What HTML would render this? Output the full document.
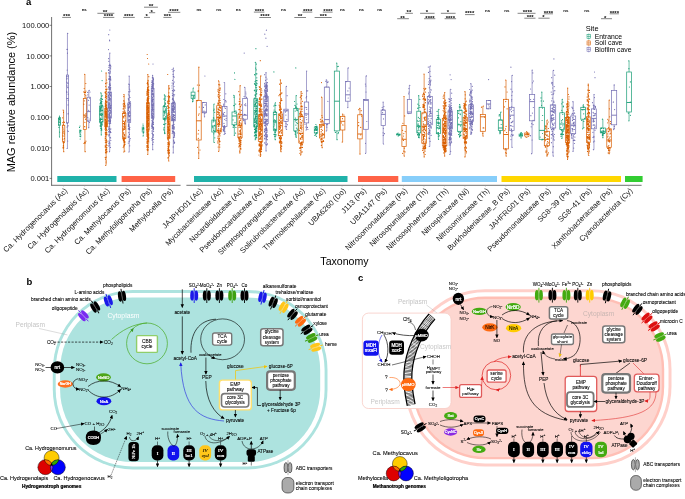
<!DOCTYPE html>
<html><head><meta charset="utf-8"><style>
html,body{margin:0;padding:0;background:#fff;}
body{width:685px;height:499px;overflow:hidden;}
svg{display:block;font-family:"Liberation Sans",sans-serif;will-change:transform;}
</style></head><body>
<svg width="685" height="499" viewBox="0 0 685 499">
<rect width="685" height="499" fill="#fff"/>
<text x="26" y="5" font-size="9.5" font-weight="bold" font-family="Liberation Sans, sans-serif">a</text>
<text transform="translate(15.3,102.1) rotate(-90)" text-anchor="middle" font-size="10.95" font-family="Liberation Sans, sans-serif">MAG relative abundance (%)</text>
<line x1="51.6" y1="17" x2="51.6" y2="185.6" stroke="#333" stroke-width="0.7"/>
<line x1="49.6" x2="51.6" y1="25.3" y2="25.3" stroke="#333" stroke-width="0.6"/>
<text x="49.3" y="28" text-anchor="end" font-size="7.55" fill="#111" font-family="Liberation Sans, sans-serif">100.000</text>
<line x1="49.6" x2="51.6" y1="55.9" y2="55.9" stroke="#333" stroke-width="0.6"/>
<text x="49.3" y="58.6" text-anchor="end" font-size="7.55" fill="#111" font-family="Liberation Sans, sans-serif">10.000</text>
<line x1="49.6" x2="51.6" y1="86.5" y2="86.5" stroke="#333" stroke-width="0.6"/>
<text x="49.3" y="89.2" text-anchor="end" font-size="7.55" fill="#111" font-family="Liberation Sans, sans-serif">1.000</text>
<line x1="49.6" x2="51.6" y1="117.1" y2="117.1" stroke="#333" stroke-width="0.6"/>
<text x="49.3" y="119.8" text-anchor="end" font-size="7.55" fill="#111" font-family="Liberation Sans, sans-serif">0.100</text>
<line x1="49.6" x2="51.6" y1="147.8" y2="147.8" stroke="#333" stroke-width="0.6"/>
<text x="49.3" y="150.5" text-anchor="end" font-size="7.55" fill="#111" font-family="Liberation Sans, sans-serif">0.010</text>
<line x1="49.6" x2="51.6" y1="178.4" y2="178.4" stroke="#333" stroke-width="0.6"/>
<text x="49.3" y="181.1" text-anchor="end" font-size="7.55" fill="#111" font-family="Liberation Sans, sans-serif">0.001</text>
<line x1="51.3" y1="185.3" x2="180.6" y2="185.3" stroke="#333" stroke-width="0.7"/>
<line x1="186.4" y1="185.3" x2="641.6" y2="185.3" stroke="#333" stroke-width="0.7"/>
<line x1="63.6" x2="63.6" y1="185.3" y2="186.6" stroke="#999" stroke-width="0.5"/>
<line x1="84.7" x2="84.7" y1="185.3" y2="186.6" stroke="#999" stroke-width="0.5"/>
<line x1="105.8" x2="105.8" y1="185.3" y2="186.6" stroke="#999" stroke-width="0.5"/>
<line x1="126.9" x2="126.9" y1="185.3" y2="186.6" stroke="#999" stroke-width="0.5"/>
<line x1="148" x2="148" y1="185.3" y2="186.6" stroke="#999" stroke-width="0.5"/>
<line x1="169.1" x2="169.1" y1="185.3" y2="186.6" stroke="#999" stroke-width="0.5"/>
<line x1="198.7" x2="198.7" y1="185.3" y2="186.6" stroke="#999" stroke-width="0.5"/>
<line x1="219.18" x2="219.18" y1="185.3" y2="186.6" stroke="#999" stroke-width="0.5"/>
<line x1="239.66" x2="239.66" y1="185.3" y2="186.6" stroke="#999" stroke-width="0.5"/>
<line x1="260.14" x2="260.14" y1="185.3" y2="186.6" stroke="#999" stroke-width="0.5"/>
<line x1="280.62" x2="280.62" y1="185.3" y2="186.6" stroke="#999" stroke-width="0.5"/>
<line x1="301.1" x2="301.1" y1="185.3" y2="186.6" stroke="#999" stroke-width="0.5"/>
<line x1="321.58" x2="321.58" y1="185.3" y2="186.6" stroke="#999" stroke-width="0.5"/>
<line x1="342.06" x2="342.06" y1="185.3" y2="186.6" stroke="#999" stroke-width="0.5"/>
<line x1="362.54" x2="362.54" y1="185.3" y2="186.6" stroke="#999" stroke-width="0.5"/>
<line x1="383.02" x2="383.02" y1="185.3" y2="186.6" stroke="#999" stroke-width="0.5"/>
<line x1="403.5" x2="403.5" y1="185.3" y2="186.6" stroke="#999" stroke-width="0.5"/>
<line x1="423.98" x2="423.98" y1="185.3" y2="186.6" stroke="#999" stroke-width="0.5"/>
<line x1="444.46" x2="444.46" y1="185.3" y2="186.6" stroke="#999" stroke-width="0.5"/>
<line x1="464.94" x2="464.94" y1="185.3" y2="186.6" stroke="#999" stroke-width="0.5"/>
<line x1="485.42" x2="485.42" y1="185.3" y2="186.6" stroke="#999" stroke-width="0.5"/>
<line x1="505.9" x2="505.9" y1="185.3" y2="186.6" stroke="#999" stroke-width="0.5"/>
<line x1="526.38" x2="526.38" y1="185.3" y2="186.6" stroke="#999" stroke-width="0.5"/>
<line x1="546.86" x2="546.86" y1="185.3" y2="186.6" stroke="#999" stroke-width="0.5"/>
<line x1="567.34" x2="567.34" y1="185.3" y2="186.6" stroke="#999" stroke-width="0.5"/>
<line x1="587.82" x2="587.82" y1="185.3" y2="186.6" stroke="#999" stroke-width="0.5"/>
<line x1="608.3" x2="608.3" y1="185.3" y2="186.6" stroke="#999" stroke-width="0.5"/>
<line x1="628.78" x2="628.78" y1="185.3" y2="186.6" stroke="#999" stroke-width="0.5"/>
<rect x="57.3" y="176" width="59.2" height="6" fill="#20B2AA"/>
<rect x="121.6" y="176" width="53.6" height="6" fill="#FF6347"/>
<rect x="194" y="176" width="153.5" height="6" fill="#20B2AA"/>
<rect x="358" y="176" width="40.3" height="6" fill="#FF6347"/>
<rect x="401.8" y="176" width="95.2" height="6" fill="#87CEFA"/>
<rect x="501.5" y="176" width="119.5" height="6" fill="#FFD700"/>
<rect x="625" y="176" width="17.6" height="6" fill="#32CD32"/>
<path d="M59.7 119.6h0M59.2 122.3h0M58.7 122.1h0M58.8 119.0h0M58.8 124.3h0M60.2 122.9h0M60.2 117.6h0M59.1 124.5h0M59.1 119.3h0M59.6 132.1h0M59.5 117.5h0M59.0 118.9h0M59.1 117.6h0M59.1 117.7h0M59.0 127.4h0M59.5 116.0h0M59.5 137.0h0M80.9 130.5h0M80.7 136.7h0M80.0 134.1h0M79.5 127.4h0M80.3 134.2h0M80.8 135.0h0M79.9 136.2h0M80.4 130.7h0M80.0 126.0h0M80.2 139.0h0M102.3 114.8h0M101.3 108.1h0M100.4 107.8h0M100.8 109.2h0M100.7 118.2h0M100.9 98.4h0M100.1 110.0h0M100.5 102.6h0M100.3 121.0h0M101.2 126.4h0M101.3 126.8h0M100.9 105.9h0M101.6 124.1h0M100.2 111.6h0M101.8 107.1h0M100.2 108.6h0M101.7 122.9h0M100.7 109.9h0M101.1 108.5h0M102.4 121.4h0M102.4 99.4h0M100.0 111.7h0M101.3 113.6h0M100.0 114.1h0M101.0 107.4h0M100.8 106.4h0M101.3 115.4h0M101.8 124.4h0M100.8 126.8h0M101.8 129.9h0M102.1 95.6h0M101.8 124.7h0M101.3 130.1h0M102.0 104.9h0M102.2 125.0h0M100.6 103.8h0M100.9 108.1h0M101.4 119.4h0M101.7 103.3h0M102.0 106.1h0M101.3 102.2h0M101.8 96.3h0M100.7 107.2h0M101.8 98.8h0M101.0 125.8h0M101.9 116.9h0M100.2 103.4h0M101.8 110.1h0M100.1 115.1h0M101.7 110.3h0M100.7 103.7h0M101.2 101.8h0M100.5 120.3h0M100.1 122.4h0M102.4 119.1h0M100.5 110.3h0M101.5 129.0h0M102.4 114.4h0M101.3 119.1h0M100.6 124.1h0M100.1 125.9h0M101.1 113.9h0M100.9 108.3h0M100.0 119.4h0M100.3 123.1h0M102.2 124.0h0M101.0 112.0h0M100.9 125.0h0M100.1 110.4h0M100.7 119.4h0M100.7 128.5h0M100.9 98.6h0M102.0 122.8h0M102.3 105.4h0M100.1 104.0h0M101.9 101.7h0M100.1 99.9h0M101.2 130.3h0M101.8 110.8h0M101.6 128.3h0M101.0 114.9h0M100.5 108.6h0M100.6 125.8h0M101.1 122.0h0M100.2 109.1h0M100.6 107.5h0M102.2 115.1h0M101.0 101.3h0M100.9 100.9h0M102.4 110.4h0M100.8 92.9h0M101.3 134.9h0M101.6 71.0h0M102.1 80.6h0M142.9 128.6h0M143.7 132.2h0M143.2 132.1h0M143.3 135.0h0M143.1 125.6h0M143.3 133.2h0M143.7 128.7h0M143.3 127.9h0M143.3 127.4h0M142.8 129.9h0M143.0 124.0h0M143.1 136.0h0M165.7 116.7h0M164.4 105.5h0M164.1 127.5h0M163.7 105.8h0M164.6 106.9h0M165.3 108.9h0M164.5 106.0h0M165.7 96.2h0M164.7 112.5h0M165.8 123.5h0M165.5 100.2h0M164.6 119.2h0M164.3 118.7h0M165.1 110.8h0M163.9 111.2h0M164.9 133.4h0M164.8 112.2h0M164.1 99.2h0M163.9 118.7h0M164.9 113.1h0M164.1 130.2h0M164.6 113.9h0M165.1 117.8h0M164.2 119.5h0M163.7 124.4h0M163.6 129.0h0M165.8 110.1h0M164.8 124.3h0M165.0 120.7h0M164.1 98.8h0M165.4 103.7h0M164.0 119.5h0M164.9 117.9h0M164.1 115.3h0M164.8 111.1h0M165.3 98.0h0M165.1 102.8h0M164.6 132.2h0M165.0 104.6h0M165.4 118.7h0M164.4 94.9h0M164.6 133.6h0M193.9 97.2h0M193.0 97.1h0M192.7 101.0h0M193.8 96.1h0M192.7 99.3h0M193.4 88.0h0M192.6 101.7h0M212.8 127.7h0M213.8 110.6h0M212.8 126.6h0M212.8 127.4h0M213.9 128.1h0M213.9 118.1h0M214.6 125.3h0M213.4 117.9h0M214.6 131.6h0M214.1 109.2h0M215.0 131.2h0M214.7 112.3h0M213.8 129.9h0M213.6 130.7h0M213.8 133.8h0M214.8 137.8h0M213.3 120.3h0M214.1 120.9h0M213.2 121.9h0M214.8 131.0h0M214.2 104.0h0M214.3 142.5h0M235.0 122.7h0M234.6 125.7h0M234.0 97.2h0M233.0 119.9h0M234.3 105.5h0M235.1 113.3h0M233.1 127.2h0M235.9 110.9h0M235.6 133.1h0M235.7 104.1h0M233.5 125.4h0M233.7 105.6h0M233.8 127.1h0M234.6 111.4h0M235.9 127.4h0M233.8 95.3h0M234.3 135.3h0M234.5 72.9h0M234.9 79.3h0M255.8 105.9h0M256.9 123.6h0M256.3 119.9h0M257.0 80.7h0M255.3 138.2h0M255.6 104.4h0M256.7 137.7h0M256.8 99.2h0M254.7 104.8h0M254.9 102.2h0M255.6 115.1h0M256.5 113.6h0M256.9 83.7h0M255.7 130.1h0M256.8 102.6h0M256.9 73.8h0M256.3 137.4h0M256.7 113.9h0M256.2 112.8h0M255.5 116.4h0M256.3 134.2h0M254.7 106.5h0M254.9 113.6h0M256.1 135.7h0M255.0 135.1h0M256.9 130.9h0M257.0 110.0h0M256.8 126.0h0M256.9 114.1h0M256.5 122.7h0M254.7 90.6h0M256.5 135.6h0M256.2 82.9h0M254.5 119.9h0M256.6 131.8h0M255.2 121.6h0M255.7 68.1h0M256.2 122.9h0M257.0 126.2h0M256.3 136.0h0M254.4 90.7h0M256.0 131.2h0M254.5 133.0h0M254.5 133.0h0M256.4 126.8h0M256.8 102.9h0M254.8 90.2h0M254.4 125.4h0M257.1 100.4h0M256.7 125.6h0M256.3 69.8h0M254.8 112.6h0M254.8 95.0h0M255.1 131.4h0M256.1 111.7h0M255.8 96.7h0M255.0 98.6h0M255.2 108.0h0M254.5 110.6h0M256.8 130.8h0M256.4 93.5h0M255.0 119.3h0M256.5 90.5h0M256.6 108.5h0M254.7 127.0h0M256.4 101.8h0M256.5 91.7h0M256.9 89.7h0M256.0 91.9h0M255.9 120.1h0M255.5 110.8h0M255.4 114.6h0M255.4 110.8h0M254.4 135.9h0M255.6 85.2h0M255.0 84.4h0M256.9 123.4h0M255.3 111.9h0M256.7 123.9h0M256.3 106.0h0M255.4 130.9h0M256.7 121.2h0M256.0 135.4h0M255.6 128.9h0M256.4 100.5h0M256.2 121.5h0M256.9 123.9h0M256.0 73.8h0M256.9 105.8h0M255.0 75.0h0M255.3 114.9h0M254.9 121.7h0M257.0 83.3h0M256.0 132.4h0M256.1 110.3h0M254.5 83.7h0M254.9 114.5h0M256.8 116.2h0M256.0 80.7h0M254.8 120.8h0M256.9 111.1h0M254.8 104.2h0M255.5 108.1h0M255.7 131.6h0M256.8 120.6h0M255.1 124.7h0M256.2 130.4h0M254.8 106.4h0M256.3 132.0h0M255.0 113.6h0M256.2 108.2h0M256.3 64.1h0M255.1 100.7h0M255.9 121.9h0M255.2 105.8h0M256.5 108.5h0M256.8 129.0h0M254.5 74.6h0M255.8 106.1h0M255.6 129.9h0M256.4 126.4h0M257.1 100.1h0M254.7 122.6h0M256.8 84.1h0M254.9 101.6h0M256.1 127.0h0M255.1 81.7h0M254.5 126.5h0M254.9 83.9h0M255.1 125.0h0M256.2 116.5h0M256.8 77.8h0M255.1 103.7h0M255.9 87.5h0M255.7 96.8h0M254.4 122.1h0M256.0 102.8h0M255.2 135.1h0M254.7 129.1h0M255.5 94.8h0M255.3 117.3h0M255.5 103.4h0M255.9 109.6h0M256.6 85.5h0M256.9 108.1h0M256.5 127.4h0M255.9 94.7h0M254.7 106.0h0M255.5 132.4h0M256.3 73.9h0M256.8 128.3h0M256.5 102.9h0M255.3 84.5h0M255.6 122.2h0M255.3 132.2h0M256.8 93.8h0M255.5 118.3h0M255.9 128.5h0M256.8 106.5h0M254.6 132.6h0M254.5 125.9h0M255.9 130.4h0M255.9 85.7h0M254.7 124.6h0M256.1 117.7h0M256.9 129.0h0M255.0 99.1h0M255.8 134.7h0M255.8 134.6h0M255.5 128.6h0M257.0 106.6h0M255.2 129.1h0M256.6 87.8h0M256.2 123.6h0M256.6 114.6h0M254.4 98.1h0M255.7 128.9h0M255.3 134.8h0M255.4 95.4h0M254.5 129.4h0M255.3 62.3h0M255.2 139.7h0M255.9 48.7h0M274.0 120.6h0M273.9 126.9h0M275.9 131.0h0M274.7 128.8h0M275.1 129.1h0M273.8 106.0h0M275.8 114.3h0M275.4 129.3h0M274.6 124.9h0M275.8 105.4h0M275.5 132.3h0M274.6 114.6h0M274.1 110.0h0M273.8 120.8h0M274.1 120.3h0M275.6 136.2h0M275.1 134.3h0M274.7 132.1h0M276.1 134.8h0M274.6 119.8h0M275.5 111.8h0M275.5 129.8h0M274.1 111.6h0M275.7 111.3h0M274.9 105.2h0M274.8 123.1h0M275.2 121.9h0M274.5 134.5h0M275.8 114.4h0M274.7 136.3h0M276.1 130.7h0M274.0 134.4h0M273.8 121.2h0M275.4 120.7h0M274.6 114.6h0M274.0 114.6h0M273.9 130.6h0M275.4 130.8h0M274.0 126.8h0M274.3 129.2h0M275.5 102.8h0M275.3 139.7h0M273.9 71.9h0M295.9 135.9h0M295.2 111.1h0M294.9 105.3h0M297.3 109.9h0M297.4 132.9h0M295.3 134.4h0M296.3 122.5h0M296.1 106.9h0M297.3 123.4h0M294.9 119.3h0M297.0 104.0h0M296.2 108.1h0M296.9 108.2h0M297.3 110.7h0M297.3 129.2h0M296.3 108.1h0M295.2 105.5h0M295.9 125.1h0M295.3 121.0h0M296.4 128.1h0M295.8 107.2h0M295.6 118.1h0M295.4 131.3h0M294.5 101.5h0M295.5 106.9h0M295.5 131.9h0M294.9 131.4h0M295.3 133.1h0M296.1 120.3h0M296.4 109.8h0M296.3 95.6h0M296.2 137.3h0M295.8 67.9h0M316.6 130.5h0M316.5 127.3h0M316.5 132.6h0M314.7 129.5h0M317.1 129.1h0M316.4 133.5h0M316.4 126.3h0M317.0 129.4h0M316.5 129.4h0M315.8 134.4h0M315.6 128.3h0M315.9 135.0h0M316.8 130.5h0M315.1 129.9h0M315.2 126.6h0M315.5 128.8h0M316.8 133.2h0M315.1 129.7h0M314.8 132.7h0M317.0 128.2h0M314.7 129.9h0M316.9 126.3h0M315.3 126.7h0M314.7 130.6h0M316.0 133.5h0M316.2 127.5h0M314.8 135.3h0M316.8 126.2h0M317.1 132.9h0M316.3 130.2h0M315.9 124.5h0M316.4 136.5h0M337.7 66.6h0M338.2 66.4h0M338.5 132.6h0M338.0 133.6h0M335.4 132.4h0M336.7 63.1h0M337.1 139.7h0M397.2 133.8h0M397.4 134.0h0M398.7 135.6h0M399.5 134.7h0M399.7 135.0h0M399.2 135.0h0M398.1 133.0h0M398.2 136.0h0M418.9 136.2h0M419.1 105.6h0M417.6 135.0h0M419.0 130.3h0M418.3 134.7h0M419.9 107.4h0M419.3 118.6h0M419.5 134.4h0M418.3 125.1h0M417.9 104.2h0M419.3 126.9h0M417.6 134.6h0M419.3 135.3h0M417.5 120.8h0M418.6 127.4h0M418.8 133.4h0M418.5 137.5h0M419.8 99.3h0M418.1 123.8h0M418.2 121.3h0M419.1 125.7h0M417.7 132.3h0M418.4 117.3h0M417.7 130.8h0M418.1 107.9h0M419.8 120.9h0M417.6 134.4h0M418.6 128.9h0M417.5 125.1h0M417.7 108.5h0M418.7 95.7h0M419.2 137.7h0M437.1 132.7h0M438.9 125.5h0M437.9 133.8h0M437.0 122.3h0M439.5 128.2h0M439.5 123.1h0M437.2 115.6h0M438.7 122.4h0M439.3 126.5h0M438.2 123.4h0M438.9 117.8h0M438.8 124.1h0M438.5 132.7h0M438.3 117.4h0M438.7 128.8h0M438.4 136.2h0M438.6 134.2h0M438.2 121.8h0M437.7 125.5h0M437.3 127.5h0M437.5 117.6h0M438.3 119.8h0M438.7 115.7h0M437.1 111.4h0M439.0 118.8h0M437.3 123.0h0M438.1 118.0h0M439.0 123.2h0M439.5 135.8h0M437.5 119.5h0M438.9 109.3h0M438.6 139.3h0M458.9 111.8h0M460.5 125.9h0M460.5 135.6h0M458.6 134.5h0M458.5 131.9h0M458.8 124.2h0M458.6 113.5h0M460.9 121.7h0M458.5 117.8h0M459.3 106.9h0M460.4 132.4h0M460.4 107.1h0M460.9 135.2h0M460.3 114.6h0M458.9 134.6h0M459.9 107.2h0M459.6 136.0h0M460.1 113.9h0M460.0 133.1h0M461.3 110.0h0M459.6 104.5h0M459.5 136.9h0M501.2 124.5h0M499.9 132.4h0M499.6 131.1h0M499.2 116.0h0M499.4 114.7h0M499.2 119.9h0M499.2 115.1h0M501.2 120.2h0M501.0 112.1h0M499.9 133.7h0M520.8 133.9h0M519.9 135.6h0M522.3 135.7h0M520.9 135.7h0M520.3 134.4h0M520.5 133.0h0M522.3 133.8h0M521.0 137.3h0M521.1 133.6h0M521.3 134.6h0M521.3 132.5h0M521.1 138.0h0M542.6 115.5h0M542.8 139.4h0M541.0 97.9h0M541.6 105.3h0M541.2 100.9h0M542.1 120.5h0M540.1 137.1h0M543.5 101.1h0M542.5 108.1h0M542.5 133.5h0M541.8 92.1h0M542.0 140.0h0M563.5 128.1h0M561.1 134.7h0M562.8 114.3h0M561.7 120.6h0M562.9 102.2h0M561.8 133.7h0M563.3 106.8h0M562.1 134.3h0M561.8 122.2h0M563.7 130.9h0M561.8 130.4h0M561.7 103.8h0M561.1 129.7h0M562.5 119.6h0M563.4 106.2h0M562.9 125.8h0M562.4 132.1h0M560.7 134.2h0M562.9 131.1h0M563.4 134.5h0M562.3 112.4h0M561.1 136.4h0M561.8 110.3h0M560.8 127.7h0M562.8 134.2h0M562.3 99.3h0M561.8 138.5h0M583.8 106.7h0M583.3 107.6h0M582.8 109.8h0M583.8 121.4h0M583.7 113.8h0M581.7 120.4h0M583.9 127.6h0M584.5 118.3h0M583.4 104.9h0M582.6 128.8h0M603.1 130.3h0M601.9 132.5h0M603.7 131.4h0M603.5 128.6h0M601.2 132.0h0M602.9 133.4h0M603.4 133.5h0M601.5 128.4h0M603.5 131.3h0M602.4 134.7h0M604.5 133.4h0M602.6 132.7h0M603.0 135.5h0M603.5 133.6h0M601.3 132.5h0M603.3 134.1h0M603.7 131.9h0M602.6 132.6h0M602.4 135.4h0M601.6 128.2h0M602.4 119.2h0M602.9 137.7h0M630.4 115.3h0M630.3 102.0h0M629.4 87.0h0M630.4 81.9h0M628.9 68.7h0M628.4 113.2h0M628.8 60.8h0M628.9 120.8h0" stroke="#1B9E77" stroke-width="1.2" stroke-linecap="round" fill="none"/><path d="M63.2 142.8h0M63.5 148.1h0M63.6 147.6h0M64.1 136.0h0M63.3 124.3h0M63.7 121.8h0M64.4 138.7h0M62.8 135.9h0M64.5 122.3h0M63.4 146.2h0M63.5 112.3h0M62.8 127.2h0M63.1 148.0h0M62.8 139.2h0M64.3 134.1h0M63.2 142.0h0M64.3 131.0h0M63.0 147.7h0M63.6 129.0h0M62.7 117.8h0M63.7 131.2h0M63.6 143.1h0M62.8 122.6h0M64.3 142.5h0M63.4 145.2h0M63.1 110.0h0M63.8 151.7h0M84.6 126.5h0M85.8 116.5h0M84.9 126.8h0M83.8 91.9h0M83.8 104.2h0M84.8 142.4h0M84.5 92.4h0M85.5 92.4h0M84.3 115.8h0M84.9 122.3h0M85.8 95.5h0M84.9 117.4h0M84.8 94.5h0M85.9 91.1h0M85.9 97.1h0M85.9 115.8h0M84.0 143.4h0M84.3 100.8h0M85.5 119.2h0M85.4 142.9h0M85.8 83.5h0M85.9 141.2h0M86.0 113.6h0M84.7 142.7h0M84.2 88.5h0M84.7 74.3h0M85.2 151.7h0M105.6 113.4h0M107.0 116.6h0M105.2 129.4h0M106.9 121.5h0M105.1 119.3h0M106.7 125.5h0M105.6 127.4h0M106.1 111.3h0M106.5 107.3h0M106.0 103.9h0M106.6 80.0h0M106.4 125.4h0M105.6 110.8h0M105.4 102.6h0M106.3 118.1h0M106.3 112.5h0M106.0 114.0h0M106.8 134.5h0M105.6 112.7h0M105.7 133.1h0M106.4 117.6h0M106.4 113.2h0M105.2 147.0h0M106.5 116.2h0M106.6 123.1h0M107.0 89.0h0M105.6 123.6h0M105.7 122.5h0M105.5 138.3h0M106.4 116.1h0M105.9 150.6h0M105.4 126.4h0M105.9 109.5h0M106.5 129.2h0M105.8 128.2h0M106.6 125.7h0M105.9 120.7h0M105.5 114.5h0M105.8 113.6h0M107.0 151.8h0M106.7 115.0h0M105.2 140.0h0M106.9 115.3h0M106.9 115.1h0M106.7 116.0h0M105.2 157.6h0M105.6 125.4h0M105.8 106.6h0M106.3 126.1h0M105.7 121.7h0M106.6 108.5h0M107.0 134.7h0M106.1 112.7h0M105.9 127.8h0M106.1 116.4h0M106.7 148.9h0M106.6 105.1h0M105.8 93.2h0M105.3 122.9h0M105.6 122.3h0M106.2 109.0h0M106.8 126.5h0M105.3 145.5h0M106.5 117.6h0M105.9 112.7h0M106.6 102.0h0M105.4 134.0h0M106.2 144.5h0M105.5 122.1h0M105.4 112.9h0M105.8 136.1h0M106.1 126.8h0M106.4 123.4h0M106.1 153.0h0M106.9 130.1h0M105.4 113.8h0M106.3 126.4h0M106.8 141.9h0M106.6 113.2h0M106.3 152.8h0M105.8 89.5h0M105.6 112.2h0M105.5 101.6h0M106.4 114.5h0M105.5 114.2h0M105.3 136.9h0M106.2 115.7h0M105.5 83.6h0M105.7 95.6h0M105.7 126.0h0M105.9 94.1h0M105.8 127.0h0M105.5 121.9h0M106.0 125.1h0M106.8 140.8h0M105.2 111.4h0M106.9 101.3h0M105.9 119.9h0M105.7 86.5h0M105.3 107.1h0M107.0 123.3h0M107.0 110.7h0M105.2 138.6h0M106.9 141.4h0M105.4 105.1h0M105.9 147.2h0M105.5 130.3h0M106.1 115.8h0M105.6 110.7h0M105.2 106.5h0M105.2 103.8h0M106.3 152.1h0M105.7 101.0h0M106.0 119.2h0M106.0 96.6h0M106.1 119.8h0M106.6 122.5h0M106.0 111.7h0M106.0 110.8h0M106.1 116.6h0M105.3 120.2h0M106.1 104.2h0M105.9 117.7h0M106.8 151.1h0M106.7 132.4h0M106.1 126.6h0M105.5 128.5h0M105.3 128.3h0M105.4 122.4h0M106.7 145.2h0M106.9 117.7h0M106.1 113.3h0M105.5 109.1h0M106.4 125.7h0M106.6 149.5h0M106.4 118.2h0M106.2 124.5h0M105.3 106.2h0M105.9 134.8h0M107.0 145.5h0M106.6 94.2h0M106.6 111.7h0M105.6 123.6h0M106.3 108.1h0M105.1 92.7h0M106.3 111.2h0M106.9 117.9h0M106.4 112.6h0M105.8 108.4h0M105.6 115.0h0M105.5 100.1h0M105.4 97.4h0M105.4 146.3h0M106.8 120.2h0M105.6 141.0h0M106.2 120.3h0M106.0 120.3h0M105.6 132.4h0M106.2 157.2h0M105.3 112.8h0M106.2 161.0h0M105.5 150.8h0M106.4 98.2h0M105.7 149.3h0M106.8 109.3h0M105.2 132.8h0M106.0 132.2h0M105.6 96.8h0M105.2 112.7h0M106.5 122.3h0M105.7 132.9h0M106.7 96.3h0M106.4 91.2h0M106.8 147.4h0M105.6 113.2h0M106.6 107.4h0M105.8 124.7h0M106.4 125.2h0M107.0 101.9h0M106.5 123.9h0M106.5 139.9h0M105.5 92.6h0M106.9 82.8h0M105.3 108.9h0M105.4 142.7h0M106.5 109.2h0M106.6 102.5h0M105.8 119.3h0M106.9 130.5h0M106.9 124.5h0M105.5 152.7h0M106.8 109.0h0M106.7 134.7h0M105.3 91.9h0M105.5 122.4h0M105.2 116.2h0M106.5 113.6h0M107.0 114.3h0M106.3 105.7h0M106.0 116.0h0M106.5 142.7h0M106.8 89.4h0M105.5 123.6h0M106.6 112.1h0M106.1 162.8h0M105.5 123.1h0M106.7 114.8h0M105.7 125.9h0M106.1 121.3h0M105.3 120.2h0M106.7 133.2h0M105.9 94.1h0M105.3 124.9h0M105.5 159.2h0M106.1 125.1h0M105.6 124.8h0M106.6 118.2h0M105.8 134.4h0M106.8 111.3h0M105.5 103.5h0M106.3 122.7h0M106.8 116.9h0M105.7 111.9h0M105.4 105.5h0M105.8 113.0h0M106.1 72.9h0M105.7 165.3h0M105.7 83.3h0M124.9 137.7h0M124.9 141.3h0M123.1 139.3h0M124.6 104.3h0M125.2 127.1h0M124.2 104.1h0M123.7 137.3h0M123.3 129.7h0M124.2 113.2h0M124.3 125.2h0M123.3 116.7h0M123.7 123.7h0M124.3 115.8h0M124.4 141.5h0M124.7 103.1h0M124.5 127.2h0M123.6 121.3h0M123.9 126.4h0M123.8 96.6h0M124.3 145.4h0M125.4 120.7h0M123.4 132.8h0M124.1 135.3h0M124.1 123.3h0M123.5 100.8h0M123.4 140.4h0M124.6 122.4h0M125.0 112.1h0M124.8 110.9h0M124.9 142.7h0M123.3 112.8h0M124.8 151.1h0M125.3 108.0h0M124.9 106.8h0M123.9 141.5h0M124.7 125.0h0M124.3 123.3h0M124.9 121.6h0M124.1 142.5h0M123.3 121.2h0M123.2 109.1h0M125.0 144.3h0M123.5 138.8h0M123.0 136.3h0M124.2 127.7h0M124.3 140.1h0M124.2 142.3h0M123.9 106.4h0M125.3 105.8h0M123.2 108.3h0M124.3 123.6h0M125.3 112.4h0M124.5 124.6h0M124.3 144.1h0M123.8 146.4h0M124.2 139.7h0M124.7 135.9h0M125.1 138.6h0M123.7 117.5h0M123.5 108.1h0M124.4 129.3h0M124.5 138.3h0M124.9 123.8h0M123.0 130.8h0M124.4 134.6h0M124.2 103.0h0M124.6 104.4h0M124.4 113.6h0M123.4 116.6h0M123.2 147.6h0M125.0 126.6h0M123.1 111.7h0M123.8 132.8h0M123.4 105.9h0M125.2 116.1h0M124.1 105.8h0M125.1 115.0h0M124.1 113.2h0M123.1 104.0h0M123.8 139.5h0M123.7 139.8h0M124.2 113.2h0M123.9 145.3h0M123.7 103.5h0M124.9 142.6h0M123.9 117.9h0M123.7 137.8h0M124.3 101.0h0M123.2 123.6h0M123.8 134.2h0M123.9 94.5h0M123.8 152.0h0M147.2 106.1h0M147.1 136.4h0M147.0 142.2h0M147.8 88.8h0M148.0 88.1h0M148.0 116.9h0M147.0 114.0h0M148.0 126.3h0M147.1 99.3h0M147.1 133.7h0M147.2 139.2h0M148.4 136.1h0M147.0 124.0h0M146.9 113.1h0M147.5 87.7h0M148.6 93.1h0M148.0 101.1h0M147.2 131.6h0M148.4 91.2h0M147.1 100.4h0M148.7 122.9h0M148.1 80.4h0M148.4 117.8h0M148.2 128.0h0M147.7 108.2h0M147.1 135.8h0M148.4 106.0h0M147.4 118.0h0M147.1 92.1h0M148.2 136.5h0M146.9 130.6h0M147.9 107.1h0M146.9 132.6h0M148.2 125.1h0M147.2 115.8h0M148.6 139.1h0M147.5 82.4h0M148.0 127.1h0M147.6 107.6h0M147.6 118.6h0M148.0 103.2h0M147.8 103.6h0M147.1 149.3h0M147.4 89.4h0M148.0 89.1h0M148.8 102.4h0M148.4 118.1h0M148.1 132.9h0M147.4 91.7h0M148.7 131.6h0M148.4 90.2h0M148.1 94.8h0M147.7 117.9h0M147.5 112.1h0M147.6 137.5h0M147.6 109.3h0M148.6 103.2h0M148.0 115.0h0M147.0 107.6h0M148.3 111.3h0M147.5 102.1h0M147.0 135.8h0M148.8 118.7h0M147.7 123.9h0M147.8 148.1h0M147.4 141.6h0M147.4 107.4h0M147.7 87.8h0M148.6 119.3h0M148.3 87.1h0M147.0 135.5h0M147.5 131.6h0M147.9 108.1h0M148.7 134.9h0M148.3 111.8h0M148.2 92.6h0M147.7 104.6h0M147.5 119.9h0M147.4 119.1h0M148.7 103.4h0M147.0 102.8h0M147.5 98.8h0M147.1 107.2h0M148.5 147.2h0M148.0 117.5h0M148.1 97.6h0M147.4 123.0h0M148.4 99.4h0M148.8 123.9h0M147.9 110.5h0M146.9 145.6h0M148.4 120.7h0M147.3 129.7h0M146.9 147.2h0M147.9 104.6h0M148.7 86.7h0M147.2 107.0h0M147.2 101.9h0M147.3 124.0h0M148.1 137.2h0M147.8 124.6h0M147.1 127.4h0M148.1 81.8h0M147.0 126.3h0M148.7 92.7h0M147.3 135.1h0M147.7 110.1h0M148.4 108.5h0M148.8 90.1h0M147.2 118.4h0M147.4 131.7h0M147.4 132.3h0M148.6 116.1h0M148.0 121.4h0M148.6 118.6h0M147.6 126.9h0M147.2 131.7h0M147.4 130.1h0M148.8 106.0h0M147.2 127.6h0M147.2 83.4h0M147.5 83.1h0M148.6 133.8h0M147.3 150.1h0M146.9 134.2h0M147.7 88.2h0M148.8 103.5h0M147.1 126.7h0M147.7 106.7h0M147.2 121.5h0M147.1 94.7h0M148.7 116.4h0M148.8 108.8h0M147.4 133.5h0M147.0 110.1h0M147.7 116.7h0M146.9 91.7h0M147.9 97.5h0M148.8 98.2h0M147.7 133.7h0M148.8 114.3h0M147.7 113.4h0M146.9 130.0h0M147.4 101.9h0M147.3 92.0h0M148.5 106.1h0M147.0 131.1h0M148.1 90.7h0M148.8 90.5h0M148.5 123.1h0M148.8 96.4h0M148.3 120.0h0M147.6 122.2h0M148.2 96.8h0M147.9 120.0h0M147.4 119.5h0M148.3 137.6h0M147.3 94.2h0M147.9 128.0h0M148.5 95.2h0M148.5 107.7h0M148.5 120.3h0M146.9 131.7h0M148.5 125.5h0M147.4 107.2h0M148.5 112.6h0M147.0 93.7h0M148.2 129.9h0M148.4 115.9h0M148.2 145.0h0M147.3 117.1h0M147.6 112.2h0M148.0 108.4h0M148.3 107.8h0M147.3 111.7h0M148.1 147.1h0M147.7 143.5h0M147.6 135.2h0M147.6 114.9h0M147.7 90.0h0M147.6 100.2h0M148.7 118.6h0M148.3 129.2h0M147.5 121.0h0M147.6 123.4h0M148.6 94.6h0M148.0 150.6h0M148.5 115.5h0M148.6 115.8h0M147.9 116.3h0M148.3 134.4h0M148.2 104.1h0M148.4 99.5h0M147.0 109.0h0M147.0 146.7h0M147.0 136.1h0M147.8 98.5h0M147.7 121.7h0M148.5 103.0h0M147.5 145.2h0M148.8 76.7h0M147.5 110.1h0M148.0 126.2h0M147.0 93.0h0M148.4 126.4h0M147.3 142.1h0M147.6 117.5h0M148.0 116.2h0M147.3 124.6h0M147.0 136.2h0M147.7 117.4h0M147.4 90.7h0M148.3 141.3h0M147.8 135.6h0M148.6 138.2h0M148.1 114.7h0M147.0 126.3h0M148.7 86.6h0M147.8 100.0h0M147.4 97.9h0M147.1 125.6h0M147.1 143.4h0M148.7 124.2h0M147.4 120.8h0M147.2 134.2h0M146.9 121.8h0M147.3 141.2h0M148.0 90.6h0M147.5 127.6h0M148.4 145.0h0M146.9 139.2h0M147.3 120.3h0M147.8 83.2h0M148.2 93.2h0M147.1 125.4h0M148.7 130.0h0M147.5 89.9h0M148.7 137.2h0M148.6 116.1h0M147.0 95.5h0M148.6 110.3h0M148.7 142.8h0M148.8 119.2h0M148.2 128.5h0M147.8 112.0h0M147.2 123.0h0M147.0 141.1h0M148.0 83.3h0M147.8 135.6h0M147.1 116.9h0M148.0 84.9h0M148.2 113.1h0M148.7 107.6h0M148.6 125.7h0M147.0 107.0h0M147.8 146.1h0M147.8 84.3h0M147.9 117.5h0M147.7 108.3h0M147.3 106.4h0M148.6 137.1h0M147.8 128.5h0M148.2 136.0h0M147.2 123.3h0M147.6 103.8h0M148.6 89.9h0M147.3 118.6h0M148.3 99.7h0M148.0 109.6h0M148.1 149.5h0M147.5 100.2h0M148.7 137.9h0M147.7 128.4h0M147.3 105.4h0M147.2 98.0h0M147.3 106.8h0M148.8 111.9h0M147.8 132.7h0M148.7 124.0h0M147.3 135.0h0M148.4 100.7h0M147.6 122.4h0M148.2 129.1h0M148.5 85.0h0M148.3 131.2h0M148.0 132.6h0M148.4 125.3h0M148.8 141.1h0M147.1 102.2h0M147.4 132.8h0M147.3 142.7h0M147.8 109.4h0M148.3 134.2h0M148.4 124.2h0M148.5 102.2h0M148.2 105.4h0M148.0 140.2h0M146.9 132.7h0M147.1 103.4h0M148.1 138.6h0M147.8 74.5h0M147.7 154.5h0M147.2 54.5h0M147.5 58.5h0M148.7 64.0h0M168.5 150.8h0M168.1 139.7h0M169.0 103.9h0M168.1 153.0h0M167.7 122.0h0M168.5 125.1h0M169.5 129.1h0M169.1 103.8h0M168.6 119.9h0M168.0 131.2h0M169.2 137.7h0M168.9 143.0h0M168.0 115.5h0M168.2 148.7h0M169.3 143.6h0M168.1 143.7h0M169.1 128.0h0M167.7 117.6h0M167.7 131.7h0M169.1 122.0h0M167.9 157.9h0M168.0 138.8h0M168.3 127.8h0M168.2 126.8h0M168.0 117.9h0M169.0 130.0h0M169.1 133.8h0M168.0 127.1h0M167.8 144.2h0M168.4 131.6h0M169.2 100.2h0M168.8 154.1h0M169.3 131.9h0M167.8 150.2h0M167.9 108.5h0M167.9 129.1h0M168.2 100.6h0M169.1 128.0h0M168.1 132.3h0M169.0 130.4h0M168.1 114.5h0M168.2 130.9h0M169.2 121.1h0M169.6 142.0h0M168.3 148.5h0M168.9 92.8h0M168.7 117.1h0M169.4 137.0h0M167.9 120.4h0M168.4 107.6h0M169.2 107.7h0M168.4 117.6h0M169.0 121.7h0M168.6 123.2h0M168.4 112.3h0M169.5 136.9h0M168.6 95.5h0M167.7 101.7h0M167.9 139.5h0M168.3 129.9h0M169.2 132.9h0M168.4 117.9h0M167.8 137.7h0M167.9 133.3h0M168.0 117.6h0M168.0 113.4h0M168.5 133.2h0M168.1 118.8h0M168.2 153.3h0M169.5 114.3h0M168.9 137.5h0M169.1 126.5h0M168.0 96.6h0M169.3 153.6h0M168.2 121.6h0M168.0 138.3h0M168.0 148.2h0M168.0 103.4h0M169.4 134.5h0M169.2 88.8h0M169.5 114.4h0M169.3 135.1h0M168.4 124.2h0M167.9 124.5h0M168.5 136.5h0M169.2 114.2h0M169.3 136.7h0M169.2 141.8h0M169.0 149.7h0M167.9 134.9h0M169.3 103.3h0M169.3 135.0h0M169.5 152.6h0M169.0 110.6h0M168.7 135.6h0M169.2 123.6h0M168.1 140.0h0M167.9 121.6h0M169.2 116.6h0M167.8 117.6h0M168.6 99.2h0M169.5 134.1h0M169.4 130.2h0M169.1 136.2h0M168.8 135.7h0M169.3 129.2h0M168.5 106.8h0M168.1 142.6h0M169.6 124.2h0M169.5 96.4h0M168.5 129.3h0M167.8 105.6h0M169.2 113.1h0M169.1 121.0h0M169.4 150.5h0M168.4 146.2h0M168.1 114.9h0M169.1 123.4h0M168.7 128.3h0M169.6 97.2h0M169.2 144.1h0M168.8 136.5h0M168.4 140.0h0M167.7 150.8h0M169.4 114.4h0M169.5 144.9h0M168.9 97.2h0M168.9 146.4h0M168.5 122.2h0M167.8 106.4h0M169.1 123.7h0M168.2 100.5h0M168.9 98.4h0M168.8 150.9h0M169.1 111.9h0M169.3 101.5h0M169.5 155.8h0M167.8 117.9h0M167.9 142.5h0M169.6 130.4h0M168.1 133.2h0M168.5 119.6h0M168.0 102.4h0M168.0 117.9h0M168.0 127.4h0M169.6 125.9h0M168.6 137.3h0M167.9 129.3h0M169.0 117.6h0M168.4 146.7h0M169.0 123.9h0M169.4 119.4h0M169.3 88.1h0M168.9 103.7h0M168.5 146.7h0M169.0 128.5h0M167.9 115.2h0M169.2 135.2h0M168.3 110.6h0M168.5 144.3h0M169.4 118.6h0M168.3 157.3h0M168.4 127.2h0M168.7 147.7h0M168.6 143.0h0M168.9 124.7h0M168.4 149.5h0M169.5 124.2h0M168.3 101.6h0M169.0 152.0h0M167.8 120.3h0M168.1 152.4h0M169.1 121.9h0M169.5 114.6h0M167.8 114.8h0M168.0 146.2h0M168.4 113.8h0M169.2 135.6h0M167.7 115.6h0M167.7 118.8h0M168.9 85.7h0M168.8 161.0h0M167.7 74.5h0M198.6 130.3h0M198.6 152.9h0M197.4 100.7h0M198.5 115.1h0M199.4 85.2h0M197.7 100.3h0M198.3 90.7h0M200.0 150.0h0M199.1 113.8h0M197.4 85.0h0M197.5 147.3h0M198.2 91.6h0M198.2 133.9h0M198.3 138.3h0M199.3 107.0h0M198.9 67.2h0M198.7 158.5h0M218.3 126.6h0M219.7 133.9h0M220.3 108.1h0M220.1 100.3h0M218.9 124.1h0M218.1 138.3h0M219.8 141.1h0M219.6 141.7h0M218.1 111.6h0M219.0 139.6h0M219.8 84.9h0M218.6 104.1h0M219.7 114.8h0M219.1 96.7h0M218.9 129.9h0M218.1 102.9h0M220.0 95.6h0M219.4 113.0h0M219.2 115.6h0M217.4 117.2h0M220.0 141.6h0M219.4 100.1h0M218.4 126.1h0M219.6 134.2h0M219.5 138.5h0M217.8 142.9h0M217.9 119.1h0M218.7 128.5h0M219.2 110.5h0M219.1 118.2h0M220.1 118.9h0M218.1 130.2h0M219.2 125.9h0M219.9 92.5h0M218.2 124.8h0M218.6 100.9h0M219.4 107.4h0M219.2 90.6h0M220.1 88.8h0M218.2 147.0h0M217.7 112.3h0M218.4 112.3h0M219.9 115.5h0M218.1 89.3h0M217.8 114.4h0M220.5 102.8h0M219.8 106.7h0M218.7 130.2h0M220.4 107.6h0M218.8 97.4h0M218.9 133.7h0M220.2 116.4h0M219.2 123.1h0M218.2 120.8h0M217.7 104.0h0M220.5 128.9h0M219.4 122.2h0M217.8 138.1h0M219.7 124.4h0M219.5 122.6h0M218.8 84.6h0M218.5 121.4h0M218.3 123.3h0M219.1 140.6h0M219.7 144.7h0M217.5 130.3h0M218.0 96.0h0M218.7 118.9h0M218.4 119.4h0M218.8 139.4h0M218.4 131.2h0M218.7 103.5h0M217.8 141.1h0M220.2 117.5h0M219.8 117.3h0M219.1 109.7h0M220.2 130.4h0M218.7 120.5h0M220.3 117.4h0M219.7 121.1h0M217.8 130.0h0M217.5 124.5h0M218.9 109.0h0M218.1 109.7h0M218.0 108.1h0M220.0 90.1h0M218.2 112.3h0M219.8 147.1h0M218.7 130.5h0M217.8 103.9h0M219.3 123.9h0M219.0 94.0h0M218.3 117.2h0M218.3 94.5h0M219.9 88.2h0M217.8 111.7h0M219.7 98.5h0M220.2 116.5h0M220.2 131.5h0M218.2 132.6h0M218.1 136.2h0M220.0 135.8h0M220.1 87.9h0M219.4 112.5h0M219.7 117.9h0M217.8 123.1h0M219.6 122.8h0M220.4 110.7h0M218.6 116.9h0M219.5 102.2h0M219.0 120.7h0M220.5 130.7h0M218.9 132.1h0M219.8 141.8h0M220.0 104.9h0M219.9 141.3h0M218.6 113.9h0M220.1 133.6h0M217.9 91.1h0M218.5 92.3h0M218.5 80.9h0M218.6 151.3h0M239.9 140.9h0M240.6 106.7h0M239.5 151.1h0M240.8 149.2h0M240.9 129.5h0M239.2 123.3h0M240.3 106.6h0M241.3 128.1h0M239.3 138.1h0M239.6 103.5h0M240.2 146.5h0M238.6 138.2h0M241.3 125.9h0M239.7 134.0h0M238.7 113.3h0M238.9 118.0h0M240.2 130.7h0M240.0 133.1h0M240.9 133.5h0M240.9 136.3h0M241.1 114.4h0M240.8 148.2h0M241.0 140.8h0M241.0 144.2h0M240.5 144.4h0M240.2 112.1h0M240.1 120.3h0M241.1 134.4h0M240.5 130.6h0M240.8 132.5h0M239.4 116.7h0M240.9 142.5h0M239.6 116.9h0M238.8 146.8h0M240.5 148.3h0M240.5 120.2h0M239.9 143.2h0M239.3 122.3h0M240.8 140.1h0M238.9 109.7h0M239.4 121.2h0M239.5 99.0h0M240.4 134.5h0M241.2 123.3h0M240.2 142.7h0M239.3 145.2h0M240.8 126.1h0M241.4 124.5h0M241.0 123.3h0M238.9 143.6h0M241.2 110.4h0M240.0 101.6h0M239.9 124.8h0M241.2 138.4h0M239.0 136.9h0M241.1 140.7h0M238.6 137.5h0M239.6 139.1h0M240.7 145.9h0M239.1 124.0h0M238.8 139.9h0M239.6 145.7h0M241.1 127.8h0M239.6 140.8h0M240.1 116.0h0M241.4 104.9h0M239.8 122.6h0M240.3 136.3h0M239.3 104.4h0M239.8 125.9h0M239.2 141.5h0M239.6 118.1h0M239.2 138.6h0M240.1 142.8h0M238.8 91.6h0M239.7 109.5h0M239.4 139.1h0M240.4 127.3h0M240.0 115.4h0M240.4 131.6h0M239.2 124.8h0M240.9 118.6h0M239.6 131.1h0M240.4 141.2h0M239.1 127.5h0M240.1 140.4h0M239.5 94.8h0M238.6 134.0h0M240.8 134.6h0M239.2 101.5h0M240.2 85.7h0M239.8 152.9h0M260.3 121.7h0M261.5 138.9h0M259.9 101.8h0M261.9 98.8h0M261.5 143.5h0M260.0 118.1h0M262.0 126.0h0M259.7 141.6h0M259.8 115.4h0M259.9 128.8h0M260.8 105.0h0M261.1 134.3h0M260.4 102.6h0M260.4 115.9h0M261.6 92.7h0M261.4 142.5h0M259.8 119.5h0M259.3 114.5h0M260.0 124.2h0M261.5 88.9h0M260.0 138.9h0M261.9 119.5h0M259.2 111.2h0M262.0 109.2h0M260.1 151.6h0M261.9 145.4h0M261.8 115.5h0M260.1 129.7h0M261.8 113.5h0M261.5 148.8h0M261.8 125.8h0M260.7 124.5h0M261.0 133.6h0M259.2 139.2h0M259.4 98.9h0M261.4 141.2h0M261.9 135.9h0M259.8 145.4h0M261.2 114.4h0M260.2 111.6h0M259.6 111.7h0M260.6 154.1h0M261.8 90.8h0M260.2 119.7h0M259.0 101.4h0M259.4 133.7h0M261.6 136.2h0M259.0 150.2h0M260.1 144.7h0M259.7 126.2h0M259.6 114.4h0M259.3 133.2h0M262.0 126.4h0M260.4 123.2h0M261.1 125.5h0M259.6 135.9h0M260.4 131.4h0M261.2 151.6h0M259.4 99.6h0M260.4 109.8h0M260.8 133.0h0M260.4 119.7h0M262.0 112.7h0M259.7 98.2h0M259.7 109.3h0M260.2 114.8h0M261.0 146.5h0M260.0 149.6h0M259.9 152.6h0M260.9 134.5h0M259.0 144.1h0M260.3 115.8h0M260.9 128.7h0M260.2 137.5h0M260.9 147.4h0M261.3 95.8h0M260.0 121.4h0M259.1 145.7h0M261.4 131.0h0M260.2 135.5h0M260.3 101.1h0M261.8 141.9h0M259.4 108.4h0M261.0 136.8h0M259.8 97.7h0M259.1 145.4h0M259.2 124.0h0M261.4 142.1h0M259.3 125.9h0M261.4 110.9h0M259.0 151.2h0M261.5 137.1h0M261.6 94.7h0M259.0 123.4h0M261.3 146.7h0M262.0 144.9h0M261.9 141.9h0M259.7 134.7h0M262.0 123.9h0M259.4 126.3h0M261.1 145.8h0M260.0 110.0h0M261.1 134.5h0M261.5 148.0h0M260.2 105.4h0M259.3 86.7h0M259.1 118.1h0M260.8 109.2h0M261.5 133.9h0M260.7 94.5h0M259.4 121.9h0M261.8 144.4h0M260.5 121.8h0M260.6 122.8h0M260.7 138.9h0M261.4 105.7h0M261.9 114.8h0M259.3 151.1h0M259.4 132.2h0M259.0 127.9h0M259.6 124.9h0M259.7 121.7h0M260.1 125.8h0M261.5 115.3h0M259.0 103.2h0M260.4 138.7h0M261.7 136.5h0M260.7 128.1h0M260.9 123.3h0M260.9 106.7h0M259.0 116.6h0M261.7 142.4h0M259.5 135.2h0M261.6 120.1h0M260.1 142.6h0M260.7 148.7h0M260.1 94.7h0M259.6 135.9h0M260.9 122.2h0M261.6 104.1h0M260.6 149.5h0M259.4 121.2h0M261.7 124.1h0M259.7 87.4h0M259.1 104.2h0M260.8 129.8h0M259.7 135.3h0M260.0 104.2h0M260.3 146.9h0M262.0 111.5h0M261.2 145.3h0M261.9 114.0h0M260.7 149.4h0M261.3 120.9h0M260.5 133.6h0M261.2 133.5h0M261.4 141.3h0M260.5 132.5h0M260.1 146.3h0M260.6 127.3h0M260.5 117.6h0M260.3 119.3h0M260.6 128.1h0M259.1 118.3h0M259.8 114.2h0M261.2 123.3h0M259.0 135.9h0M260.1 120.3h0M261.9 125.0h0M261.9 130.1h0M261.5 105.9h0M261.9 115.8h0M259.2 105.6h0M260.9 99.7h0M260.1 139.1h0M259.7 138.5h0M261.9 127.7h0M261.4 120.4h0M261.3 125.8h0M259.4 110.5h0M261.4 147.4h0M260.4 138.4h0M260.5 118.8h0M261.6 119.1h0M259.5 112.0h0M259.3 127.2h0M261.2 139.2h0M261.6 106.3h0M259.2 144.8h0M259.7 150.3h0M260.7 128.4h0M259.4 127.3h0M259.9 104.4h0M261.8 141.8h0M260.2 152.5h0M261.2 121.6h0M260.5 150.8h0M260.4 142.2h0M260.6 126.9h0M259.8 149.9h0M260.8 154.9h0M260.3 134.7h0M261.6 149.3h0M259.3 116.1h0M261.9 125.1h0M259.1 133.8h0M259.3 104.5h0M260.0 101.9h0M259.4 143.9h0M259.8 116.2h0M261.9 114.2h0M261.4 151.1h0M262.0 146.0h0M259.6 89.3h0M260.9 131.0h0M259.0 155.0h0M259.8 148.7h0M261.4 151.4h0M260.8 145.1h0M260.8 130.9h0M259.3 145.6h0M259.2 132.1h0M261.4 121.4h0M261.9 99.1h0M260.7 94.9h0M260.9 75.9h0M260.3 156.5h0M260.3 60.7h0M279.4 128.0h0M279.7 107.9h0M281.6 118.6h0M280.9 108.2h0M281.3 133.2h0M280.5 106.1h0M279.8 140.0h0M279.0 95.7h0M281.2 111.7h0M280.8 125.0h0M280.5 103.0h0M280.5 111.9h0M279.4 138.5h0M280.1 120.8h0M282.0 120.4h0M281.1 100.7h0M280.9 145.3h0M281.6 141.9h0M279.4 142.6h0M280.1 141.4h0M281.7 129.8h0M279.5 137.7h0M279.6 114.1h0M280.4 117.8h0M280.2 128.2h0M280.0 128.9h0M281.3 132.2h0M279.8 143.0h0M281.9 92.9h0M279.2 105.2h0M281.9 123.2h0M279.2 126.8h0M281.4 137.9h0M279.7 94.4h0M279.2 126.0h0M281.8 117.8h0M281.9 143.1h0M280.1 117.0h0M281.4 146.7h0M280.0 110.4h0M281.2 116.1h0M279.6 109.7h0M281.6 118.6h0M281.2 93.3h0M279.8 124.1h0M281.1 138.1h0M280.9 114.9h0M281.5 83.2h0M280.6 142.1h0M280.9 112.7h0M280.5 109.8h0M280.2 125.9h0M279.7 122.6h0M281.7 130.2h0M279.4 132.3h0M281.3 109.3h0M281.9 117.6h0M280.0 107.5h0M280.2 126.4h0M281.3 138.7h0M279.4 109.5h0M280.8 139.5h0M281.1 116.0h0M279.8 107.7h0M280.9 130.7h0M281.3 146.9h0M280.6 127.6h0M281.0 123.1h0M280.5 147.3h0M281.7 146.2h0M279.6 142.3h0M280.3 118.8h0M280.7 112.9h0M281.0 141.2h0M279.1 123.1h0M279.3 131.5h0M280.6 125.4h0M281.0 116.4h0M280.4 116.0h0M279.1 135.7h0M280.7 115.6h0M279.3 137.6h0M281.9 100.3h0M279.8 106.4h0M280.1 125.4h0M280.3 90.1h0M280.5 141.6h0M281.2 137.3h0M279.6 129.4h0M279.6 84.2h0M281.2 121.6h0M279.3 133.0h0M280.8 136.1h0M280.3 136.2h0M281.3 148.7h0M279.4 109.9h0M280.8 125.4h0M280.7 94.3h0M281.5 143.7h0M280.3 138.6h0M279.4 124.1h0M279.5 120.1h0M281.6 142.1h0M281.7 112.2h0M279.7 102.7h0M281.5 98.9h0M280.0 127.8h0M281.9 125.8h0M281.9 142.1h0M280.7 140.1h0M280.5 131.1h0M280.9 136.3h0M279.4 105.2h0M279.5 115.4h0M279.4 141.8h0M280.8 115.3h0M280.9 118.7h0M281.1 149.8h0M280.3 103.7h0M280.6 121.6h0M280.3 79.9h0M281.1 151.7h0M299.9 153.3h0M301.1 131.1h0M299.5 130.3h0M302.2 141.9h0M301.0 133.8h0M301.4 114.3h0M302.2 145.0h0M300.5 138.2h0M302.4 144.2h0M301.1 147.4h0M301.1 152.0h0M300.5 112.6h0M300.6 112.9h0M300.6 115.2h0M302.0 108.9h0M300.7 124.0h0M302.4 101.3h0M300.7 112.8h0M301.2 126.6h0M301.3 142.4h0M300.2 117.2h0M300.0 133.6h0M301.2 123.6h0M301.8 109.4h0M301.5 98.8h0M302.3 136.5h0M300.2 138.9h0M302.0 93.4h0M301.0 128.4h0M301.6 122.5h0M300.3 97.4h0M300.4 148.5h0M302.3 106.7h0M300.2 150.6h0M300.4 128.2h0M299.7 114.9h0M300.4 119.4h0M300.6 127.8h0M302.4 116.0h0M299.9 133.4h0M302.2 114.9h0M302.2 120.8h0M299.7 113.3h0M301.7 95.4h0M299.5 148.1h0M301.4 116.4h0M301.9 125.1h0M300.2 147.6h0M300.8 147.1h0M302.4 135.6h0M300.7 139.1h0M302.4 137.7h0M302.0 144.8h0M301.1 143.2h0M301.1 116.6h0M302.5 116.4h0M299.5 141.1h0M301.5 137.2h0M299.8 108.9h0M300.9 144.4h0M301.0 113.8h0M301.7 129.2h0M301.8 105.9h0M300.6 134.3h0M301.8 143.3h0M300.8 125.7h0M301.1 96.2h0M302.2 151.9h0M301.7 116.4h0M300.8 113.1h0M302.1 139.1h0M301.0 103.2h0M301.0 106.6h0M301.4 142.4h0M300.0 143.5h0M301.3 147.5h0M300.4 112.9h0M301.8 106.7h0M302.5 133.4h0M302.2 116.5h0M302.0 111.5h0M302.5 147.4h0M302.0 135.7h0M300.6 127.5h0M302.0 127.3h0M301.9 142.6h0M300.4 111.5h0M300.6 143.7h0M300.3 122.2h0M300.8 145.3h0M301.2 91.6h0M300.6 154.9h0M321.2 121.9h0M322.3 117.3h0M321.8 135.5h0M322.2 136.0h0M322.4 120.7h0M321.4 145.4h0M321.1 133.1h0M320.9 126.3h0M321.9 115.6h0M321.2 131.6h0M320.8 125.3h0M321.9 126.8h0M323.3 134.4h0M323.6 125.5h0M322.9 133.3h0M320.8 136.5h0M323.3 123.2h0M322.0 141.3h0M321.2 141.7h0M320.8 127.3h0M321.5 142.3h0M321.8 139.6h0M321.3 129.4h0M323.6 141.4h0M323.3 125.1h0M322.3 135.1h0M321.8 135.8h0M323.5 140.5h0M322.6 141.8h0M320.4 119.3h0M321.0 121.0h0M322.1 125.4h0M321.7 135.9h0M321.8 139.4h0M322.4 130.3h0M321.4 138.5h0M322.6 133.5h0M323.0 121.7h0M320.7 121.9h0M320.6 139.8h0M321.6 97.2h0M322.2 147.7h0M321.5 82.6h0M342.5 118.7h0M341.3 122.9h0M344.0 115.1h0M343.0 125.0h0M342.8 124.9h0M342.7 114.0h0M342.2 142.1h0M358.6 125.7h0M360.7 134.8h0M358.7 122.5h0M360.7 127.4h0M361.5 114.3h0M358.8 109.7h0M361.2 110.7h0M361.5 116.1h0M359.8 108.4h0M360.0 154.1h0M402.9 123.3h0M404.3 148.2h0M403.8 133.6h0M404.7 115.9h0M402.6 153.3h0M405.0 151.9h0M402.6 130.3h0M402.7 138.1h0M405.2 131.6h0M403.8 151.2h0M403.4 140.4h0M403.3 136.1h0M404.0 96.5h0M404.3 156.1h0M423.7 129.0h0M423.7 98.3h0M425.7 145.6h0M423.7 127.0h0M424.7 148.7h0M423.4 129.3h0M425.6 148.7h0M424.3 96.7h0M425.2 145.6h0M423.0 104.5h0M424.6 146.0h0M424.2 136.1h0M425.0 143.1h0M424.8 109.6h0M425.4 141.9h0M424.2 99.6h0M425.2 139.9h0M425.1 100.5h0M423.4 125.0h0M424.5 97.1h0M422.9 148.2h0M424.0 138.3h0M422.9 113.7h0M422.7 140.1h0M424.4 127.2h0M424.6 132.5h0M423.5 152.7h0M423.2 121.6h0M423.4 137.4h0M425.1 109.0h0M425.3 130.7h0M423.9 104.2h0M423.7 147.0h0M423.2 127.2h0M424.6 109.4h0M425.0 125.2h0M424.7 128.2h0M422.6 96.3h0M424.5 89.8h0M422.9 107.0h0M425.3 145.1h0M423.8 134.8h0M423.9 106.4h0M424.0 147.9h0M425.4 89.1h0M423.0 139.9h0M423.3 130.8h0M424.9 118.9h0M423.0 106.1h0M422.8 130.6h0M425.5 102.7h0M425.2 145.9h0M422.8 94.9h0M424.6 105.7h0M425.5 100.2h0M425.6 117.1h0M425.7 144.0h0M424.1 117.5h0M425.1 124.6h0M423.2 142.4h0M423.3 138.1h0M423.9 94.3h0M425.2 120.3h0M423.1 143.8h0M424.9 126.2h0M425.7 112.0h0M423.8 93.8h0M424.9 124.8h0M424.3 118.4h0M422.9 146.0h0M425.1 119.8h0M425.4 126.3h0M425.7 126.5h0M424.6 129.3h0M423.9 132.0h0M424.9 146.8h0M423.8 106.4h0M423.6 123.9h0M424.2 136.3h0M422.8 134.3h0M422.7 134.7h0M425.6 147.2h0M423.7 148.2h0M424.0 136.3h0M424.9 112.6h0M424.1 107.4h0M425.5 99.2h0M424.3 146.6h0M425.5 130.0h0M423.4 136.4h0M424.5 94.6h0M425.2 154.5h0M423.5 93.2h0M423.1 107.4h0M424.6 119.9h0M424.9 136.1h0M423.0 130.8h0M423.3 105.2h0M425.7 88.4h0M424.7 111.3h0M424.5 135.1h0M425.0 133.9h0M425.6 92.1h0M425.5 147.9h0M423.2 148.9h0M423.0 127.7h0M422.6 135.1h0M424.8 98.8h0M423.2 127.4h0M423.7 139.2h0M423.7 141.3h0M423.9 88.5h0M425.2 144.6h0M422.7 150.4h0M424.3 132.6h0M423.3 134.5h0M423.0 99.1h0M425.1 151.1h0M424.0 147.9h0M424.8 117.1h0M424.0 74.0h0M424.2 156.9h0M444.3 126.2h0M445.9 119.1h0M443.1 105.8h0M445.3 117.5h0M445.1 146.4h0M444.9 126.9h0M443.3 124.3h0M444.0 147.6h0M443.5 142.2h0M445.9 105.0h0M444.2 146.0h0M444.1 107.2h0M446.1 145.9h0M445.1 148.8h0M445.9 149.3h0M444.2 150.6h0M443.8 103.0h0M445.9 121.3h0M444.6 146.7h0M444.4 114.0h0M443.8 101.8h0M445.1 128.1h0M445.8 124.9h0M445.5 146.1h0M445.6 131.7h0M444.5 151.1h0M443.8 95.2h0M444.4 113.6h0M444.1 111.3h0M445.5 138.7h0M445.6 139.4h0M446.1 115.8h0M444.5 144.1h0M443.3 147.2h0M445.3 100.2h0M443.9 128.7h0M444.0 147.8h0M445.5 103.7h0M445.0 115.2h0M444.5 147.4h0M443.9 112.0h0M445.6 140.2h0M444.6 147.5h0M445.1 137.7h0M444.2 147.1h0M445.5 119.6h0M443.2 129.2h0M443.9 142.9h0M445.1 115.1h0M445.1 105.4h0M444.6 118.0h0M445.0 143.1h0M443.5 136.1h0M444.5 142.5h0M444.5 151.3h0M444.9 140.3h0M443.7 128.9h0M444.0 137.2h0M444.5 128.9h0M444.3 149.6h0M444.5 147.3h0M443.5 124.6h0M443.4 135.9h0M444.9 123.1h0M445.5 136.6h0M443.3 128.8h0M445.6 135.4h0M445.9 145.0h0M445.1 133.1h0M445.3 128.4h0M444.8 130.3h0M444.0 131.2h0M445.2 132.7h0M445.1 110.8h0M443.7 145.2h0M445.2 133.9h0M444.1 129.3h0M445.7 140.0h0M444.5 133.8h0M444.7 138.4h0M445.9 146.2h0M445.6 121.4h0M443.6 137.2h0M443.3 98.5h0M444.4 148.6h0M443.7 146.9h0M444.5 108.6h0M444.0 124.6h0M445.8 123.6h0M445.6 133.7h0M446.0 102.7h0M444.1 146.6h0M443.1 147.8h0M444.7 137.5h0M445.6 146.9h0M445.9 150.0h0M443.3 140.2h0M443.3 130.4h0M443.7 115.5h0M444.7 139.4h0M446.0 126.8h0M444.4 126.3h0M444.2 146.7h0M443.2 96.8h0M443.5 135.7h0M443.6 141.7h0M443.3 120.7h0M445.1 134.2h0M444.1 132.5h0M445.0 101.1h0M443.7 143.6h0M444.4 103.7h0M445.5 135.9h0M444.5 145.8h0M443.9 107.9h0M443.2 118.0h0M444.9 107.2h0M444.6 138.0h0M443.1 130.6h0M443.3 143.2h0M443.2 136.7h0M446.0 151.4h0M444.9 134.4h0M445.4 132.2h0M445.2 147.2h0M444.6 129.6h0M443.4 139.3h0M443.5 105.9h0M445.3 147.9h0M445.8 112.0h0M443.7 128.7h0M445.9 108.8h0M445.9 125.7h0M444.2 109.5h0M445.3 102.5h0M443.3 140.4h0M443.1 146.4h0M445.6 143.4h0M444.8 140.3h0M444.3 137.2h0M445.3 141.6h0M445.2 130.1h0M444.7 125.4h0M443.8 152.9h0M446.1 145.3h0M443.5 135.9h0M444.6 122.1h0M444.2 145.9h0M443.3 147.5h0M446.1 150.7h0M444.6 143.0h0M444.6 103.6h0M446.1 148.3h0M443.5 117.1h0M445.8 112.6h0M445.6 131.0h0M445.7 128.5h0M443.1 110.6h0M443.8 149.4h0M445.7 122.2h0M445.1 145.9h0M446.1 129.9h0M443.5 127.7h0M445.0 125.9h0M444.4 142.1h0M444.7 121.2h0M443.4 132.1h0M443.3 132.2h0M444.9 116.2h0M443.3 135.6h0M444.7 118.7h0M443.4 126.0h0M445.1 152.1h0M444.9 149.1h0M445.2 140.7h0M443.5 137.6h0M444.6 123.4h0M444.1 114.7h0M445.9 130.7h0M445.4 112.9h0M446.0 117.7h0M443.5 115.8h0M444.9 137.8h0M444.1 147.0h0M443.4 136.4h0M444.3 125.9h0M445.0 113.1h0M445.2 142.8h0M445.1 148.0h0M445.0 147.1h0M445.3 119.1h0M443.7 149.6h0M445.4 141.4h0M443.7 123.9h0M445.8 105.5h0M444.3 123.7h0M443.1 142.4h0M443.2 128.7h0M445.7 145.4h0M445.9 142.2h0M444.8 147.2h0M444.9 114.4h0M445.8 151.7h0M445.7 149.2h0M444.8 129.1h0M445.7 151.0h0M444.0 117.3h0M445.8 116.9h0M445.0 116.2h0M444.7 103.9h0M443.2 146.0h0M445.7 124.9h0M443.7 139.3h0M443.4 144.9h0M445.4 106.1h0M443.8 136.9h0M445.1 150.1h0M445.0 144.0h0M443.2 147.1h0M443.7 108.5h0M444.1 147.6h0M443.2 136.1h0M443.6 119.7h0M446.1 105.9h0M445.3 140.2h0M444.8 92.5h0M444.7 156.1h0M466.3 142.6h0M464.1 134.1h0M464.8 120.1h0M466.5 131.3h0M464.9 129.7h0M463.8 123.1h0M466.1 132.7h0M464.9 108.9h0M466.6 122.7h0M465.3 108.2h0M465.0 123.7h0M466.3 136.4h0M464.4 127.1h0M465.1 150.1h0M465.1 127.2h0M465.2 120.8h0M463.9 123.9h0M464.1 124.9h0M465.3 103.8h0M465.2 94.8h0M465.7 116.2h0M464.4 141.9h0M465.2 140.9h0M466.4 152.8h0M466.1 128.9h0M463.8 128.0h0M464.4 137.6h0M466.4 120.1h0M464.5 115.7h0M465.5 122.8h0M465.4 111.3h0M463.8 137.5h0M466.6 131.5h0M466.5 147.8h0M465.6 129.5h0M466.3 116.0h0M464.7 136.2h0M465.6 102.0h0M465.7 138.4h0M464.1 137.7h0M463.8 112.6h0M466.6 120.0h0M465.3 130.9h0M465.4 137.1h0M464.2 105.0h0M464.3 118.3h0M465.9 125.8h0M465.3 121.9h0M464.4 106.2h0M464.9 125.2h0M464.7 147.9h0M463.9 103.5h0M464.7 139.3h0M464.4 127.2h0M465.8 139.6h0M466.5 135.2h0M464.3 131.6h0M464.9 140.5h0M463.9 105.7h0M465.1 98.8h0M464.5 142.9h0M465.2 129.3h0M465.1 149.3h0M464.3 125.5h0M464.3 128.9h0M466.5 128.6h0M463.9 124.8h0M464.1 106.9h0M464.8 130.5h0M463.9 112.3h0M465.5 128.6h0M464.8 104.1h0M465.3 108.0h0M465.1 130.7h0M466.1 133.4h0M465.8 139.0h0M465.8 123.2h0M464.1 124.3h0M466.0 113.5h0M465.6 121.9h0M466.4 136.1h0M465.4 104.9h0M465.6 146.1h0M466.0 116.4h0M466.3 110.8h0M464.7 113.2h0M464.4 129.3h0M466.3 148.2h0M465.4 121.6h0M465.5 138.4h0M464.1 124.1h0M464.7 128.6h0M466.1 109.0h0M466.2 104.9h0M463.8 122.5h0M466.2 143.4h0M466.4 151.3h0M466.0 132.3h0M466.0 136.2h0M464.2 123.5h0M465.3 128.9h0M464.0 128.7h0M464.2 131.6h0M466.3 101.2h0M466.4 137.1h0M465.7 147.1h0M465.8 137.9h0M464.1 120.5h0M466.0 137.2h0M463.8 134.5h0M464.0 107.9h0M466.6 142.0h0M464.1 112.1h0M465.4 136.3h0M464.8 109.3h0M464.3 122.2h0M465.9 118.7h0M466.2 141.5h0M464.9 135.4h0M464.6 147.9h0M464.5 103.9h0M466.6 114.7h0M465.1 107.0h0M466.4 111.6h0M465.1 117.1h0M464.7 118.2h0M465.0 117.8h0M466.3 123.2h0M465.5 150.7h0M464.6 118.7h0M465.4 108.6h0M465.5 130.4h0M466.5 129.5h0M465.3 142.5h0M465.8 109.1h0M465.9 129.2h0M464.9 111.8h0M465.0 131.3h0M464.6 125.5h0M464.3 116.0h0M465.6 110.6h0M463.8 108.1h0M465.6 128.5h0M465.6 142.0h0M464.1 134.2h0M465.1 144.0h0M466.6 110.8h0M465.5 118.9h0M466.6 122.4h0M464.8 105.7h0M464.9 91.7h0M464.9 156.9h0M482.8 133.6h0M481.5 107.2h0M483.8 127.9h0M484.5 117.1h0M483.1 127.9h0M483.3 106.1h0M483.1 136.1h0M505.7 101.6h0M507.1 108.8h0M504.8 130.7h0M505.0 86.9h0M505.8 152.4h0M506.2 99.3h0M506.6 132.5h0M507.1 92.0h0M506.1 126.4h0M505.1 149.7h0M505.6 128.9h0M505.8 148.5h0M504.4 106.9h0M506.2 153.4h0M506.3 149.8h0M505.7 80.0h0M506.2 156.1h0M526.0 133.0h0M527.4 132.9h0M527.9 134.5h0M528.5 134.2h0M527.2 134.6h0M528.2 136.5h0M527.2 132.5h0M526.8 133.2h0M528.0 133.9h0M525.7 136.8h0M526.7 131.5h0M526.8 137.5h0M545.8 126.5h0M545.3 128.5h0M545.4 137.5h0M546.2 127.1h0M545.4 147.2h0M547.2 131.3h0M545.9 151.1h0M545.7 134.7h0M547.9 138.5h0M547.8 154.0h0M545.2 125.8h0M546.0 152.3h0M548.4 142.8h0M548.0 146.5h0M545.9 132.1h0M545.6 133.0h0M546.1 132.0h0M546.9 151.0h0M547.6 154.8h0M548.2 122.0h0M548.4 152.8h0M545.9 129.0h0M547.6 141.5h0M547.1 131.8h0M548.1 136.3h0M547.5 123.9h0M548.4 128.5h0M545.3 140.7h0M546.6 135.6h0M547.5 123.8h0M547.1 134.9h0M547.9 136.0h0M545.7 126.9h0M545.4 146.4h0M547.5 139.2h0M547.2 143.1h0M547.5 146.0h0M546.1 126.2h0M547.2 143.0h0M546.9 144.3h0M547.4 120.0h0M547.0 156.1h0M567.7 123.6h0M567.0 131.1h0M567.0 134.9h0M567.0 148.6h0M567.3 116.1h0M569.0 105.1h0M566.3 118.5h0M567.0 111.4h0M567.3 127.8h0M568.1 131.2h0M567.0 139.5h0M568.1 123.0h0M567.4 132.1h0M569.0 96.8h0M568.6 125.8h0M567.4 137.3h0M567.0 131.9h0M568.9 142.2h0M568.1 137.7h0M567.9 120.8h0M567.9 136.4h0M569.0 136.9h0M567.5 141.8h0M567.2 129.1h0M568.9 147.2h0M566.3 127.1h0M566.3 135.3h0M568.8 128.4h0M568.2 117.7h0M568.9 99.1h0M568.6 143.0h0M566.6 112.8h0M567.2 105.7h0M568.5 119.6h0M567.7 157.7h0M566.7 131.2h0M567.7 149.8h0M566.3 140.1h0M568.3 123.2h0M567.2 139.1h0M566.5 128.9h0M567.9 130.6h0M567.7 122.1h0M568.1 129.6h0M566.4 117.9h0M566.7 145.2h0M568.8 125.3h0M566.5 135.4h0M568.0 123.2h0M568.6 139.3h0M568.9 117.6h0M567.4 154.3h0M567.7 132.8h0M567.6 119.6h0M567.6 106.9h0M568.2 112.7h0M568.7 121.9h0M566.8 122.7h0M566.5 111.4h0M568.2 110.5h0M567.0 135.7h0M568.6 120.7h0M567.7 114.7h0M566.5 127.6h0M566.2 137.7h0M568.4 118.6h0M567.3 156.3h0M567.1 150.9h0M567.3 143.2h0M567.2 114.4h0M568.2 126.9h0M567.4 148.1h0M566.3 132.7h0M566.3 142.9h0M566.7 125.4h0M567.8 143.6h0M566.8 151.3h0M566.8 128.8h0M567.1 144.7h0M567.4 124.7h0M568.9 114.1h0M567.3 122.5h0M568.3 147.9h0M567.3 147.9h0M569.0 145.9h0M567.6 141.3h0M567.8 145.8h0M567.0 154.5h0M566.8 138.0h0M567.2 154.3h0M567.7 135.4h0M567.3 145.3h0M568.7 106.5h0M566.9 122.1h0M568.2 137.8h0M568.8 128.1h0M568.9 151.4h0M567.1 142.5h0M568.2 156.3h0M567.9 144.1h0M568.9 123.5h0M567.2 151.4h0M566.8 104.3h0M568.0 153.7h0M568.7 129.3h0M566.3 114.1h0M566.2 144.3h0M568.7 135.8h0M566.5 115.9h0M568.5 138.0h0M567.5 131.8h0M567.1 106.7h0M567.3 145.3h0M567.7 103.2h0M567.4 126.2h0M567.2 125.4h0M568.8 130.2h0M566.6 150.2h0M568.4 139.6h0M567.4 116.2h0M567.4 119.9h0M567.5 154.4h0M567.8 122.9h0M567.1 116.7h0M566.8 119.1h0M566.6 117.6h0M568.8 108.0h0M566.7 119.8h0M568.4 117.3h0M567.5 126.2h0M566.7 124.6h0M569.0 139.5h0M568.2 148.9h0M566.2 120.4h0M567.7 137.5h0M567.8 129.6h0M568.9 128.7h0M568.3 142.3h0M568.2 140.5h0M568.1 122.3h0M566.7 129.1h0M567.9 141.7h0M568.1 111.3h0M566.8 103.9h0M568.7 116.5h0M567.9 124.9h0M568.4 130.0h0M566.8 154.2h0M569.0 132.8h0M567.6 120.8h0M567.3 156.5h0M566.7 107.2h0M567.7 136.5h0M568.4 112.5h0M568.8 126.7h0M567.5 136.9h0M568.9 102.9h0M566.4 125.6h0M566.4 144.0h0M566.3 124.8h0M568.3 138.7h0M567.1 117.3h0M567.9 124.2h0M567.6 120.7h0M568.0 143.6h0M567.6 147.6h0M567.9 101.4h0M567.6 104.2h0M566.6 133.6h0M567.8 119.0h0M566.3 138.1h0M568.9 150.1h0M568.1 121.2h0M567.6 137.8h0M566.9 132.3h0M566.9 119.6h0M567.4 121.6h0M567.8 132.4h0M567.6 111.2h0M567.0 153.0h0M568.7 140.3h0M567.8 138.6h0M567.2 143.4h0M568.9 128.0h0M566.3 126.6h0M567.4 140.6h0M568.9 143.4h0M567.1 108.9h0M568.3 144.2h0M568.2 133.7h0M567.5 125.7h0M566.7 120.3h0M568.5 117.9h0M566.9 124.5h0M568.3 132.5h0M567.9 135.4h0M568.4 145.0h0M566.6 126.3h0M568.8 152.5h0M568.2 121.4h0M567.5 126.7h0M568.1 109.3h0M568.0 142.8h0M567.2 130.0h0M568.2 146.9h0M568.7 145.3h0M568.7 135.0h0M567.0 138.0h0M567.8 138.8h0M567.0 146.3h0M567.0 140.0h0M568.3 130.7h0M568.4 94.5h0M568.8 104.9h0M566.5 136.7h0M568.2 136.4h0M566.3 112.7h0M566.9 155.9h0M566.5 130.0h0M567.2 121.1h0M568.5 120.4h0M568.8 122.6h0M567.1 141.1h0M567.4 109.5h0M568.5 148.6h0M567.7 88.1h0M567.5 159.3h0M588.2 95.3h0M587.2 124.5h0M587.7 94.0h0M588.6 148.4h0M589.2 145.1h0M587.5 149.0h0M587.9 143.0h0M587.6 151.5h0M589.3 151.2h0M587.4 136.6h0M588.5 108.9h0M588.9 152.9h0M587.7 146.1h0M587.7 146.9h0M589.2 144.1h0M587.1 117.2h0M588.7 90.4h0M587.1 136.7h0M589.6 99.5h0M589.3 130.1h0M587.8 141.8h0M588.0 124.0h0M589.4 92.5h0M589.6 144.2h0M589.3 134.4h0M587.6 127.4h0M589.2 146.5h0M589.0 132.3h0M587.3 123.7h0M587.6 105.0h0M587.4 125.0h0M587.6 97.0h0M588.9 142.2h0M589.5 138.5h0M588.7 137.3h0M588.8 115.2h0M588.2 115.8h0M588.9 117.0h0M589.6 139.3h0M588.5 121.9h0M587.3 119.4h0M587.6 128.1h0M589.2 112.6h0M589.1 112.5h0M588.5 102.5h0M588.0 148.9h0M587.4 132.3h0M587.4 121.6h0M589.5 148.0h0M588.3 109.2h0M587.6 113.5h0M587.5 101.1h0M589.5 137.1h0M587.5 121.3h0M589.3 126.4h0M588.7 107.0h0M588.2 126.3h0M588.5 124.7h0M587.2 101.0h0M587.1 97.0h0M589.5 144.4h0M589.3 136.6h0M587.8 90.1h0M588.5 128.1h0M587.1 122.5h0M587.7 119.8h0M587.6 138.5h0M587.2 109.0h0M587.7 113.4h0M588.5 111.9h0M588.8 129.9h0M589.0 135.7h0M587.4 146.9h0M588.5 124.4h0M587.4 124.8h0M589.2 98.8h0M589.0 126.0h0M589.5 147.3h0M587.9 145.7h0M587.2 134.5h0M587.5 99.8h0M587.2 104.5h0M588.1 137.1h0M587.1 145.2h0M587.7 132.2h0M587.9 142.5h0M589.6 105.8h0M588.7 117.6h0M587.3 114.0h0M587.8 129.0h0M587.2 120.4h0M587.1 120.3h0M588.7 134.9h0M587.2 137.5h0M587.2 140.8h0M588.0 129.1h0M589.1 138.4h0M588.5 105.2h0M587.9 108.8h0M587.7 146.1h0M588.3 112.9h0M588.8 130.8h0M588.1 139.6h0M589.0 130.1h0M588.3 121.5h0M587.4 128.0h0M589.4 126.2h0M588.7 101.4h0M588.2 85.6h0M589.6 113.5h0M588.0 130.0h0M588.2 137.9h0M589.3 112.6h0M587.3 107.8h0M589.1 121.7h0M588.6 96.2h0M588.0 143.5h0M588.1 130.4h0M589.4 143.5h0M589.5 151.1h0M588.6 123.5h0M589.6 122.2h0M588.1 119.0h0M588.2 143.8h0M589.1 120.4h0M588.8 149.3h0M587.7 147.6h0M588.1 109.9h0M588.9 125.1h0M589.0 129.2h0M588.8 120.0h0M589.4 109.6h0M588.2 129.9h0M587.7 147.9h0M589.0 138.0h0M589.6 137.8h0M588.8 137.1h0M587.1 99.8h0M589.2 147.9h0M589.0 143.5h0M589.5 113.7h0M587.9 143.3h0M587.5 151.4h0M589.5 145.8h0M587.4 118.5h0M588.2 143.8h0M589.5 90.3h0M588.3 121.9h0M588.9 129.3h0M587.9 137.2h0M588.2 84.1h0M588.8 155.3h0M610.3 130.8h0M608.4 120.8h0M608.8 145.6h0M608.7 127.7h0M609.7 152.0h0M607.8 133.9h0M609.9 147.7h0M609.1 130.9h0M607.5 148.3h0M609.3 147.5h0M609.4 142.0h0M607.6 137.0h0M609.9 141.4h0M608.4 131.7h0M608.4 139.1h0M608.2 152.9h0M607.8 119.3h0M610.0 134.0h0M609.6 140.6h0M609.2 129.6h0M610.3 133.2h0M608.0 146.5h0M610.1 129.4h0M608.6 150.4h0M608.4 140.5h0M608.4 140.9h0M609.5 140.9h0M610.1 136.8h0M610.5 123.7h0M608.0 136.1h0M610.2 148.8h0M609.7 116.8h0M609.4 138.1h0M609.8 150.5h0M607.8 122.8h0M609.4 108.8h0M608.8 149.7h0M610.5 121.6h0M608.6 148.4h0M608.2 141.3h0M609.3 100.1h0M609.2 153.7h0" stroke="#D95F02" stroke-width="1.2" stroke-linecap="round" fill="none"/><path d="M67.0 78.2h0M66.7 91.3h0M66.8 82.2h0M68.1 76.2h0M67.0 49.4h0M66.8 92.4h0M67.4 123.0h0M66.8 79.1h0M68.0 87.7h0M68.2 76.1h0M67.5 49.3h0M68.2 100.3h0M67.1 127.1h0M67.9 83.0h0M67.2 70.1h0M68.2 113.9h0M68.0 125.5h0M67.5 53.2h0M66.7 76.4h0M67.8 87.4h0M68.2 131.4h0M67.2 123.5h0M67.0 85.9h0M68.1 104.9h0M67.7 130.8h0M67.7 141.0h0M67.9 125.9h0M67.9 83.6h0M68.2 113.4h0M68.2 94.2h0M67.7 33.4h0M67.1 148.5h0M88.7 110.3h0M89.1 105.1h0M90.0 92.0h0M87.9 121.0h0M89.5 98.1h0M88.6 100.3h0M88.2 121.5h0M89.0 119.0h0M87.7 92.4h0M87.8 94.8h0M89.5 122.3h0M87.8 117.5h0M89.2 90.3h0M88.7 127.7h0M110.2 117.4h0M108.7 117.0h0M110.4 117.6h0M109.0 78.7h0M109.0 65.7h0M109.5 92.9h0M109.7 123.6h0M108.8 79.5h0M110.3 77.8h0M109.9 129.6h0M109.0 78.3h0M110.4 89.6h0M110.1 89.0h0M109.3 79.3h0M109.5 65.2h0M110.0 123.2h0M109.6 103.0h0M110.1 78.0h0M110.1 137.3h0M109.7 130.7h0M109.8 145.1h0M110.8 112.3h0M109.9 65.4h0M109.7 86.0h0M109.8 88.5h0M109.0 116.6h0M110.3 77.4h0M109.4 117.6h0M109.5 99.1h0M109.5 102.9h0M109.1 76.1h0M110.8 111.3h0M110.4 71.2h0M108.8 97.5h0M110.0 121.4h0M109.0 106.6h0M110.0 131.7h0M109.6 121.3h0M108.8 106.3h0M110.5 131.6h0M109.1 101.8h0M108.5 96.8h0M109.1 73.7h0M109.5 104.5h0M109.4 84.7h0M108.6 120.5h0M110.4 119.6h0M110.0 113.6h0M110.8 92.3h0M108.7 72.5h0M110.4 98.1h0M110.7 96.0h0M110.6 137.9h0M110.1 87.5h0M110.5 121.8h0M109.8 110.0h0M110.6 78.8h0M109.1 73.1h0M108.6 104.8h0M109.7 95.8h0M110.6 106.0h0M109.6 113.9h0M110.5 84.8h0M110.8 102.9h0M110.0 108.6h0M110.1 107.9h0M110.9 132.3h0M110.7 80.2h0M110.0 110.7h0M109.4 114.4h0M110.3 105.7h0M109.5 103.3h0M109.2 88.5h0M109.7 130.3h0M110.8 105.2h0M109.3 87.7h0M109.9 99.8h0M108.6 87.5h0M109.8 89.7h0M108.5 99.8h0M110.0 116.0h0M110.7 87.6h0M110.0 83.6h0M110.1 83.1h0M109.6 109.3h0M108.9 141.0h0M110.7 112.1h0M110.5 76.7h0M109.1 126.4h0M109.3 103.0h0M110.7 108.7h0M108.6 106.8h0M109.9 113.1h0M108.5 129.2h0M110.8 107.4h0M109.5 128.5h0M109.0 108.8h0M108.5 92.4h0M110.8 66.6h0M108.8 114.6h0M109.1 110.7h0M108.6 69.9h0M110.6 123.2h0M110.0 64.3h0M110.7 79.5h0M110.2 117.1h0M110.1 92.4h0M109.2 142.2h0M110.6 68.9h0M109.4 93.6h0M110.1 78.8h0M109.4 112.7h0M109.5 83.9h0M110.8 112.4h0M109.2 126.3h0M110.2 117.3h0M110.0 132.3h0M109.9 121.0h0M110.6 103.1h0M109.9 109.8h0M109.2 121.4h0M109.5 98.8h0M110.6 88.2h0M110.4 113.7h0M109.2 126.2h0M110.1 121.4h0M108.7 131.9h0M109.0 87.8h0M109.1 119.2h0M109.6 85.1h0M110.3 98.6h0M108.7 128.9h0M109.1 122.1h0M110.6 89.9h0M109.9 79.9h0M108.9 97.0h0M109.9 76.5h0M108.9 105.4h0M109.4 117.9h0M110.4 108.5h0M109.3 107.5h0M108.6 58.6h0M109.7 120.3h0M110.4 72.9h0M110.3 116.6h0M109.1 118.6h0M108.9 97.2h0M109.8 93.3h0M110.8 128.9h0M109.9 143.2h0M110.8 95.1h0M110.0 106.7h0M109.4 124.1h0M110.8 96.2h0M108.6 135.8h0M110.7 101.2h0M108.6 120.9h0M110.1 123.3h0M108.8 143.7h0M110.1 119.0h0M110.3 107.4h0M109.1 100.4h0M108.9 104.5h0M110.1 95.7h0M109.0 110.6h0M109.0 116.1h0M110.6 120.3h0M108.7 103.6h0M110.0 120.8h0M110.5 100.8h0M108.8 108.3h0M110.2 93.5h0M110.6 67.8h0M108.9 102.7h0M109.3 113.8h0M109.3 104.8h0M110.8 140.3h0M110.1 115.3h0M109.2 104.4h0M109.4 97.2h0M110.7 118.0h0M110.7 99.5h0M109.2 110.9h0M110.4 147.4h0M108.5 95.6h0M108.9 127.2h0M109.0 115.7h0M108.9 67.5h0M109.0 123.3h0M110.0 94.3h0M109.0 99.1h0M110.4 85.8h0M108.7 70.5h0M110.2 77.9h0M109.3 113.1h0M109.7 120.4h0M109.6 115.7h0M108.9 134.3h0M108.9 131.3h0M108.5 107.5h0M109.7 79.0h0M110.5 110.6h0M110.2 132.6h0M108.6 111.5h0M109.7 118.8h0M109.8 81.4h0M109.0 117.2h0M109.1 94.7h0M108.7 145.9h0M108.5 70.2h0M109.8 82.6h0M110.6 65.5h0M108.8 61.3h0M109.2 105.0h0M108.8 102.5h0M108.9 89.2h0M108.9 86.7h0M109.4 119.1h0M109.8 113.8h0M110.4 116.5h0M109.3 98.2h0M110.4 117.5h0M110.5 121.3h0M110.8 105.5h0M109.5 134.9h0M109.9 53.0h0M109.5 151.7h0M109.8 30.0h0M108.7 34.7h0M109.5 40.0h0M109.7 40.8h0M108.5 49.6h0M128.3 107.6h0M128.5 91.8h0M128.8 84.2h0M129.1 141.4h0M128.5 125.4h0M129.0 117.0h0M130.2 138.5h0M129.2 88.9h0M128.7 116.7h0M129.0 129.3h0M128.6 114.8h0M129.3 141.6h0M129.8 90.0h0M129.4 115.8h0M128.4 110.6h0M128.9 119.5h0M129.4 84.9h0M128.8 112.7h0M128.7 109.0h0M128.8 116.9h0M129.8 120.6h0M128.5 124.5h0M129.6 103.6h0M129.1 92.0h0M128.7 98.6h0M129.5 134.4h0M130.1 105.2h0M128.3 98.8h0M128.6 106.1h0M128.3 110.4h0M128.6 115.4h0M129.7 129.6h0M129.6 111.4h0M130.0 103.0h0M128.3 136.2h0M128.3 128.9h0M129.9 105.2h0M129.8 120.7h0M129.0 116.5h0M128.8 100.6h0M129.1 121.4h0M129.8 127.4h0M129.2 128.5h0M129.1 116.5h0M128.5 102.0h0M129.7 145.8h0M129.3 136.9h0M129.3 128.4h0M129.0 104.2h0M128.9 106.9h0M129.6 116.7h0M129.3 107.7h0M128.9 121.2h0M128.5 120.2h0M129.9 91.6h0M128.6 99.5h0M129.2 96.9h0M128.4 125.0h0M128.6 110.0h0M128.6 108.4h0M128.4 94.1h0M129.0 112.1h0M128.2 104.4h0M128.4 126.4h0M129.4 102.7h0M129.1 112.5h0M128.2 113.5h0M129.5 128.2h0M128.7 128.1h0M128.3 105.7h0M128.8 124.9h0M130.0 115.4h0M129.8 139.9h0M128.9 126.5h0M128.9 119.0h0M129.0 113.7h0M128.3 137.5h0M129.9 97.4h0M130.2 101.7h0M128.5 112.7h0M128.4 114.3h0M129.1 86.9h0M128.3 143.1h0M129.7 106.7h0M130.0 119.3h0M128.8 132.7h0M129.1 95.4h0M129.6 111.5h0M128.5 123.9h0M129.4 111.6h0M129.1 76.0h0M128.9 152.0h0M151.8 82.4h0M152.5 109.2h0M151.9 87.2h0M153.3 78.0h0M153.6 96.5h0M153.4 95.1h0M152.4 87.8h0M152.7 116.7h0M153.3 135.9h0M151.7 104.1h0M152.6 116.4h0M152.4 133.8h0M153.4 104.8h0M153.5 83.4h0M151.8 123.8h0M153.6 84.1h0M152.9 108.0h0M153.0 103.9h0M152.4 127.3h0M153.3 142.1h0M152.5 85.2h0M153.1 119.8h0M152.3 77.8h0M153.4 116.6h0M152.8 105.8h0M153.1 100.1h0M153.2 82.3h0M152.5 104.6h0M153.3 124.2h0M153.6 83.4h0M152.2 86.3h0M153.3 105.5h0M151.9 131.0h0M152.0 87.7h0M152.3 80.8h0M152.4 97.3h0M152.0 118.6h0M152.1 116.3h0M151.9 101.4h0M152.4 100.1h0M152.1 133.3h0M153.3 128.4h0M152.3 86.9h0M152.6 110.8h0M153.2 86.1h0M153.5 99.2h0M152.9 82.4h0M151.7 111.3h0M152.4 125.8h0M152.1 133.4h0M153.2 104.7h0M153.3 83.8h0M152.9 97.6h0M153.0 124.5h0M153.5 129.8h0M152.4 83.0h0M152.0 131.0h0M152.7 126.6h0M151.9 87.8h0M152.5 90.4h0M153.0 87.5h0M152.8 83.7h0M153.2 113.4h0M153.0 137.4h0M153.4 127.3h0M153.3 122.4h0M151.9 87.7h0M152.9 86.4h0M152.9 90.5h0M152.1 133.1h0M153.0 91.3h0M152.4 121.3h0M153.3 78.8h0M152.9 88.6h0M151.8 96.6h0M153.3 104.9h0M151.9 112.9h0M152.3 107.1h0M152.1 105.3h0M153.3 135.2h0M151.7 126.5h0M152.7 144.4h0M152.9 90.4h0M152.5 85.4h0M152.1 85.4h0M153.3 118.1h0M153.6 131.5h0M151.9 102.6h0M153.1 108.6h0M152.0 98.6h0M152.0 96.8h0M152.5 84.8h0M152.0 109.3h0M153.0 105.0h0M153.5 122.3h0M153.1 122.8h0M151.7 94.6h0M152.9 122.8h0M152.0 99.0h0M152.3 88.4h0M152.4 93.7h0M152.6 121.3h0M152.0 91.6h0M153.6 127.9h0M152.6 121.4h0M151.9 138.3h0M152.1 84.7h0M153.5 89.1h0M153.6 88.1h0M152.4 110.1h0M151.9 120.6h0M152.8 94.8h0M153.3 88.8h0M151.7 128.1h0M151.8 126.5h0M153.4 106.9h0M152.1 107.4h0M152.4 115.2h0M151.9 105.9h0M152.8 102.0h0M152.5 86.4h0M151.8 109.9h0M153.0 100.3h0M152.9 81.8h0M151.9 84.4h0M151.8 125.2h0M152.1 117.6h0M153.3 111.7h0M151.7 86.7h0M153.2 117.3h0M152.1 89.9h0M153.0 134.8h0M153.5 124.4h0M151.7 93.0h0M153.6 139.5h0M153.3 81.0h0M151.9 103.6h0M153.5 119.8h0M152.8 113.6h0M152.9 127.2h0M151.8 87.1h0M152.2 104.6h0M153.1 88.7h0M153.3 113.0h0M152.9 92.1h0M151.9 101.2h0M152.4 126.3h0M153.3 110.0h0M152.4 139.6h0M152.0 111.0h0M153.2 88.4h0M151.9 90.7h0M152.7 85.5h0M152.9 100.5h0M153.1 87.9h0M153.3 119.4h0M153.0 77.6h0M153.4 128.9h0M152.5 116.3h0M152.3 81.9h0M151.8 98.1h0M153.0 117.4h0M153.3 122.0h0M152.2 122.2h0M151.7 100.7h0M153.5 114.6h0M153.2 111.2h0M152.7 121.4h0M152.3 112.9h0M152.7 83.3h0M152.7 137.0h0M153.5 85.0h0M153.0 115.5h0M152.1 140.2h0M151.7 115.2h0M153.6 109.6h0M153.0 101.4h0M153.2 86.7h0M151.7 96.1h0M152.2 81.3h0M152.8 124.3h0M153.0 85.5h0M151.8 90.4h0M151.9 99.2h0M153.6 103.1h0M153.2 82.2h0M152.3 91.5h0M152.5 108.8h0M153.5 79.4h0M151.7 113.1h0M153.4 134.6h0M152.2 123.7h0M153.5 94.1h0M152.8 107.9h0M151.9 80.9h0M152.4 117.5h0M152.1 85.3h0M153.3 88.9h0M152.4 116.9h0M153.2 80.2h0M152.7 99.3h0M153.2 95.8h0M153.2 99.7h0M152.1 94.2h0M152.9 99.3h0M151.8 114.2h0M152.1 87.4h0M151.9 101.4h0M151.8 109.5h0M152.0 102.6h0M151.9 101.5h0M152.6 99.2h0M151.8 126.1h0M152.8 110.5h0M153.4 118.6h0M152.7 116.3h0M153.4 93.5h0M152.2 91.0h0M153.1 128.2h0M152.3 101.9h0M152.4 108.1h0M152.6 117.5h0M153.0 88.8h0M152.6 77.4h0M152.1 85.0h0M152.6 75.3h0M152.8 149.7h0M153.0 64.0h0M173.6 106.4h0M172.9 102.7h0M173.0 131.7h0M174.6 107.3h0M172.4 125.9h0M172.9 105.9h0M173.4 76.5h0M173.1 74.4h0M173.2 128.5h0M172.9 128.0h0M174.3 119.8h0M172.3 128.9h0M173.8 109.9h0M174.1 117.3h0M174.1 70.6h0M173.5 115.0h0M174.6 90.5h0M173.6 122.0h0M172.7 109.8h0M174.1 124.3h0M173.8 120.9h0M172.6 116.5h0M174.3 82.0h0M174.5 108.0h0M174.0 119.6h0M173.5 116.6h0M173.1 128.3h0M174.1 143.4h0M172.2 108.1h0M173.9 131.6h0M173.7 116.1h0M173.9 111.9h0M172.7 114.7h0M174.5 119.4h0M173.5 131.9h0M173.2 124.9h0M174.5 132.6h0M174.0 105.3h0M172.1 115.2h0M174.0 129.3h0M173.0 114.4h0M172.0 117.5h0M174.3 104.7h0M173.2 146.9h0M173.9 115.8h0M172.4 119.6h0M172.3 117.5h0M172.8 112.0h0M173.2 119.6h0M174.4 136.8h0M173.6 119.2h0M173.7 124.7h0M173.1 100.5h0M174.1 119.3h0M172.6 98.4h0M174.6 117.7h0M173.8 140.0h0M172.4 90.4h0M173.3 111.5h0M173.4 109.7h0M172.4 128.3h0M174.6 133.4h0M173.5 140.9h0M173.4 133.0h0M172.5 103.7h0M173.7 108.2h0M173.8 102.3h0M173.7 119.9h0M173.8 100.7h0M172.7 113.8h0M174.6 137.0h0M173.4 103.4h0M172.2 112.1h0M173.8 126.6h0M173.8 120.9h0M172.1 69.5h0M172.8 120.3h0M173.1 71.3h0M174.2 128.3h0M172.4 106.8h0M174.5 142.7h0M173.3 118.7h0M173.0 120.2h0M174.2 77.1h0M174.0 142.2h0M172.9 105.8h0M174.7 102.4h0M173.7 127.6h0M173.4 116.0h0M172.6 119.0h0M172.3 106.0h0M172.4 99.5h0M173.5 94.7h0M172.0 112.8h0M172.6 110.6h0M174.2 137.1h0M173.2 104.8h0M174.0 109.1h0M174.2 115.0h0M174.5 112.1h0M172.1 83.0h0M172.2 109.0h0M172.8 90.9h0M172.6 102.1h0M172.8 108.6h0M173.1 125.9h0M172.3 104.0h0M172.4 127.1h0M173.3 76.5h0M174.0 105.0h0M172.4 93.2h0M173.7 91.2h0M171.9 119.1h0M172.5 110.2h0M174.7 115.3h0M173.8 107.9h0M173.8 110.3h0M172.1 105.9h0M174.5 103.0h0M173.3 112.0h0M173.3 115.0h0M174.5 135.6h0M172.3 130.8h0M173.8 105.4h0M174.6 94.8h0M174.1 115.8h0M172.1 108.9h0M172.9 97.9h0M173.9 89.3h0M173.1 120.4h0M173.9 104.8h0M172.3 127.3h0M172.2 125.7h0M171.9 115.0h0M174.3 109.4h0M174.4 134.8h0M173.5 123.0h0M174.5 127.1h0M173.4 83.6h0M173.0 109.1h0M172.5 95.0h0M173.3 112.1h0M172.4 114.9h0M174.0 86.5h0M173.3 99.1h0M173.3 119.5h0M173.0 108.3h0M173.3 99.8h0M173.2 84.2h0M172.9 108.6h0M172.5 125.4h0M173.7 117.0h0M173.8 96.1h0M172.9 104.3h0M173.4 120.1h0M174.1 102.6h0M172.2 109.1h0M173.3 125.3h0M173.3 107.9h0M174.3 101.3h0M173.1 131.6h0M172.4 120.3h0M174.5 108.1h0M174.3 134.4h0M172.5 131.9h0M172.2 133.3h0M173.0 131.6h0M172.0 85.8h0M172.0 109.9h0M172.8 116.6h0M172.4 95.8h0M173.6 115.1h0M174.3 106.7h0M173.5 137.4h0M172.0 88.0h0M173.6 114.5h0M172.5 80.3h0M172.9 110.5h0M174.6 142.0h0M172.6 118.3h0M173.4 68.0h0M173.2 152.9h0M205.2 104.9h0M204.0 111.1h0M203.6 102.5h0M204.9 113.5h0M203.5 107.4h0M204.0 102.5h0M204.6 116.8h0M204.9 76.0h0M225.8 93.8h0M224.0 123.4h0M223.1 114.3h0M223.1 114.0h0M223.1 129.5h0M223.9 130.6h0M225.3 108.4h0M223.8 99.5h0M224.2 125.8h0M223.5 126.9h0M225.3 133.3h0M224.8 127.7h0M224.8 131.3h0M223.7 114.4h0M225.5 100.6h0M226.0 101.0h0M224.1 128.4h0M223.4 129.6h0M226.0 120.5h0M226.0 102.0h0M224.5 129.1h0M223.4 129.9h0M223.8 104.0h0M223.5 105.1h0M224.1 116.3h0M224.5 126.4h0M223.6 128.1h0M223.3 131.1h0M224.6 106.8h0M224.4 125.5h0M224.9 127.3h0M224.6 112.5h0M224.7 119.3h0M226.2 118.5h0M223.1 113.1h0M224.2 82.5h0M224.1 134.5h0M245.9 93.9h0M246.6 97.4h0M243.5 118.9h0M245.2 123.2h0M244.5 114.4h0M245.2 114.7h0M243.6 120.6h0M245.0 121.8h0M245.6 103.9h0M244.9 120.2h0M244.1 96.5h0M245.8 96.0h0M244.6 104.9h0M245.8 105.7h0M245.8 92.0h0M244.6 87.3h0M245.4 124.0h0M244.2 53.1h0M266.4 96.2h0M265.5 112.3h0M264.6 115.9h0M266.3 86.0h0M266.4 132.3h0M266.0 103.4h0M266.8 83.9h0M265.3 106.1h0M267.3 125.1h0M266.4 98.3h0M266.5 119.8h0M266.5 108.5h0M266.9 106.4h0M264.8 90.8h0M264.6 103.4h0M267.3 90.6h0M265.9 95.4h0M265.9 85.3h0M264.5 131.9h0M266.4 101.8h0M267.3 89.0h0M264.6 142.9h0M266.5 91.0h0M265.9 77.2h0M264.6 129.8h0M266.1 121.1h0M267.3 115.7h0M266.9 129.0h0M266.9 109.1h0M267.1 100.3h0M264.7 74.7h0M266.4 95.8h0M266.2 142.1h0M264.9 105.5h0M266.5 97.7h0M266.8 95.2h0M266.1 120.1h0M264.7 131.8h0M267.5 82.6h0M266.0 95.2h0M266.6 114.5h0M265.8 103.9h0M265.0 84.0h0M264.7 114.4h0M265.3 122.9h0M264.8 135.9h0M266.8 120.1h0M266.4 115.6h0M266.1 114.5h0M264.9 115.4h0M266.2 119.6h0M266.0 92.7h0M264.6 111.5h0M267.5 97.5h0M265.0 128.9h0M266.9 136.4h0M266.7 91.1h0M266.1 119.2h0M265.3 126.0h0M264.7 106.3h0M266.0 128.4h0M264.7 94.9h0M266.1 115.1h0M265.2 103.5h0M267.3 86.5h0M265.3 124.1h0M265.6 80.4h0M267.4 110.1h0M265.3 134.5h0M267.0 144.7h0M267.4 143.8h0M265.8 87.5h0M267.1 89.9h0M264.5 135.4h0M266.5 129.0h0M267.2 98.5h0M267.4 109.3h0M264.7 113.7h0M265.0 93.1h0M267.0 124.1h0M266.7 124.4h0M266.9 94.2h0M265.0 92.1h0M267.1 105.3h0M267.5 136.2h0M265.5 98.1h0M265.6 122.3h0M266.1 119.7h0M265.9 88.4h0M266.1 136.6h0M264.9 100.3h0M265.8 93.9h0M264.9 121.9h0M266.4 145.1h0M265.8 103.5h0M265.8 133.0h0M265.3 110.6h0M264.9 139.0h0M266.7 86.7h0M265.6 114.9h0M265.8 136.0h0M265.3 111.0h0M266.6 87.9h0M266.2 108.9h0M265.8 91.8h0M264.9 99.5h0M266.5 101.4h0M265.2 121.2h0M264.9 101.4h0M265.3 90.7h0M265.8 128.5h0M265.8 91.9h0M267.3 106.4h0M264.8 113.8h0M265.6 125.6h0M265.3 110.4h0M266.6 99.9h0M267.4 95.9h0M267.0 124.5h0M267.4 99.9h0M266.4 129.6h0M264.9 108.0h0M264.9 85.1h0M267.1 130.3h0M265.3 112.1h0M266.4 138.5h0M264.7 86.2h0M267.0 110.7h0M265.4 101.5h0M266.4 137.8h0M266.6 98.6h0M265.9 99.5h0M266.2 133.9h0M264.6 110.2h0M265.5 130.2h0M267.3 101.5h0M266.3 134.2h0M264.6 83.3h0M266.2 82.3h0M265.0 97.0h0M267.5 91.3h0M264.5 89.8h0M267.1 131.9h0M265.9 119.2h0M264.7 107.5h0M266.6 83.8h0M266.4 115.2h0M265.4 95.8h0M267.2 87.6h0M266.3 127.1h0M267.4 121.2h0M267.0 135.1h0M266.9 94.4h0M266.9 107.2h0M267.1 90.1h0M265.9 96.8h0M264.8 119.4h0M264.9 138.0h0M265.7 128.5h0M267.3 90.3h0M265.9 90.1h0M264.8 115.2h0M266.8 95.5h0M264.8 86.8h0M267.1 111.1h0M266.7 139.3h0M267.1 132.1h0M266.0 105.6h0M265.4 88.6h0M265.8 133.9h0M266.6 109.6h0M266.0 114.5h0M265.4 122.7h0M265.1 95.9h0M265.0 102.0h0M264.6 131.3h0M265.0 110.4h0M265.8 121.1h0M264.8 112.7h0M264.8 91.8h0M266.7 85.9h0M266.3 95.3h0M266.6 101.5h0M265.8 144.1h0M267.1 109.2h0M266.8 93.1h0M265.6 113.3h0M266.5 110.9h0M265.0 119.3h0M267.5 119.6h0M264.6 122.4h0M264.6 138.7h0M266.8 140.0h0M265.6 99.8h0M265.5 109.3h0M267.4 89.3h0M267.3 139.6h0M266.1 130.5h0M265.2 105.2h0M265.5 113.2h0M267.0 130.3h0M266.0 119.5h0M266.6 84.3h0M266.3 116.1h0M266.8 104.6h0M266.1 113.6h0M265.9 86.3h0M264.7 116.9h0M266.3 84.8h0M265.2 102.0h0M267.1 134.5h0M266.2 85.0h0M266.4 121.9h0M266.0 110.6h0M267.2 85.4h0M267.0 79.1h0M266.6 135.9h0M264.7 125.4h0M266.9 137.3h0M267.2 88.9h0M267.4 123.8h0M266.5 93.0h0M266.0 110.0h0M267.0 103.5h0M266.6 128.2h0M266.0 72.7h0M266.1 150.9h0M266.4 30.2h0M264.8 34.2h0M265.9 38.2h0M267.1 46.3h0M286.9 119.4h0M286.0 123.7h0M285.2 126.6h0M285.9 115.1h0M285.7 121.6h0M286.8 110.5h0M287.1 95.7h0M285.9 111.5h0M285.3 126.3h0M287.3 124.7h0M285.4 112.1h0M286.5 126.7h0M286.5 86.3h0M286.6 129.3h0M306.7 109.5h0M306.0 113.3h0M306.1 117.5h0M306.1 97.8h0M306.7 119.6h0M306.6 96.7h0M307.9 129.3h0M307.7 90.8h0M305.0 124.5h0M306.7 90.9h0M307.5 127.4h0M305.1 107.3h0M306.6 107.6h0M305.9 127.1h0M306.1 115.4h0M306.7 71.0h0M306.1 130.0h0M326.8 127.1h0M326.1 86.9h0M327.0 124.8h0M327.6 124.1h0M325.9 81.4h0M327.3 82.4h0M327.9 101.3h0M326.6 124.7h0M328.2 87.0h0M328.1 81.9h0M326.3 79.9h0M326.3 130.9h0M348.2 98.0h0M349.1 88.1h0M347.9 90.9h0M346.6 81.6h0M348.3 67.9h0M347.8 107.6h0M365.4 84.1h0M366.8 121.5h0M365.8 86.0h0M365.5 143.3h0M364.4 99.5h0M366.0 92.0h0M366.4 75.9h0M365.5 153.3h0M383.9 106.6h0M382.2 107.3h0M383.4 128.6h0M382.5 109.9h0M382.5 109.3h0M384.5 133.7h0M384.3 110.0h0M383.1 132.8h0M383.0 109.3h0M383.3 135.4h0M382.6 112.7h0M383.5 118.9h0M383.1 102.1h0M383.6 144.0h0M408.9 88.6h0M409.0 92.1h0M408.5 93.8h0M409.8 85.3h0M408.8 113.6h0M428.7 104.0h0M428.6 132.2h0M428.9 138.0h0M430.7 112.3h0M430.5 122.7h0M429.6 132.4h0M431.0 103.9h0M430.9 122.0h0M429.5 138.4h0M428.9 134.4h0M430.0 111.6h0M430.2 103.8h0M431.1 118.7h0M430.0 100.2h0M430.5 99.5h0M429.0 81.9h0M429.3 95.2h0M429.7 80.3h0M430.2 82.8h0M428.5 72.4h0M430.0 100.7h0M431.1 90.1h0M428.5 92.8h0M430.1 125.6h0M429.6 130.4h0M430.5 110.1h0M429.9 126.0h0M428.2 133.3h0M430.7 111.8h0M430.5 97.2h0M430.0 120.6h0M430.7 111.2h0M428.3 123.5h0M430.4 113.3h0M428.8 95.3h0M429.3 111.7h0M431.1 107.7h0M430.0 116.1h0M429.0 122.3h0M430.5 102.0h0M428.5 84.4h0M430.0 83.7h0M428.3 67.1h0M428.4 126.3h0M430.9 108.6h0M428.4 123.6h0M430.1 141.3h0M431.2 128.1h0M431.2 123.5h0M431.2 118.3h0M430.7 107.6h0M429.6 95.2h0M429.0 101.2h0M431.1 135.4h0M429.1 130.1h0M430.9 99.8h0M429.1 125.2h0M429.4 132.1h0M430.4 126.9h0M428.7 99.5h0M430.0 101.9h0M431.1 102.6h0M428.2 96.6h0M430.0 71.3h0M430.2 109.8h0M430.9 80.2h0M431.3 126.9h0M429.9 133.3h0M428.7 118.8h0M429.9 109.3h0M428.1 133.9h0M428.4 121.3h0M430.9 89.6h0M431.3 113.7h0M429.3 130.2h0M430.4 92.1h0M430.5 84.9h0M428.5 103.1h0M429.1 78.6h0M429.5 107.0h0M430.0 130.8h0M430.9 112.0h0M429.3 87.8h0M428.4 102.5h0M429.5 97.6h0M430.7 76.3h0M429.6 114.2h0M428.5 128.6h0M430.6 81.7h0M428.2 102.8h0M430.4 66.0h0M429.3 146.5h0M451.5 125.7h0M449.0 98.6h0M449.7 128.3h0M448.8 120.3h0M449.7 131.8h0M451.2 127.0h0M451.6 142.7h0M451.7 93.2h0M451.4 98.6h0M448.8 106.5h0M448.8 125.1h0M450.5 112.1h0M450.1 124.9h0M451.7 129.9h0M451.1 117.4h0M449.7 127.7h0M450.9 100.2h0M450.9 118.5h0M449.2 144.9h0M450.8 124.6h0M449.4 108.7h0M449.8 111.0h0M451.2 100.3h0M450.8 118.8h0M449.9 122.8h0M450.7 112.8h0M451.4 133.3h0M451.3 108.4h0M449.2 105.0h0M449.1 112.4h0M450.4 116.1h0M451.5 141.2h0M450.5 143.2h0M449.4 112.1h0M448.8 111.0h0M451.4 130.6h0M451.3 111.3h0M450.9 117.1h0M449.2 101.7h0M451.5 123.6h0M450.3 114.9h0M450.3 119.7h0M450.0 113.0h0M450.4 144.9h0M449.8 135.1h0M451.8 131.8h0M450.1 119.6h0M450.4 134.3h0M449.8 109.7h0M449.5 114.1h0M450.4 128.4h0M450.3 137.2h0M450.0 126.8h0M451.4 124.2h0M450.0 136.7h0M449.3 137.7h0M449.5 116.4h0M450.6 139.3h0M451.1 112.9h0M450.6 132.9h0M451.3 119.9h0M450.7 134.7h0M451.3 111.9h0M449.9 115.4h0M451.4 107.3h0M449.5 141.1h0M449.0 116.8h0M450.2 135.0h0M449.5 127.2h0M449.5 142.9h0M449.6 120.5h0M449.4 107.6h0M449.9 120.1h0M449.2 117.5h0M450.7 123.9h0M450.3 106.6h0M450.4 127.3h0M449.9 115.6h0M451.2 138.1h0M449.6 121.6h0M449.9 116.3h0M451.4 103.1h0M450.1 126.2h0M449.5 138.4h0M450.9 134.0h0M451.6 107.5h0M449.8 110.6h0M451.3 126.7h0M450.0 137.5h0M449.2 142.9h0M450.0 116.3h0M448.8 119.1h0M448.9 120.0h0M450.7 127.1h0M450.2 130.7h0M450.5 112.0h0M449.1 139.7h0M450.2 135.6h0M450.5 120.8h0M449.0 109.8h0M450.0 139.9h0M450.1 125.4h0M449.2 119.4h0M449.9 111.8h0M449.1 110.9h0M451.7 135.5h0M450.8 110.4h0M449.2 111.8h0M449.6 133.6h0M451.6 122.4h0M450.4 128.7h0M450.9 114.2h0M449.4 142.9h0M449.4 114.6h0M450.7 115.2h0M450.0 115.7h0M449.0 111.8h0M448.9 123.0h0M450.6 126.8h0M450.0 118.1h0M449.2 111.9h0M449.7 114.6h0M449.3 121.9h0M450.2 107.3h0M450.1 108.4h0M450.8 111.7h0M449.0 116.1h0M450.2 126.9h0M449.5 130.9h0M449.4 126.8h0M450.1 110.2h0M451.4 128.0h0M449.4 132.9h0M451.5 111.3h0M451.7 109.6h0M449.6 128.3h0M451.8 115.8h0M450.2 139.2h0M451.5 131.5h0M450.3 115.1h0M451.4 134.4h0M451.5 120.0h0M451.2 108.5h0M450.8 123.2h0M451.2 120.2h0M449.8 129.0h0M451.3 105.3h0M449.5 119.3h0M448.7 132.8h0M450.5 113.4h0M449.0 139.4h0M450.0 106.2h0M449.4 117.1h0M450.9 138.6h0M449.6 99.6h0M451.5 109.4h0M449.0 115.5h0M450.9 117.8h0M449.2 134.7h0M449.6 113.5h0M449.2 104.6h0M450.6 126.9h0M449.6 101.6h0M450.7 151.3h0M448.9 134.0h0M449.3 125.0h0M450.8 122.6h0M451.5 123.1h0M450.8 118.0h0M451.6 133.2h0M449.5 129.4h0M449.1 99.2h0M449.6 127.8h0M451.7 127.5h0M451.2 139.2h0M448.9 111.1h0M451.3 115.2h0M450.2 126.1h0M448.9 117.0h0M451.7 127.9h0M450.8 89.3h0M449.8 154.5h0M450.1 74.8h0M451.1 79.6h0M471.8 121.2h0M472.6 106.6h0M472.3 130.5h0M470.9 104.6h0M471.3 104.9h0M470.2 119.6h0M472.1 127.0h0M471.3 104.1h0M470.3 109.2h0M470.5 109.8h0M471.1 133.4h0M471.7 92.1h0M470.1 117.3h0M469.8 127.3h0M470.0 108.2h0M470.7 121.1h0M469.8 117.4h0M470.6 119.4h0M471.9 107.9h0M471.8 126.4h0M470.5 108.2h0M472.0 109.0h0M471.8 111.3h0M471.5 121.0h0M470.2 93.0h0M469.6 121.8h0M469.8 128.7h0M472.2 90.2h0M470.0 127.6h0M469.7 102.0h0M470.7 91.1h0M471.2 106.2h0M472.4 120.1h0M471.6 98.8h0M471.2 112.7h0M472.2 112.3h0M472.2 123.4h0M470.2 106.0h0M471.8 117.6h0M470.5 123.1h0M470.6 112.9h0M471.2 122.2h0M471.2 123.5h0M472.0 120.8h0M470.0 104.7h0M470.5 124.9h0M472.3 114.6h0M472.6 119.9h0M471.1 114.1h0M470.4 106.8h0M472.5 122.7h0M469.7 113.2h0M472.6 114.6h0M469.7 115.8h0M471.7 128.7h0M471.0 93.3h0M470.8 107.8h0M472.6 116.7h0M471.1 97.0h0M471.7 117.2h0M469.9 111.1h0M472.3 86.3h0M470.1 118.8h0M472.5 101.5h0M471.8 129.5h0M471.0 107.6h0M471.7 132.7h0M471.0 103.5h0M469.9 119.1h0M469.7 95.1h0M470.0 119.1h0M472.4 129.5h0M471.2 115.9h0M470.2 104.0h0M472.1 124.8h0M471.8 121.6h0M472.3 108.5h0M472.3 104.7h0M470.1 101.6h0M469.8 123.6h0M470.2 106.5h0M471.7 123.2h0M470.0 120.6h0M470.4 112.2h0M471.9 103.0h0M470.5 114.5h0M470.0 99.1h0M472.0 122.9h0M471.9 108.7h0M472.5 124.4h0M471.0 108.6h0M472.0 111.2h0M471.4 116.8h0M472.2 113.4h0M471.5 103.2h0M470.9 132.0h0M470.5 117.5h0M469.6 100.8h0M470.3 95.8h0M470.2 100.5h0M469.7 89.5h0M472.5 122.1h0M471.3 123.4h0M472.5 99.1h0M470.2 126.0h0M472.1 97.4h0M469.8 124.3h0M471.2 91.3h0M471.0 123.9h0M472.3 120.4h0M471.7 105.7h0M470.7 111.5h0M471.6 107.2h0M471.9 97.6h0M470.4 92.2h0M471.5 100.9h0M471.9 96.3h0M469.9 94.3h0M472.5 103.1h0M471.4 122.8h0M470.8 83.7h0M470.9 134.5h0M489.2 106.9h0M488.0 108.3h0M488.8 104.9h0M489.6 100.5h0M488.6 100.5h0M488.1 108.8h0M488.6 79.6h0M511.0 139.6h0M513.0 121.1h0M512.5 91.8h0M510.3 109.8h0M511.7 99.6h0M511.0 89.2h0M511.8 95.6h0M512.6 135.7h0M510.5 118.6h0M511.5 111.7h0M511.2 128.9h0M511.4 108.9h0M513.1 134.8h0M511.6 101.0h0M510.7 136.0h0M510.5 125.7h0M512.4 121.8h0M511.6 122.4h0M511.6 81.6h0M511.4 134.5h0M511.7 106.9h0M512.9 126.3h0M511.2 122.7h0M511.4 125.8h0M513.0 135.5h0M510.4 116.6h0M511.8 131.4h0M511.5 129.7h0M513.1 110.5h0M512.6 135.0h0M512.3 75.3h0M512.1 147.3h0M510.9 67.2h0M530.9 115.7h0M532.6 82.8h0M533.3 107.5h0M530.6 99.6h0M531.2 126.8h0M532.1 140.0h0M530.6 89.0h0M533.7 99.3h0M530.5 135.7h0M533.5 81.0h0M533.1 124.6h0M531.7 123.7h0M532.8 72.9h0M533.1 120.4h0M532.4 113.1h0M532.2 70.1h0M531.5 153.7h0M554.8 90.7h0M552.7 120.5h0M552.5 84.9h0M551.8 122.1h0M552.9 119.8h0M552.8 152.2h0M552.5 131.7h0M551.2 92.1h0M554.3 110.2h0M553.2 111.5h0M552.3 98.2h0M554.1 105.2h0M551.9 111.6h0M552.4 108.4h0M553.1 109.3h0M554.3 107.4h0M552.3 114.4h0M552.8 111.7h0M552.6 88.0h0M552.8 133.7h0M554.6 123.0h0M552.5 124.6h0M552.1 105.5h0M554.2 109.6h0M554.1 140.2h0M551.9 118.3h0M553.3 135.9h0M553.0 135.8h0M553.3 94.2h0M552.0 108.4h0M551.3 134.5h0M553.0 118.4h0M551.5 129.4h0M553.9 128.2h0M553.5 138.8h0M553.8 101.2h0M554.1 139.8h0M552.4 104.2h0M553.9 102.4h0M551.8 83.6h0M551.3 120.0h0M551.9 82.4h0M553.8 117.6h0M551.5 142.7h0M554.5 134.5h0M552.5 82.8h0M552.2 115.3h0M551.9 129.5h0M552.6 128.5h0M553.8 128.8h0M554.0 119.4h0M551.5 115.9h0M552.3 123.3h0M553.8 93.0h0M553.6 106.9h0M552.9 109.6h0M553.7 125.5h0M553.4 115.1h0M553.4 111.8h0M552.0 134.3h0M552.0 131.0h0M553.9 105.7h0M553.8 124.0h0M552.1 135.0h0M551.2 118.6h0M551.7 100.8h0M551.7 117.4h0M551.8 119.0h0M554.6 110.0h0M553.3 146.7h0M552.1 105.6h0M554.7 75.2h0M554.6 112.9h0M552.9 107.9h0M553.3 112.3h0M551.4 138.0h0M552.8 124.6h0M552.0 110.7h0M553.6 112.3h0M551.7 77.7h0M554.0 129.8h0M551.5 120.9h0M554.2 86.6h0M553.8 136.9h0M553.5 129.5h0M553.7 91.0h0M551.5 115.5h0M552.7 120.3h0M552.2 126.8h0M551.9 94.6h0M553.6 70.4h0M553.3 156.1h0M553.9 58.9h0M571.6 134.4h0M573.2 114.1h0M572.0 128.7h0M574.4 119.5h0M574.2 140.2h0M572.3 113.3h0M574.9 137.1h0M574.1 123.1h0M574.4 129.5h0M572.5 128.9h0M574.1 122.2h0M573.8 110.6h0M574.4 143.5h0M574.4 113.1h0M573.9 124.3h0M573.3 122.9h0M574.3 124.9h0M572.5 128.7h0M572.0 124.2h0M573.0 119.0h0M572.2 133.6h0M573.8 126.7h0M572.8 131.0h0M573.6 123.6h0M572.6 128.9h0M574.3 134.3h0M573.3 123.4h0M573.5 119.3h0M572.9 119.0h0M574.8 140.4h0M574.6 113.2h0M573.1 114.0h0M571.5 134.8h0M573.7 148.1h0M573.0 129.4h0M572.4 130.9h0M573.4 140.4h0M572.7 129.5h0M572.7 108.6h0M572.5 120.6h0M572.0 107.2h0M571.8 137.2h0M573.6 136.0h0M572.0 138.4h0M573.1 117.6h0M571.8 114.8h0M572.7 117.7h0M571.7 135.7h0M572.3 107.8h0M572.5 120.4h0M572.9 101.7h0M573.0 151.3h0M594.9 106.8h0M594.0 115.8h0M594.6 141.0h0M594.6 127.7h0M593.8 136.3h0M593.4 113.0h0M594.2 121.4h0M595.4 107.0h0M594.0 105.8h0M593.3 115.7h0M593.8 119.0h0M595.5 106.3h0M593.4 108.8h0M593.8 105.5h0M595.5 113.6h0M593.9 124.9h0M595.4 115.0h0M593.7 120.4h0M594.1 105.3h0M594.4 109.4h0M593.2 119.2h0M592.5 102.7h0M594.4 115.5h0M595.4 107.6h0M594.5 97.6h0M592.9 121.0h0M594.5 113.8h0M594.0 137.0h0M593.5 107.1h0M593.3 121.9h0M594.1 121.4h0M593.0 137.4h0M595.1 126.8h0M593.1 112.3h0M592.9 132.3h0M595.0 130.3h0M593.2 125.2h0M593.6 141.9h0M594.8 125.2h0M593.3 105.1h0M594.1 94.5h0M593.4 149.7h0M594.5 72.0h0M595.0 77.7h0M614.1 128.4h0M613.3 102.2h0M614.3 126.4h0M614.6 109.6h0M613.4 102.1h0M614.2 84.9h0M613.6 129.6h0" stroke="#7570B3" stroke-width="1.2" stroke-linecap="round" fill="none"/>
<line x1="59.45" x2="59.45" y1="116" y2="118.5" stroke="#1B9E77" stroke-width="0.65"/><line x1="59.45" x2="59.45" y1="125.5" y2="137" stroke="#1B9E77" stroke-width="0.65"/><rect x="58.4" y="118.5" width="2.1" height="7" fill="none" stroke="#1B9E77" stroke-width="0.72"/><line x1="58.4" x2="60.5" y1="121" y2="121" stroke="#1B9E77" stroke-width="0.9"/><line x1="63.6" x2="63.6" y1="110" y2="125.3" stroke="#D95F02" stroke-width="0.65"/><line x1="63.6" x2="63.6" y1="141.3" y2="151.7" stroke="#D95F02" stroke-width="0.65"/><rect x="62.4" y="125.3" width="2.4" height="16" fill="none" stroke="#D95F02" stroke-width="0.72"/><line x1="62.4" x2="64.8" y1="133" y2="133" stroke="#D95F02" stroke-width="0.9"/><line x1="67.45" x2="67.45" y1="33.4" y2="75" stroke="#7570B3" stroke-width="0.65"/><line x1="67.45" x2="67.45" y1="122.9" y2="148.5" stroke="#7570B3" stroke-width="0.65"/><rect x="66.4" y="75" width="2.1" height="47.9" fill="none" stroke="#7570B3" stroke-width="0.72"/><line x1="66.4" x2="68.5" y1="98.6" y2="98.6" stroke="#7570B3" stroke-width="0.9"/><rect x="79.6" y="130" width="1.3" height="3" fill="none" stroke="#1B9E77" stroke-width="0.55"/><line x1="79.6" x2="80.9" y1="131.5" y2="131.5" stroke="#1B9E77" stroke-width="0.8"/><line x1="84.9" x2="84.9" y1="74.3" y2="98.6" stroke="#D95F02" stroke-width="0.65"/><line x1="84.9" x2="84.9" y1="129.3" y2="151.7" stroke="#D95F02" stroke-width="0.65"/><rect x="83.3" y="98.6" width="3.2" height="30.7" fill="none" stroke="#D95F02" stroke-width="0.72"/><line x1="83.3" x2="86.5" y1="115" y2="115" stroke="#D95F02" stroke-width="0.9"/><line x1="88.8" x2="88.8" y1="90.3" y2="97.2" stroke="#7570B3" stroke-width="0.65"/><line x1="88.8" x2="88.8" y1="120.9" y2="127.7" stroke="#7570B3" stroke-width="0.65"/><rect x="87.1" y="97.2" width="3.4" height="23.7" fill="none" stroke="#7570B3" stroke-width="0.72"/><line x1="87.1" x2="90.5" y1="111.6" y2="111.6" stroke="#7570B3" stroke-width="0.9"/><line x1="101.25" x2="101.25" y1="92.9" y2="106" stroke="#1B9E77" stroke-width="0.65"/><line x1="101.25" x2="101.25" y1="122" y2="134.9" stroke="#1B9E77" stroke-width="0.65"/><rect x="99.5" y="106" width="3.5" height="16" fill="none" stroke="#1B9E77" stroke-width="0.72"/><line x1="99.5" x2="103" y1="114" y2="114" stroke="#1B9E77" stroke-width="0.9"/><line x1="106.1" x2="106.1" y1="72.9" y2="108.4" stroke="#D95F02" stroke-width="0.65"/><line x1="106.1" x2="106.1" y1="126.9" y2="165.3" stroke="#D95F02" stroke-width="0.65"/><rect x="104.8" y="108.4" width="2.6" height="18.5" fill="none" stroke="#D95F02" stroke-width="0.72"/><line x1="104.8" x2="107.4" y1="117" y2="117" stroke="#D95F02" stroke-width="0.9"/><line x1="109.7" x2="109.7" y1="53" y2="92" stroke="#7570B3" stroke-width="0.65"/><line x1="109.7" x2="109.7" y1="118" y2="151.7" stroke="#7570B3" stroke-width="0.65"/><rect x="108" y="92" width="3.4" height="26" fill="none" stroke="#7570B3" stroke-width="0.72"/><line x1="108" x2="111.4" y1="105" y2="105" stroke="#7570B3" stroke-width="0.9"/><line x1="124.2" x2="124.2" y1="94.5" y2="113.6" stroke="#D95F02" stroke-width="0.65"/><line x1="124.2" x2="124.2" y1="138.5" y2="152" stroke="#D95F02" stroke-width="0.65"/><rect x="122.5" y="113.6" width="3.4" height="24.9" fill="none" stroke="#D95F02" stroke-width="0.72"/><line x1="122.5" x2="125.9" y1="128.8" y2="128.8" stroke="#D95F02" stroke-width="0.9"/><line x1="129.25" x2="129.25" y1="76" y2="103" stroke="#7570B3" stroke-width="0.65"/><line x1="129.25" x2="129.25" y1="122.4" y2="152" stroke="#7570B3" stroke-width="0.65"/><rect x="127.8" y="103" width="2.9" height="19.4" fill="none" stroke="#7570B3" stroke-width="0.72"/><line x1="127.8" x2="130.7" y1="113" y2="113" stroke="#7570B3" stroke-width="0.9"/><rect x="142.1" y="127" width="1.8" height="5" fill="none" stroke="#1B9E77" stroke-width="0.55"/><line x1="142.1" x2="143.9" y1="129" y2="129" stroke="#1B9E77" stroke-width="0.8"/><line x1="147.85" x2="147.85" y1="74.5" y2="103" stroke="#D95F02" stroke-width="0.65"/><line x1="147.85" x2="147.85" y1="130" y2="154.5" stroke="#D95F02" stroke-width="0.65"/><rect x="146.5" y="103" width="2.7" height="27" fill="none" stroke="#D95F02" stroke-width="0.72"/><line x1="146.5" x2="149.2" y1="117" y2="117" stroke="#D95F02" stroke-width="0.9"/><line x1="152.65" x2="152.65" y1="75.3" y2="88.5" stroke="#7570B3" stroke-width="0.65"/><line x1="152.65" x2="152.65" y1="118" y2="149.7" stroke="#7570B3" stroke-width="0.65"/><rect x="151.3" y="88.5" width="2.7" height="29.5" fill="none" stroke="#7570B3" stroke-width="0.72"/><line x1="151.3" x2="154" y1="105" y2="105" stroke="#7570B3" stroke-width="0.9"/><line x1="164.7" x2="164.7" y1="94.9" y2="106.4" stroke="#1B9E77" stroke-width="0.65"/><line x1="164.7" x2="164.7" y1="119.2" y2="133.6" stroke="#1B9E77" stroke-width="0.65"/><rect x="163.1" y="106.4" width="3.2" height="12.8" fill="none" stroke="#1B9E77" stroke-width="0.72"/><line x1="163.1" x2="166.3" y1="112" y2="112" stroke="#1B9E77" stroke-width="0.9"/><line x1="168.65" x2="168.65" y1="85.7" y2="116" stroke="#D95F02" stroke-width="0.65"/><line x1="168.65" x2="168.65" y1="138.5" y2="161" stroke="#D95F02" stroke-width="0.65"/><rect x="167.3" y="116" width="2.7" height="22.5" fill="none" stroke="#D95F02" stroke-width="0.72"/><line x1="167.3" x2="170" y1="127" y2="127" stroke="#D95F02" stroke-width="0.9"/><line x1="173.3" x2="173.3" y1="68" y2="103.2" stroke="#7570B3" stroke-width="0.65"/><line x1="173.3" x2="173.3" y1="120.8" y2="152.9" stroke="#7570B3" stroke-width="0.65"/><rect x="171.3" y="103.2" width="4" height="17.6" fill="none" stroke="#7570B3" stroke-width="0.72"/><line x1="171.3" x2="175.3" y1="112" y2="112" stroke="#7570B3" stroke-width="0.9"/><line x1="193.05" x2="193.05" y1="88" y2="92.1" stroke="#1B9E77" stroke-width="0.65"/><line x1="193.05" x2="193.05" y1="98.5" y2="101.7" stroke="#1B9E77" stroke-width="0.65"/><rect x="191.1" y="92.1" width="3.9" height="6.4" fill="none" stroke="#1B9E77" stroke-width="0.72"/><line x1="191.1" x2="195" y1="95.3" y2="95.3" stroke="#1B9E77" stroke-width="0.9"/><line x1="198.75" x2="198.75" y1="67.2" y2="100.6" stroke="#D95F02" stroke-width="0.65"/><line x1="198.75" x2="198.75" y1="140" y2="158.5" stroke="#D95F02" stroke-width="0.65"/><rect x="196.3" y="100.6" width="4.9" height="39.4" fill="none" stroke="#D95F02" stroke-width="0.72"/><line x1="196.3" x2="201.2" y1="120.8" y2="120.8" stroke="#D95F02" stroke-width="0.9"/><line x1="204.4" x2="204.4" y1="102.5" y2="102.5" stroke="#7570B3" stroke-width="0.65"/><line x1="204.4" x2="204.4" y1="112.8" y2="116.8" stroke="#7570B3" stroke-width="0.65"/><rect x="202.3" y="102.5" width="4.2" height="10.3" fill="none" stroke="#7570B3" stroke-width="0.72"/><line x1="202.3" x2="206.5" y1="112" y2="112" stroke="#7570B3" stroke-width="0.9"/><line x1="213.75" x2="213.75" y1="104" y2="120" stroke="#1B9E77" stroke-width="0.65"/><line x1="213.75" x2="213.75" y1="132" y2="142.5" stroke="#1B9E77" stroke-width="0.65"/><rect x="211.8" y="120" width="3.9" height="12" fill="none" stroke="#1B9E77" stroke-width="0.72"/><line x1="211.8" x2="215.7" y1="126" y2="126" stroke="#1B9E77" stroke-width="0.9"/><line x1="219" x2="219" y1="80.9" y2="105.7" stroke="#D95F02" stroke-width="0.65"/><line x1="219" x2="219" y1="132" y2="151.3" stroke="#D95F02" stroke-width="0.65"/><rect x="216.7" y="105.7" width="4.6" height="26.3" fill="none" stroke="#D95F02" stroke-width="0.72"/><line x1="216.7" x2="221.3" y1="117.6" y2="117.6" stroke="#D95F02" stroke-width="0.9"/><line x1="224.65" x2="224.65" y1="82.5" y2="106.4" stroke="#7570B3" stroke-width="0.65"/><line x1="224.65" x2="224.65" y1="126.4" y2="134.5" stroke="#7570B3" stroke-width="0.65"/><rect x="222.3" y="106.4" width="4.7" height="20" fill="none" stroke="#7570B3" stroke-width="0.72"/><line x1="222.3" x2="227" y1="116" y2="116" stroke="#7570B3" stroke-width="0.9"/><line x1="234.35" x2="234.35" y1="95.3" y2="112" stroke="#1B9E77" stroke-width="0.65"/><line x1="234.35" x2="234.35" y1="124.8" y2="135.3" stroke="#1B9E77" stroke-width="0.65"/><rect x="232" y="112" width="4.7" height="12.8" fill="none" stroke="#1B9E77" stroke-width="0.72"/><line x1="232" x2="236.7" y1="116" y2="116" stroke="#1B9E77" stroke-width="0.9"/><line x1="240" x2="240" y1="85.7" y2="114.4" stroke="#D95F02" stroke-width="0.65"/><line x1="240" x2="240" y1="137.7" y2="152.9" stroke="#D95F02" stroke-width="0.65"/><rect x="237.9" y="114.4" width="4.2" height="23.3" fill="none" stroke="#D95F02" stroke-width="0.72"/><line x1="237.9" x2="242.1" y1="125.6" y2="125.6" stroke="#D95F02" stroke-width="0.9"/><line x1="245.05" x2="245.05" y1="87.3" y2="98.5" stroke="#7570B3" stroke-width="0.65"/><line x1="245.05" x2="245.05" y1="119.2" y2="124" stroke="#7570B3" stroke-width="0.65"/><rect x="242.7" y="98.5" width="4.7" height="20.7" fill="none" stroke="#7570B3" stroke-width="0.72"/><line x1="242.7" x2="247.4" y1="115.2" y2="115.2" stroke="#7570B3" stroke-width="0.9"/><line x1="255.75" x2="255.75" y1="62.3" y2="98.8" stroke="#1B9E77" stroke-width="0.65"/><line x1="255.75" x2="255.75" y1="126.9" y2="139.7" stroke="#1B9E77" stroke-width="0.65"/><rect x="253.8" y="98.8" width="3.9" height="28.1" fill="none" stroke="#1B9E77" stroke-width="0.72"/><line x1="253.8" x2="257.7" y1="118.8" y2="118.8" stroke="#1B9E77" stroke-width="0.9"/><line x1="260.5" x2="260.5" y1="75.9" y2="114.8" stroke="#D95F02" stroke-width="0.65"/><line x1="260.5" x2="260.5" y1="141.3" y2="156.5" stroke="#D95F02" stroke-width="0.65"/><rect x="258.3" y="114.8" width="4.4" height="26.5" fill="none" stroke="#D95F02" stroke-width="0.72"/><line x1="258.3" x2="262.7" y1="129.3" y2="129.3" stroke="#D95F02" stroke-width="0.9"/><line x1="266" x2="266" y1="72.7" y2="96.4" stroke="#7570B3" stroke-width="0.65"/><line x1="266" x2="266" y1="123.7" y2="150.9" stroke="#7570B3" stroke-width="0.65"/><rect x="263.8" y="96.4" width="4.4" height="27.3" fill="none" stroke="#7570B3" stroke-width="0.72"/><line x1="263.8" x2="268.2" y1="114" y2="114" stroke="#7570B3" stroke-width="0.9"/><line x1="275" x2="275" y1="102.8" y2="112.4" stroke="#1B9E77" stroke-width="0.65"/><line x1="275" x2="275" y1="130" y2="139.7" stroke="#1B9E77" stroke-width="0.65"/><rect x="273.3" y="112.4" width="3.4" height="17.6" fill="none" stroke="#1B9E77" stroke-width="0.72"/><line x1="273.3" x2="276.7" y1="122" y2="122" stroke="#1B9E77" stroke-width="0.9"/><line x1="280.5" x2="280.5" y1="79.9" y2="114" stroke="#D95F02" stroke-width="0.65"/><line x1="280.5" x2="280.5" y1="135.7" y2="151.7" stroke="#D95F02" stroke-width="0.65"/><rect x="278.3" y="114" width="4.4" height="21.7" fill="none" stroke="#D95F02" stroke-width="0.72"/><line x1="278.3" x2="282.7" y1="122.9" y2="122.9" stroke="#D95F02" stroke-width="0.9"/><line x1="286" x2="286" y1="86.3" y2="109.2" stroke="#7570B3" stroke-width="0.65"/><line x1="286" x2="286" y1="121.3" y2="129.3" stroke="#7570B3" stroke-width="0.65"/><rect x="283.8" y="109.2" width="4.4" height="12.1" fill="none" stroke="#7570B3" stroke-width="0.72"/><line x1="283.8" x2="288.2" y1="110.8" y2="110.8" stroke="#7570B3" stroke-width="0.9"/><line x1="296" x2="296" y1="95.6" y2="108.4" stroke="#1B9E77" stroke-width="0.65"/><line x1="296" x2="296" y1="130.9" y2="137.3" stroke="#1B9E77" stroke-width="0.65"/><rect x="293.8" y="108.4" width="4.4" height="22.5" fill="none" stroke="#1B9E77" stroke-width="0.72"/><line x1="293.8" x2="298.2" y1="119.6" y2="119.6" stroke="#1B9E77" stroke-width="0.9"/><line x1="301" x2="301" y1="91.6" y2="116.4" stroke="#D95F02" stroke-width="0.65"/><line x1="301" x2="301" y1="142.9" y2="154.9" stroke="#D95F02" stroke-width="0.65"/><rect x="298.8" y="116.4" width="4.4" height="26.5" fill="none" stroke="#D95F02" stroke-width="0.72"/><line x1="298.8" x2="303.2" y1="133.3" y2="133.3" stroke="#D95F02" stroke-width="0.9"/><line x1="306.5" x2="306.5" y1="71" y2="102" stroke="#7570B3" stroke-width="0.65"/><line x1="306.5" x2="306.5" y1="122.9" y2="130" stroke="#7570B3" stroke-width="0.65"/><rect x="304.3" y="102" width="4.4" height="20.9" fill="none" stroke="#7570B3" stroke-width="0.72"/><line x1="304.3" x2="308.7" y1="114" y2="114" stroke="#7570B3" stroke-width="0.9"/><rect x="314.2" y="127" width="3.6" height="6" fill="none" stroke="#1B9E77" stroke-width="0.55"/><line x1="314.2" x2="317.8" y1="130" y2="130" stroke="#1B9E77" stroke-width="0.8"/><line x1="322" x2="322" y1="97.2" y2="124.5" stroke="#D95F02" stroke-width="0.65"/><line x1="322" x2="322" y1="138" y2="147.7" stroke="#D95F02" stroke-width="0.65"/><rect x="319.5" y="124.5" width="5" height="13.5" fill="none" stroke="#D95F02" stroke-width="0.72"/><line x1="319.5" x2="324.5" y1="134.9" y2="134.9" stroke="#D95F02" stroke-width="0.9"/><line x1="326.8" x2="326.8" y1="79.9" y2="87.1" stroke="#7570B3" stroke-width="0.65"/><line x1="326.8" x2="326.8" y1="123.7" y2="130.9" stroke="#7570B3" stroke-width="0.65"/><rect x="324.3" y="87.1" width="5" height="36.6" fill="none" stroke="#7570B3" stroke-width="0.72"/><line x1="324.3" x2="329.3" y1="119.6" y2="119.6" stroke="#7570B3" stroke-width="0.9"/><line x1="336.85" x2="336.85" y1="63.1" y2="71.1" stroke="#1B9E77" stroke-width="0.65"/><line x1="336.85" x2="336.85" y1="130.9" y2="139.7" stroke="#1B9E77" stroke-width="0.65"/><rect x="334.3" y="71.1" width="5.1" height="59.8" fill="none" stroke="#1B9E77" stroke-width="0.72"/><line x1="334.3" x2="339.4" y1="101.2" y2="101.2" stroke="#1B9E77" stroke-width="0.9"/><line x1="342.6" x2="342.6" y1="114" y2="116.4" stroke="#D95F02" stroke-width="0.65"/><line x1="342.6" x2="342.6" y1="130" y2="142.1" stroke="#D95F02" stroke-width="0.65"/><rect x="340.3" y="116.4" width="4.6" height="13.6" fill="none" stroke="#D95F02" stroke-width="0.72"/><line x1="340.3" x2="344.9" y1="121.3" y2="121.3" stroke="#D95F02" stroke-width="0.9"/><line x1="347.85" x2="347.85" y1="67.9" y2="81.5" stroke="#7570B3" stroke-width="0.65"/><line x1="347.85" x2="347.85" y1="101.2" y2="107.6" stroke="#7570B3" stroke-width="0.65"/><rect x="345.5" y="81.5" width="4.7" height="19.7" fill="none" stroke="#7570B3" stroke-width="0.72"/><line x1="345.5" x2="350.2" y1="94.8" y2="94.8" stroke="#7570B3" stroke-width="0.9"/><line x1="359.95" x2="359.95" y1="108.4" y2="114.8" stroke="#D95F02" stroke-width="0.65"/><line x1="359.95" x2="359.95" y1="138.9" y2="154.1" stroke="#D95F02" stroke-width="0.65"/><rect x="357.7" y="114.8" width="4.5" height="24.1" fill="none" stroke="#D95F02" stroke-width="0.72"/><line x1="357.7" x2="362.2" y1="134" y2="134" stroke="#D95F02" stroke-width="0.9"/><line x1="365.95" x2="365.95" y1="75.9" y2="99.6" stroke="#7570B3" stroke-width="0.65"/><line x1="365.95" x2="365.95" y1="129.3" y2="153.3" stroke="#7570B3" stroke-width="0.65"/><rect x="363.6" y="99.6" width="4.7" height="29.7" fill="none" stroke="#7570B3" stroke-width="0.72"/><line x1="363.6" x2="368.3" y1="100.4" y2="100.4" stroke="#7570B3" stroke-width="0.9"/><line x1="383.2" x2="383.2" y1="102.1" y2="110.1" stroke="#7570B3" stroke-width="0.65"/><line x1="383.2" x2="383.2" y1="125.6" y2="144" stroke="#7570B3" stroke-width="0.65"/><rect x="381.1" y="110.1" width="4.2" height="15.5" fill="none" stroke="#7570B3" stroke-width="0.72"/><line x1="381.1" x2="385.3" y1="114.4" y2="114.4" stroke="#7570B3" stroke-width="0.9"/><rect x="396.6" y="134" width="3.6" height="1" fill="none" stroke="#1B9E77" stroke-width="0.55"/><line x1="396.6" x2="400.2" y1="134.5" y2="134.5" stroke="#1B9E77" stroke-width="0.8"/><line x1="404.05" x2="404.05" y1="96.5" y2="125.6" stroke="#D95F02" stroke-width="0.65"/><line x1="404.05" x2="404.05" y1="146.5" y2="156.1" stroke="#D95F02" stroke-width="0.65"/><rect x="401.9" y="125.6" width="4.3" height="20.9" fill="none" stroke="#D95F02" stroke-width="0.72"/><line x1="401.9" x2="406.2" y1="139.3" y2="139.3" stroke="#D95F02" stroke-width="0.9"/><line x1="409.35" x2="409.35" y1="85.3" y2="99.4" stroke="#7570B3" stroke-width="0.65"/><line x1="409.35" x2="409.35" y1="113.6" y2="113.6" stroke="#7570B3" stroke-width="0.65"/><rect x="407.3" y="99.4" width="4.1" height="14.2" fill="none" stroke="#7570B3" stroke-width="0.72"/><line x1="407.3" x2="411.4" y1="112" y2="112" stroke="#7570B3" stroke-width="0.9"/><line x1="418.75" x2="418.75" y1="95.7" y2="111.2" stroke="#1B9E77" stroke-width="0.65"/><line x1="418.75" x2="418.75" y1="132.9" y2="137.7" stroke="#1B9E77" stroke-width="0.65"/><rect x="416.8" y="111.2" width="3.9" height="21.7" fill="none" stroke="#1B9E77" stroke-width="0.72"/><line x1="416.8" x2="420.7" y1="126.4" y2="126.4" stroke="#1B9E77" stroke-width="0.9"/><line x1="424.15" x2="424.15" y1="74" y2="112.8" stroke="#D95F02" stroke-width="0.65"/><line x1="424.15" x2="424.15" y1="143.3" y2="156.9" stroke="#D95F02" stroke-width="0.65"/><rect x="421.8" y="112.8" width="4.7" height="30.5" fill="none" stroke="#D95F02" stroke-width="0.72"/><line x1="421.8" x2="426.5" y1="126.4" y2="126.4" stroke="#D95F02" stroke-width="0.9"/><line x1="429.8" x2="429.8" y1="66" y2="96.5" stroke="#7570B3" stroke-width="0.65"/><line x1="429.8" x2="429.8" y1="124.8" y2="146.5" stroke="#7570B3" stroke-width="0.65"/><rect x="427.3" y="96.5" width="5" height="28.3" fill="none" stroke="#7570B3" stroke-width="0.72"/><line x1="427.3" x2="432.3" y1="116" y2="116" stroke="#7570B3" stroke-width="0.9"/><line x1="438.4" x2="438.4" y1="109.3" y2="119.2" stroke="#1B9E77" stroke-width="0.65"/><line x1="438.4" x2="438.4" y1="133.7" y2="139.3" stroke="#1B9E77" stroke-width="0.65"/><rect x="436.3" y="119.2" width="4.2" height="14.5" fill="none" stroke="#1B9E77" stroke-width="0.72"/><line x1="436.3" x2="440.5" y1="128" y2="128" stroke="#1B9E77" stroke-width="0.9"/><line x1="444.6" x2="444.6" y1="92.5" y2="118.4" stroke="#D95F02" stroke-width="0.65"/><line x1="444.6" x2="444.6" y1="145.7" y2="156.1" stroke="#D95F02" stroke-width="0.65"/><rect x="442.3" y="118.4" width="4.6" height="27.3" fill="none" stroke="#D95F02" stroke-width="0.72"/><line x1="442.3" x2="446.9" y1="132.9" y2="132.9" stroke="#D95F02" stroke-width="0.9"/><line x1="450.25" x2="450.25" y1="89.3" y2="110.9" stroke="#7570B3" stroke-width="0.65"/><line x1="450.25" x2="450.25" y1="128.8" y2="154.5" stroke="#7570B3" stroke-width="0.65"/><rect x="448" y="110.9" width="4.5" height="17.9" fill="none" stroke="#7570B3" stroke-width="0.72"/><line x1="448" x2="452.5" y1="119.2" y2="119.2" stroke="#7570B3" stroke-width="0.9"/><line x1="459.85" x2="459.85" y1="104.5" y2="110.4" stroke="#1B9E77" stroke-width="0.65"/><line x1="459.85" x2="459.85" y1="131.3" y2="136.9" stroke="#1B9E77" stroke-width="0.65"/><rect x="457.6" y="110.4" width="4.5" height="20.9" fill="none" stroke="#1B9E77" stroke-width="0.72"/><line x1="457.6" x2="462.1" y1="124.8" y2="124.8" stroke="#1B9E77" stroke-width="0.9"/><line x1="465.2" x2="465.2" y1="91.7" y2="117.6" stroke="#D95F02" stroke-width="0.65"/><line x1="465.2" x2="465.2" y1="138.5" y2="156.9" stroke="#D95F02" stroke-width="0.65"/><rect x="463.1" y="117.6" width="4.2" height="20.9" fill="none" stroke="#D95F02" stroke-width="0.72"/><line x1="463.1" x2="467.3" y1="129.6" y2="129.6" stroke="#D95F02" stroke-width="0.9"/><line x1="471.1" x2="471.1" y1="83.7" y2="104.8" stroke="#7570B3" stroke-width="0.65"/><line x1="471.1" x2="471.1" y1="121.6" y2="134.5" stroke="#7570B3" stroke-width="0.65"/><rect x="468.8" y="104.8" width="4.6" height="16.8" fill="none" stroke="#7570B3" stroke-width="0.72"/><line x1="468.8" x2="473.4" y1="113.6" y2="113.6" stroke="#7570B3" stroke-width="0.9"/><line x1="482.85" x2="482.85" y1="106.1" y2="114.4" stroke="#D95F02" stroke-width="0.65"/><line x1="482.85" x2="482.85" y1="131.3" y2="136.1" stroke="#D95F02" stroke-width="0.65"/><rect x="480.3" y="114.4" width="5.1" height="16.9" fill="none" stroke="#D95F02" stroke-width="0.72"/><line x1="480.3" x2="485.4" y1="116.8" y2="116.8" stroke="#D95F02" stroke-width="0.9"/><line x1="488.6" x2="488.6" y1="100.5" y2="100.5" stroke="#7570B3" stroke-width="0.65"/><line x1="488.6" x2="488.6" y1="108.8" y2="108.8" stroke="#7570B3" stroke-width="0.65"/><rect x="486.5" y="100.5" width="4.2" height="8.3" fill="none" stroke="#7570B3" stroke-width="0.72"/><line x1="486.5" x2="490.7" y1="104" y2="104" stroke="#7570B3" stroke-width="0.9"/><line x1="500.5" x2="500.5" y1="112.1" y2="120" stroke="#1B9E77" stroke-width="0.65"/><line x1="500.5" x2="500.5" y1="130.4" y2="133.7" stroke="#1B9E77" stroke-width="0.65"/><rect x="498.3" y="120" width="4.4" height="10.4" fill="none" stroke="#1B9E77" stroke-width="0.72"/><line x1="498.3" x2="502.7" y1="128" y2="128" stroke="#1B9E77" stroke-width="0.9"/><line x1="506" x2="506" y1="80" y2="99.3" stroke="#D95F02" stroke-width="0.65"/><line x1="506" x2="506" y1="148.9" y2="156.1" stroke="#D95F02" stroke-width="0.65"/><rect x="503.5" y="99.3" width="5" height="49.6" fill="none" stroke="#D95F02" stroke-width="0.72"/><line x1="503.5" x2="508.5" y1="134.5" y2="134.5" stroke="#D95F02" stroke-width="0.9"/><line x1="511.85" x2="511.85" y1="75.3" y2="107.3" stroke="#7570B3" stroke-width="0.65"/><line x1="511.85" x2="511.85" y1="130.4" y2="147.3" stroke="#7570B3" stroke-width="0.65"/><rect x="509.6" y="107.3" width="4.5" height="23.1" fill="none" stroke="#7570B3" stroke-width="0.72"/><line x1="509.6" x2="514.1" y1="115.2" y2="115.2" stroke="#7570B3" stroke-width="0.9"/><rect x="519" y="134" width="3.7" height="2.5" fill="none" stroke="#1B9E77" stroke-width="0.55"/><line x1="519" x2="522.7" y1="135.3" y2="135.3" stroke="#1B9E77" stroke-width="0.8"/><rect x="524.6" y="133" width="4.5" height="3" fill="none" stroke="#D95F02" stroke-width="0.55"/><line x1="524.6" x2="529.1" y1="134.5" y2="134.5" stroke="#D95F02" stroke-width="0.8"/><line x1="532.1" x2="532.1" y1="70.1" y2="94.5" stroke="#7570B3" stroke-width="0.65"/><line x1="532.1" x2="532.1" y1="120.8" y2="153.7" stroke="#7570B3" stroke-width="0.65"/><rect x="529.5" y="94.5" width="5.2" height="26.3" fill="none" stroke="#7570B3" stroke-width="0.72"/><line x1="529.5" x2="534.7" y1="101.6" y2="101.6" stroke="#7570B3" stroke-width="0.9"/><line x1="541.85" x2="541.85" y1="92.1" y2="107.3" stroke="#1B9E77" stroke-width="0.65"/><line x1="541.85" x2="541.85" y1="139.3" y2="140" stroke="#1B9E77" stroke-width="0.65"/><rect x="539.1" y="107.3" width="5.5" height="32" fill="none" stroke="#1B9E77" stroke-width="0.72"/><line x1="539.1" x2="544.6" y1="130.4" y2="130.4" stroke="#1B9E77" stroke-width="0.9"/><line x1="546.85" x2="546.85" y1="120" y2="131.3" stroke="#D95F02" stroke-width="0.65"/><line x1="546.85" x2="546.85" y1="145.7" y2="156.1" stroke="#D95F02" stroke-width="0.65"/><rect x="544.3" y="131.3" width="5.1" height="14.4" fill="none" stroke="#D95F02" stroke-width="0.72"/><line x1="544.3" x2="549.4" y1="139.3" y2="139.3" stroke="#D95F02" stroke-width="0.9"/><line x1="553" x2="553" y1="70.4" y2="104.9" stroke="#7570B3" stroke-width="0.65"/><line x1="553" x2="553" y1="128" y2="156.1" stroke="#7570B3" stroke-width="0.65"/><rect x="550.3" y="104.9" width="5.4" height="23.1" fill="none" stroke="#7570B3" stroke-width="0.72"/><line x1="550.3" x2="555.7" y1="111.2" y2="111.2" stroke="#7570B3" stroke-width="0.9"/><line x1="562.15" x2="562.15" y1="99.3" y2="112.8" stroke="#1B9E77" stroke-width="0.65"/><line x1="562.15" x2="562.15" y1="129.6" y2="138.5" stroke="#1B9E77" stroke-width="0.65"/><rect x="559.8" y="112.8" width="4.7" height="16.8" fill="none" stroke="#1B9E77" stroke-width="0.72"/><line x1="559.8" x2="564.5" y1="124" y2="124" stroke="#1B9E77" stroke-width="0.9"/><line x1="567.65" x2="567.65" y1="88.1" y2="117.6" stroke="#D95F02" stroke-width="0.65"/><line x1="567.65" x2="567.65" y1="142.5" y2="159.3" stroke="#D95F02" stroke-width="0.65"/><rect x="565.6" y="117.6" width="4.1" height="24.9" fill="none" stroke="#D95F02" stroke-width="0.72"/><line x1="565.6" x2="569.7" y1="132" y2="132" stroke="#D95F02" stroke-width="0.9"/><line x1="573.2" x2="573.2" y1="101.7" y2="116" stroke="#7570B3" stroke-width="0.65"/><line x1="573.2" x2="573.2" y1="133.7" y2="151.3" stroke="#7570B3" stroke-width="0.65"/><rect x="570.7" y="116" width="5" height="17.7" fill="none" stroke="#7570B3" stroke-width="0.72"/><line x1="570.7" x2="575.7" y1="125.6" y2="125.6" stroke="#7570B3" stroke-width="0.9"/><line x1="583.1" x2="583.1" y1="104.9" y2="107.3" stroke="#1B9E77" stroke-width="0.65"/><line x1="583.1" x2="583.1" y1="119.2" y2="128.8" stroke="#1B9E77" stroke-width="0.65"/><rect x="580.8" y="107.3" width="4.6" height="11.9" fill="none" stroke="#1B9E77" stroke-width="0.72"/><line x1="580.8" x2="585.4" y1="109.6" y2="109.6" stroke="#1B9E77" stroke-width="0.9"/><line x1="588.35" x2="588.35" y1="84.1" y2="116.8" stroke="#D95F02" stroke-width="0.65"/><line x1="588.35" x2="588.35" y1="142.5" y2="155.3" stroke="#D95F02" stroke-width="0.65"/><rect x="586.5" y="116.8" width="3.7" height="25.7" fill="none" stroke="#D95F02" stroke-width="0.72"/><line x1="586.5" x2="590.2" y1="128.8" y2="128.8" stroke="#D95F02" stroke-width="0.9"/><line x1="593.95" x2="593.95" y1="94.5" y2="108.9" stroke="#7570B3" stroke-width="0.65"/><line x1="593.95" x2="593.95" y1="128.8" y2="149.7" stroke="#7570B3" stroke-width="0.65"/><rect x="591.6" y="108.9" width="4.7" height="19.9" fill="none" stroke="#7570B3" stroke-width="0.72"/><line x1="591.6" x2="596.3" y1="118.4" y2="118.4" stroke="#7570B3" stroke-width="0.9"/><line x1="602.85" x2="602.85" y1="119.2" y2="128" stroke="#1B9E77" stroke-width="0.65"/><line x1="602.85" x2="602.85" y1="132.9" y2="137.7" stroke="#1B9E77" stroke-width="0.65"/><rect x="600.3" y="128" width="5.1" height="4.9" fill="none" stroke="#1B9E77" stroke-width="0.72"/><line x1="600.3" x2="605.4" y1="131.3" y2="131.3" stroke="#1B9E77" stroke-width="0.9"/><line x1="609.05" x2="609.05" y1="100.1" y2="128.8" stroke="#D95F02" stroke-width="0.65"/><line x1="609.05" x2="609.05" y1="147.3" y2="153.7" stroke="#D95F02" stroke-width="0.65"/><rect x="606.8" y="128.8" width="4.5" height="18.5" fill="none" stroke="#D95F02" stroke-width="0.72"/><line x1="606.8" x2="611.3" y1="140" y2="140" stroke="#D95F02" stroke-width="0.9"/><line x1="614.15" x2="614.15" y1="84.9" y2="90.5" stroke="#7570B3" stroke-width="0.65"/><line x1="614.15" x2="614.15" y1="124.8" y2="129.6" stroke="#7570B3" stroke-width="0.65"/><rect x="611.6" y="90.5" width="5.1" height="34.3" fill="none" stroke="#7570B3" stroke-width="0.72"/><line x1="611.6" x2="616.7" y1="115.2" y2="115.2" stroke="#7570B3" stroke-width="0.9"/><line x1="629.05" x2="629.05" y1="60.8" y2="72" stroke="#1B9E77" stroke-width="0.65"/><line x1="629.05" x2="629.05" y1="112" y2="120.8" stroke="#1B9E77" stroke-width="0.65"/><rect x="626.7" y="72" width="4.7" height="40" fill="none" stroke="#1B9E77" stroke-width="0.72"/><line x1="626.7" x2="631.4" y1="102.5" y2="102.5" stroke="#1B9E77" stroke-width="0.9"/>
<text x="66.6" y="18.2" text-anchor="middle" font-size="6.0" font-weight="bold" font-family="Liberation Sans, sans-serif">***</text>
<line x1="62.2" x2="71" y1="17.4" y2="17.4" stroke="#333" stroke-width="0.6"/>
<text x="84.2" y="10.9" text-anchor="middle" font-size="4.4" font-weight="bold" font-family="Liberation Sans, sans-serif">ns</text>
<text x="105" y="14.1" text-anchor="middle" font-size="6.0" font-weight="bold" font-family="Liberation Sans, sans-serif">**</text>
<line x1="97.4" x2="114.3" y1="13.3" y2="13.3" stroke="#333" stroke-width="0.6"/>
<text x="108.5" y="18.2" text-anchor="middle" font-size="6.0" font-weight="bold" font-family="Liberation Sans, sans-serif">****</text>
<line x1="103.1" x2="114.3" y1="17.4" y2="17.4" stroke="#333" stroke-width="0.6"/>
<text x="128.6" y="18.2" text-anchor="middle" font-size="6.0" font-weight="bold" font-family="Liberation Sans, sans-serif">****</text>
<line x1="123.1" x2="134.8" y1="17.4" y2="17.4" stroke="#333" stroke-width="0.6"/>
<text x="151" y="8" text-anchor="middle" font-size="6.0" font-weight="bold" font-family="Liberation Sans, sans-serif">**</text>
<line x1="144" x2="157.9" y1="7.2" y2="7.2" stroke="#333" stroke-width="0.6"/>
<text x="151.7" y="13.5" text-anchor="middle" font-size="6.0" font-weight="bold" font-family="Liberation Sans, sans-serif">*</text>
<line x1="149" x2="155.2" y1="12.7" y2="12.7" stroke="#333" stroke-width="0.6"/>
<text x="146.6" y="18.2" text-anchor="middle" font-size="6.0" font-weight="bold" font-family="Liberation Sans, sans-serif">*</text>
<line x1="144" x2="150" y1="17.4" y2="17.4" stroke="#333" stroke-width="0.6"/>
<text x="174" y="13.1" text-anchor="middle" font-size="6.0" font-weight="bold" font-family="Liberation Sans, sans-serif">****</text>
<line x1="168" x2="180.3" y1="12.3" y2="12.3" stroke="#333" stroke-width="0.6"/>
<text x="167.3" y="18.2" text-anchor="middle" font-size="6.0" font-weight="bold" font-family="Liberation Sans, sans-serif">***</text>
<line x1="163.4" x2="171.6" y1="17.4" y2="17.4" stroke="#333" stroke-width="0.6"/>
<text x="199" y="11.1" text-anchor="middle" font-size="4.4" font-weight="bold" font-family="Liberation Sans, sans-serif">ns</text>
<text x="218.9" y="11.1" text-anchor="middle" font-size="4.4" font-weight="bold" font-family="Liberation Sans, sans-serif">ns</text>
<text x="238.3" y="11.1" text-anchor="middle" font-size="4.4" font-weight="bold" font-family="Liberation Sans, sans-serif">ns</text>
<text x="259.3" y="12.9" text-anchor="middle" font-size="6.0" font-weight="bold" font-family="Liberation Sans, sans-serif">****</text>
<line x1="253.9" x2="264.4" y1="12.1" y2="12.1" stroke="#333" stroke-width="0.6"/>
<text x="264.9" y="18.3" text-anchor="middle" font-size="6.0" font-weight="bold" font-family="Liberation Sans, sans-serif">****</text>
<line x1="259.3" x2="271" y1="17.5" y2="17.5" stroke="#333" stroke-width="0.6"/>
<text x="283.6" y="11.1" text-anchor="middle" font-size="4.4" font-weight="bold" font-family="Liberation Sans, sans-serif">ns</text>
<text x="307.6" y="12.9" text-anchor="middle" font-size="6.0" font-weight="bold" font-family="Liberation Sans, sans-serif">****</text>
<line x1="302.5" x2="312.3" y1="12.1" y2="12.1" stroke="#333" stroke-width="0.6"/>
<text x="300" y="18.3" text-anchor="middle" font-size="6.0" font-weight="bold" font-family="Liberation Sans, sans-serif">**</text>
<line x1="294.3" x2="306" y1="17.5" y2="17.5" stroke="#333" stroke-width="0.6"/>
<text x="328" y="12.9" text-anchor="middle" font-size="6.0" font-weight="bold" font-family="Liberation Sans, sans-serif">****</text>
<line x1="322.8" x2="332.6" y1="12.1" y2="12.1" stroke="#333" stroke-width="0.6"/>
<text x="323.3" y="18.3" text-anchor="middle" font-size="6.0" font-weight="bold" font-family="Liberation Sans, sans-serif">***</text>
<line x1="314.6" x2="331.7" y1="17.5" y2="17.5" stroke="#333" stroke-width="0.6"/>
<text x="342.5" y="11.1" text-anchor="middle" font-size="4.4" font-weight="bold" font-family="Liberation Sans, sans-serif">ns</text>
<text x="361.5" y="11.1" text-anchor="middle" font-size="4.4" font-weight="bold" font-family="Liberation Sans, sans-serif">ns</text>
<text x="379.7" y="11.1" text-anchor="middle" font-size="4.4" font-weight="bold" font-family="Liberation Sans, sans-serif">ns</text>
<text x="408.9" y="14.1" text-anchor="middle" font-size="6.0" font-weight="bold" font-family="Liberation Sans, sans-serif">**</text>
<line x1="405.4" x2="412.9" y1="13.3" y2="13.3" stroke="#333" stroke-width="0.6"/>
<text x="402.6" y="19.5" text-anchor="middle" font-size="6.0" font-weight="bold" font-family="Liberation Sans, sans-serif">**</text>
<line x1="397.2" x2="408.9" y1="18.7" y2="18.7" stroke="#333" stroke-width="0.6"/>
<text x="426.9" y="14.1" text-anchor="middle" font-size="6.0" font-weight="bold" font-family="Liberation Sans, sans-serif">*</text>
<line x1="420.1" x2="434.6" y1="13.3" y2="13.3" stroke="#333" stroke-width="0.6"/>
<text x="430" y="19.5" text-anchor="middle" font-size="6.0" font-weight="bold" font-family="Liberation Sans, sans-serif">****</text>
<line x1="424.1" x2="435.3" y1="18.7" y2="18.7" stroke="#333" stroke-width="0.6"/>
<text x="447.9" y="14.1" text-anchor="middle" font-size="6.0" font-weight="bold" font-family="Liberation Sans, sans-serif">*</text>
<line x1="440.9" x2="455.6" y1="13.3" y2="13.3" stroke="#333" stroke-width="0.6"/>
<text x="450.3" y="19.5" text-anchor="middle" font-size="6.0" font-weight="bold" font-family="Liberation Sans, sans-serif">****</text>
<line x1="444.6" x2="456.1" y1="18.7" y2="18.7" stroke="#333" stroke-width="0.6"/>
<text x="469.6" y="15.4" text-anchor="middle" font-size="6.0" font-weight="bold" font-family="Liberation Sans, sans-serif">****</text>
<line x1="465" x2="474.6" y1="14.6" y2="14.6" stroke="#333" stroke-width="0.6"/>
<text x="487.6" y="11.6" text-anchor="middle" font-size="4.4" font-weight="bold" font-family="Liberation Sans, sans-serif">ns</text>
<text x="506.8" y="11.6" text-anchor="middle" font-size="4.4" font-weight="bold" font-family="Liberation Sans, sans-serif">ns</text>
<text x="527.4" y="14.1" text-anchor="middle" font-size="6.0" font-weight="bold" font-family="Liberation Sans, sans-serif">****</text>
<line x1="517.6" x2="535.5" y1="13.3" y2="13.3" stroke="#333" stroke-width="0.6"/>
<text x="530.2" y="19" text-anchor="middle" font-size="6.0" font-weight="bold" font-family="Liberation Sans, sans-serif">***</text>
<line x1="524.3" x2="535.5" y1="18.2" y2="18.2" stroke="#333" stroke-width="0.6"/>
<text x="548.4" y="14.6" text-anchor="middle" font-size="6.0" font-weight="bold" font-family="Liberation Sans, sans-serif">****</text>
<line x1="543.8" x2="553" y1="13.8" y2="13.8" stroke="#333" stroke-width="0.6"/>
<text x="543.3" y="19" text-anchor="middle" font-size="6.0" font-weight="bold" font-family="Liberation Sans, sans-serif">*</text>
<line x1="538.4" x2="549.6" y1="18.2" y2="18.2" stroke="#333" stroke-width="0.6"/>
<text x="565.9" y="12.3" text-anchor="middle" font-size="4.4" font-weight="bold" font-family="Liberation Sans, sans-serif">ns</text>
<text x="586.9" y="12.3" text-anchor="middle" font-size="4.4" font-weight="bold" font-family="Liberation Sans, sans-serif">ns</text>
<text x="614.3" y="14.6" text-anchor="middle" font-size="6.0" font-weight="bold" font-family="Liberation Sans, sans-serif">****</text>
<line x1="609.7" x2="618.9" y1="13.8" y2="13.8" stroke="#333" stroke-width="0.6"/>
<text x="605.2" y="19.5" text-anchor="middle" font-size="6.0" font-weight="bold" font-family="Liberation Sans, sans-serif">*</text>
<line x1="601" x2="612" y1="18.7" y2="18.7" stroke="#333" stroke-width="0.6"/>
<text transform="translate(64.6,188.05) rotate(-45)" text-anchor="end" dy="4.6" font-size="7.6" fill="#111" font-family="Liberation Sans, sans-serif">Ca. Hydrogenocavus (Ac)</text>
<text transform="translate(85.7,188.05) rotate(-45)" text-anchor="end" dy="4.6" font-size="7.6" fill="#111" font-family="Liberation Sans, sans-serif">Ca. Hydrogenolapis (Ac)</text>
<text transform="translate(106.8,188.05) rotate(-45)" text-anchor="end" dy="4.6" font-size="7.6" fill="#111" font-family="Liberation Sans, sans-serif">Ca. Hydrogenomurus (Ac)</text>
<text transform="translate(127.9,188.05) rotate(-45)" text-anchor="end" dy="4.6" font-size="7.6" fill="#111" font-family="Liberation Sans, sans-serif">Ca. Methylocavus (Ps)</text>
<text transform="translate(149,188.05) rotate(-45)" text-anchor="end" dy="4.6" font-size="7.6" fill="#111" font-family="Liberation Sans, sans-serif">Ca. Methyloligotropha (Ps)</text>
<text transform="translate(170.1,188.05) rotate(-45)" text-anchor="end" dy="4.6" font-size="7.6" fill="#111" font-family="Liberation Sans, sans-serif">Methylocella (Ps)</text>
<text transform="translate(199.7,188.05) rotate(-45)" text-anchor="end" dy="4.6" font-size="7.6" fill="#111" font-family="Liberation Sans, sans-serif">JAJPHD01 (Ac)</text>
<text transform="translate(220.18,188.05) rotate(-45)" text-anchor="end" dy="4.6" font-size="7.6" fill="#111" font-family="Liberation Sans, sans-serif">Mycobacteriaceae (Ac)</text>
<text transform="translate(240.66,188.05) rotate(-45)" text-anchor="end" dy="4.6" font-size="7.6" fill="#111" font-family="Liberation Sans, sans-serif">Nocardioidaceae (Ac)</text>
<text transform="translate(261.14,188.05) rotate(-45)" text-anchor="end" dy="4.6" font-size="7.6" fill="#111" font-family="Liberation Sans, sans-serif">Pseudonocardiaceae (Ac)</text>
<text transform="translate(281.62,188.05) rotate(-45)" text-anchor="end" dy="4.6" font-size="7.6" fill="#111" font-family="Liberation Sans, sans-serif">Streptosporangiaceae (Ac)</text>
<text transform="translate(302.1,188.05) rotate(-45)" text-anchor="end" dy="4.6" font-size="7.6" fill="#111" font-family="Liberation Sans, sans-serif">Solirubrobacteraceae (Ac)</text>
<text transform="translate(322.58,188.05) rotate(-45)" text-anchor="end" dy="4.6" font-size="7.6" fill="#111" font-family="Liberation Sans, sans-serif">Thermoleophilaceae (Ac)</text>
<text transform="translate(343.06,188.05) rotate(-45)" text-anchor="end" dy="4.6" font-size="7.6" fill="#111" font-family="Liberation Sans, sans-serif">UBA6260 (Do)</text>
<text transform="translate(363.54,188.05) rotate(-45)" text-anchor="end" dy="4.6" font-size="7.6" fill="#111" font-family="Liberation Sans, sans-serif">J113 (Ps)</text>
<text transform="translate(384.02,188.05) rotate(-45)" text-anchor="end" dy="4.6" font-size="7.6" fill="#111" font-family="Liberation Sans, sans-serif">UBA1147 (Ps)</text>
<text transform="translate(404.5,188.05) rotate(-45)" text-anchor="end" dy="4.6" font-size="7.6" fill="#111" font-family="Liberation Sans, sans-serif">Nitrosomonadaceae (Ps)</text>
<text transform="translate(424.98,188.05) rotate(-45)" text-anchor="end" dy="4.6" font-size="7.6" fill="#111" font-family="Liberation Sans, sans-serif">Nitrosopumilaceae (Th)</text>
<text transform="translate(445.46,188.05) rotate(-45)" text-anchor="end" dy="4.6" font-size="7.6" fill="#111" font-family="Liberation Sans, sans-serif">Nitrososphaeraceae (Th)</text>
<text transform="translate(465.94,188.05) rotate(-45)" text-anchor="end" dy="4.6" font-size="7.6" fill="#111" font-family="Liberation Sans, sans-serif">Nitrospiraceae (Ni)</text>
<text transform="translate(486.42,188.05) rotate(-45)" text-anchor="end" dy="4.6" font-size="7.6" fill="#111" font-family="Liberation Sans, sans-serif">Nitrosomiraceae (Th)</text>
<text transform="translate(506.9,188.05) rotate(-45)" text-anchor="end" dy="4.6" font-size="7.6" fill="#111" font-family="Liberation Sans, sans-serif">Burkholderiaceae_B (Ps)</text>
<text transform="translate(527.38,188.05) rotate(-45)" text-anchor="end" dy="4.6" font-size="7.6" fill="#111" font-family="Liberation Sans, sans-serif">JAHFRG01 (Ps)</text>
<text transform="translate(547.86,188.05) rotate(-45)" text-anchor="end" dy="4.6" font-size="7.6" fill="#111" font-family="Liberation Sans, sans-serif">Pseudomonadaceae (Ps)</text>
<text transform="translate(568.34,188.05) rotate(-45)" text-anchor="end" dy="4.6" font-size="7.6" fill="#111" font-family="Liberation Sans, sans-serif">SG8−39 (Ps)</text>
<text transform="translate(588.82,188.05) rotate(-45)" text-anchor="end" dy="4.6" font-size="7.6" fill="#111" font-family="Liberation Sans, sans-serif">SG8−41 (Ps)</text>
<text transform="translate(609.3,188.05) rotate(-45)" text-anchor="end" dy="4.6" font-size="7.6" fill="#111" font-family="Liberation Sans, sans-serif">Xanthobacteraceae (Ps)</text>
<text transform="translate(629.78,188.05) rotate(-45)" text-anchor="end" dy="4.6" font-size="7.6" fill="#111" font-family="Liberation Sans, sans-serif">Cyanobacteriota (Cy)</text>
<text x="344.5" y="265" text-anchor="middle" font-size="10.6" font-family="Liberation Sans, sans-serif">Taxonomy</text>
<text x="585.8" y="30.6" font-size="7.4" font-family="Liberation Sans, sans-serif">Site</text>
<rect x="587" y="34.5" width="3.6" height="4" fill="none" stroke="#1B9E77" stroke-width="0.55"/>
<line x1="587" x2="590.6" y1="36.5" y2="36.5" stroke="#1B9E77" stroke-width="0.55"/>
<line x1="588.8" x2="588.8" y1="33.5" y2="39.5" stroke="#1B9E77" stroke-width="0.5"/>
<text x="594.8" y="38.9" font-size="6.8" font-family="Liberation Sans, sans-serif">Entrance</text>
<rect x="587" y="40.95" width="3.6" height="4" fill="none" stroke="#D95F02" stroke-width="0.55"/>
<line x1="587" x2="590.6" y1="42.95" y2="42.95" stroke="#D95F02" stroke-width="0.55"/>
<line x1="588.8" x2="588.8" y1="39.95" y2="45.95" stroke="#D95F02" stroke-width="0.5"/>
<text x="594.8" y="45.35" font-size="6.8" font-family="Liberation Sans, sans-serif">Soil cave</text>
<rect x="587" y="47.4" width="3.6" height="4" fill="none" stroke="#7570B3" stroke-width="0.55"/>
<line x1="587" x2="590.6" y1="49.4" y2="49.4" stroke="#7570B3" stroke-width="0.55"/>
<line x1="588.8" x2="588.8" y1="46.4" y2="52.4" stroke="#7570B3" stroke-width="0.5"/>
<text x="594.8" y="51.8" font-size="6.8" font-family="Liberation Sans, sans-serif">Biofilm cave</text>
<defs><marker id="ahk" viewBox="0 0 10 10" refX="8" refY="5" markerWidth="3.8" markerHeight="3.8" orient="auto" markerUnits="userSpaceOnUse"><path d="M0,0.5L10,5L0,9.5z" fill="#000"/></marker><marker id="ask" viewBox="0 0 10 10" refX="2" refY="5" markerWidth="3.8" markerHeight="3.8" orient="auto-start-reverse" markerUnits="userSpaceOnUse"><path d="M0,0.5L10,5L0,9.5z" fill="#000"/></marker><marker id="ahb" viewBox="0 0 10 10" refX="8" refY="5" markerWidth="3.8" markerHeight="3.8" orient="auto" markerUnits="userSpaceOnUse"><path d="M0,0.5L10,5L0,9.5z" fill="#1f1fe0"/></marker><marker id="asb" viewBox="0 0 10 10" refX="2" refY="5" markerWidth="3.8" markerHeight="3.8" orient="auto-start-reverse" markerUnits="userSpaceOnUse"><path d="M0,0.5L10,5L0,9.5z" fill="#1f1fe0"/></marker><marker id="ahr" viewBox="0 0 10 10" refX="8" refY="5" markerWidth="3.8" markerHeight="3.8" orient="auto" markerUnits="userSpaceOnUse"><path d="M0,0.5L10,5L0,9.5z" fill="#e02020"/></marker><marker id="asr" viewBox="0 0 10 10" refX="2" refY="5" markerWidth="3.8" markerHeight="3.8" orient="auto-start-reverse" markerUnits="userSpaceOnUse"><path d="M0,0.5L10,5L0,9.5z" fill="#e02020"/></marker><marker id="ahy" viewBox="0 0 10 10" refX="8" refY="5" markerWidth="3.8" markerHeight="3.8" orient="auto" markerUnits="userSpaceOnUse"><path d="M0,0.5L10,5L0,9.5z" fill="#f2c200"/></marker><marker id="asy" viewBox="0 0 10 10" refX="2" refY="5" markerWidth="3.8" markerHeight="3.8" orient="auto-start-reverse" markerUnits="userSpaceOnUse"><path d="M0,0.5L10,5L0,9.5z" fill="#f2c200"/></marker><marker id="ahg" viewBox="0 0 10 10" refX="8" refY="5" markerWidth="3.8" markerHeight="3.8" orient="auto" markerUnits="userSpaceOnUse"><path d="M0,0.5L10,5L0,9.5z" fill="#3a9a2a"/></marker><marker id="asg" viewBox="0 0 10 10" refX="2" refY="5" markerWidth="3.8" markerHeight="3.8" orient="auto-start-reverse" markerUnits="userSpaceOnUse"><path d="M0,0.5L10,5L0,9.5z" fill="#3a9a2a"/></marker><marker id="aho" viewBox="0 0 10 10" refX="8" refY="5" markerWidth="3.8" markerHeight="3.8" orient="auto" markerUnits="userSpaceOnUse"><path d="M0,0.5L10,5L0,9.5z" fill="#ff6a10"/></marker><marker id="aso" viewBox="0 0 10 10" refX="2" refY="5" markerWidth="3.8" markerHeight="3.8" orient="auto-start-reverse" markerUnits="userSpaceOnUse"><path d="M0,0.5L10,5L0,9.5z" fill="#ff6a10"/></marker><marker id="ahgr" viewBox="0 0 10 10" refX="8" refY="5" markerWidth="3.8" markerHeight="3.8" orient="auto" markerUnits="userSpaceOnUse"><path d="M0,0.5L10,5L0,9.5z" fill="#777"/></marker><marker id="asgr" viewBox="0 0 10 10" refX="2" refY="5" markerWidth="3.8" markerHeight="3.8" orient="auto-start-reverse" markerUnits="userSpaceOnUse"><path d="M0,0.5L10,5L0,9.5z" fill="#777"/></marker></defs>
<rect x="52.8" y="290.1" width="274.7" height="179.3" rx="80" fill="#ADE3DF"/><rect x="55.7" y="293" width="268.9" height="173.5" rx="77.1" fill="#fff"/><rect x="60.1" y="297.4" width="260.1" height="164.7" rx="72.7" fill="#ADE3DF"/>
<text x="26.6" y="285.3" font-size="9.5" font-weight="bold">b</text>
<text x="15.6" y="327" font-size="6.6" fill="#c4c4c4">Periplasm</text>
<path d="M39.1,328.5L67.4,334.9" fill="none" stroke="#9a9a9a" stroke-width="0.35"/>
<text x="107.4" y="317.6" font-size="6.8" fill="#fff">Cytoplasm</text>
<g transform="translate(83.4,315.8) rotate(-42) scale(1)"><line x1="0" y1="-7.4" x2="0" y2="7.4" stroke="#7a2cf0" stroke-width="0.9"/><ellipse cx="-2.05" cy="0" rx="1.95" ry="5.2" fill="#7a2cf0"/><ellipse cx="2.05" cy="0" rx="1.95" ry="5.2" fill="#7a2cf0"/><line x1="0" y1="-4.2" x2="0" y2="4.2" stroke="#fff" stroke-width="0.35" opacity="0.8"/></g>
<g transform="translate(95.2,307) rotate(-31) scale(1)"><line x1="0" y1="-7.4" x2="0" y2="7.4" stroke="#000" stroke-width="0.9"/><ellipse cx="-2.05" cy="0" rx="1.95" ry="5.2" fill="#000"/><ellipse cx="2.05" cy="0" rx="1.95" ry="5.2" fill="#000"/><line x1="0" y1="-4.2" x2="0" y2="4.2" stroke="#fff" stroke-width="0.35" opacity="0.8"/></g>
<g transform="translate(108.3,300.9) rotate(-19) scale(1)"><line x1="0" y1="-7.4" x2="0" y2="7.4" stroke="#1a1ae8" stroke-width="0.9"/><ellipse cx="-2.05" cy="0" rx="1.95" ry="5.2" fill="#1a1ae8"/><ellipse cx="2.05" cy="0" rx="1.95" ry="5.2" fill="#1a1ae8"/><line x1="0" y1="-4.2" x2="0" y2="4.2" stroke="#fff" stroke-width="0.35" opacity="0.8"/></g>
<g transform="translate(122,296.2) rotate(-8) scale(1)"><line x1="0" y1="-7.4" x2="0" y2="7.4" stroke="#000" stroke-width="0.9"/><ellipse cx="-2.05" cy="0" rx="1.95" ry="5.2" fill="#000"/><ellipse cx="2.05" cy="0" rx="1.95" ry="5.2" fill="#000"/><line x1="0" y1="-4.2" x2="0" y2="4.2" stroke="#fff" stroke-width="0.35" opacity="0.8"/></g>
<text x="77.7" y="309.6" font-size="4.8" text-anchor="end" stroke="#000" stroke-width="0.08">oligopeptide</text>
<text x="90.8" y="300.8" font-size="4.8" text-anchor="end" stroke="#000" stroke-width="0.08">branched chain amino acids</text>
<text x="104.3" y="293.6" font-size="4.8" text-anchor="end" stroke="#000" stroke-width="0.08">L-amino acids</text>
<text x="103" y="286.8" font-size="4.8" stroke="#000" stroke-width="0.08">phospholipids</text>
<g transform="translate(194.2,295.6) rotate(0) scale(1)"><line x1="0" y1="-7.4" x2="0" y2="7.4" stroke="#1a1ae8" stroke-width="0.9"/><ellipse cx="-2.05" cy="0" rx="1.95" ry="5.2" fill="#1a1ae8"/><ellipse cx="2.05" cy="0" rx="1.95" ry="5.2" fill="#1a1ae8"/><line x1="0" y1="-4.2" x2="0" y2="4.2" stroke="#fff" stroke-width="0.35" opacity="0.8"/></g>
<text x="194.2" y="287" font-size="4.5" text-anchor="middle" stroke="#000" stroke-width="0.08">SO<tspan dy="0.99" font-size="3.15">4</tspan><tspan dy="-0.99"></tspan><tspan dy="-1.57" font-size="3.15">2-</tspan><tspan dy="1.57"></tspan></text>
<g transform="translate(206.8,295.6) rotate(0) scale(1)"><line x1="0" y1="-7.4" x2="0" y2="7.4" stroke="#000" stroke-width="0.9"/><ellipse cx="-2.05" cy="0" rx="1.95" ry="5.2" fill="#000"/><ellipse cx="2.05" cy="0" rx="1.95" ry="5.2" fill="#000"/><line x1="0" y1="-4.2" x2="0" y2="4.2" stroke="#fff" stroke-width="0.35" opacity="0.8"/></g>
<text x="206.8" y="287" font-size="4.5" text-anchor="middle" stroke="#000" stroke-width="0.08">MoO<tspan dy="0.99" font-size="3.15">4</tspan><tspan dy="-0.99"></tspan><tspan dy="-1.57" font-size="3.15">2-</tspan><tspan dy="1.57"></tspan></text>
<g transform="translate(219.4,295.6) rotate(0) scale(1)"><line x1="0" y1="-7.4" x2="0" y2="7.4" stroke="#000" stroke-width="0.9"/><ellipse cx="-2.05" cy="0" rx="1.95" ry="5.2" fill="#000"/><ellipse cx="2.05" cy="0" rx="1.95" ry="5.2" fill="#000"/><line x1="0" y1="-4.2" x2="0" y2="4.2" stroke="#fff" stroke-width="0.35" opacity="0.8"/></g>
<text x="219.4" y="287" font-size="4.5" text-anchor="middle" stroke="#000" stroke-width="0.08">Zn</text>
<g transform="translate(232.2,295.6) rotate(0) scale(1)"><line x1="0" y1="-7.4" x2="0" y2="7.4" stroke="#3ea012" stroke-width="0.9"/><ellipse cx="-2.05" cy="0" rx="1.95" ry="5.2" fill="#3ea012"/><ellipse cx="2.05" cy="0" rx="1.95" ry="5.2" fill="#3ea012"/><line x1="0" y1="-4.2" x2="0" y2="4.2" stroke="#fff" stroke-width="0.35" opacity="0.8"/></g>
<text x="232.2" y="287" font-size="4.5" text-anchor="middle" stroke="#000" stroke-width="0.08">PO<tspan dy="0.99" font-size="3.15">4</tspan><tspan dy="-0.99"></tspan><tspan dy="-1.57" font-size="3.15">3-</tspan><tspan dy="1.57"></tspan></text>
<g transform="translate(244.5,295.6) rotate(0) scale(1)"><line x1="0" y1="-7.4" x2="0" y2="7.4" stroke="#000" stroke-width="0.9"/><ellipse cx="-2.05" cy="0" rx="1.95" ry="5.2" fill="#000"/><ellipse cx="2.05" cy="0" rx="1.95" ry="5.2" fill="#000"/><line x1="0" y1="-4.2" x2="0" y2="4.2" stroke="#fff" stroke-width="0.35" opacity="0.8"/></g>
<text x="244.5" y="287" font-size="4.5" text-anchor="middle" stroke="#000" stroke-width="0.08">Co</text>
<g transform="translate(262.5,297.3) rotate(12) scale(1)"><line x1="0" y1="-7.4" x2="0" y2="7.4" stroke="#1a1ae8" stroke-width="0.9"/><ellipse cx="-2.05" cy="0" rx="1.95" ry="5.2" fill="#1a1ae8"/><ellipse cx="2.05" cy="0" rx="1.95" ry="5.2" fill="#1a1ae8"/><line x1="0" y1="-4.2" x2="0" y2="4.2" stroke="#fff" stroke-width="0.35" opacity="0.8"/></g>
<text x="262.8" y="288.3" font-size="4.8" stroke="#000" stroke-width="0.08">alkanesulfonate</text>
<g transform="translate(273.2,302.4) rotate(21) scale(1)"><line x1="0" y1="-7.4" x2="0" y2="7.4" stroke="#000" stroke-width="0.9"/><ellipse cx="-2.05" cy="0" rx="1.95" ry="5.2" fill="#000"/><ellipse cx="2.05" cy="0" rx="1.95" ry="5.2" fill="#000"/><line x1="0" y1="-4.2" x2="0" y2="4.2" stroke="#fff" stroke-width="0.35" opacity="0.8"/></g>
<text x="275.6" y="294.1" font-size="4.8" stroke="#000" stroke-width="0.08">trehalose/maltose</text>
<g transform="translate(283.6,307.2) rotate(30) scale(1)"><line x1="0" y1="-7.4" x2="0" y2="7.4" stroke="#ffc61a" stroke-width="0.9"/><ellipse cx="-2.05" cy="0" rx="1.95" ry="5.2" fill="#ffc61a"/><ellipse cx="2.05" cy="0" rx="1.95" ry="5.2" fill="#ffc61a"/><line x1="0" y1="-4.2" x2="0" y2="4.2" stroke="#fff" stroke-width="0.35" opacity="0.8"/></g>
<text x="286" y="300.5" font-size="4.8" stroke="#000" stroke-width="0.08">sorbitol/mannitol</text>
<g transform="translate(292.5,314.4) rotate(39) scale(1)"><line x1="0" y1="-7.4" x2="0" y2="7.4" stroke="#000" stroke-width="0.9"/><ellipse cx="-2.05" cy="0" rx="1.95" ry="5.2" fill="#000"/><ellipse cx="2.05" cy="0" rx="1.95" ry="5.2" fill="#000"/><line x1="0" y1="-4.2" x2="0" y2="4.2" stroke="#fff" stroke-width="0.35" opacity="0.8"/></g>
<text x="294.9" y="307.6" font-size="4.8" stroke="#000" stroke-width="0.08">osmoprotectant</text>
<g transform="translate(300.5,321.3) rotate(47) scale(1)"><line x1="0" y1="-7.4" x2="0" y2="7.4" stroke="#ff6a10" stroke-width="0.9"/><ellipse cx="-2.05" cy="0" rx="1.95" ry="5.2" fill="#ff6a10"/><ellipse cx="2.05" cy="0" rx="1.95" ry="5.2" fill="#ff6a10"/><line x1="0" y1="-4.2" x2="0" y2="4.2" stroke="#fff" stroke-width="0.35" opacity="0.8"/></g>
<text x="305.3" y="315.6" font-size="4.8" stroke="#000" stroke-width="0.08">glutamate</text>
<g transform="translate(306.9,329.7) rotate(56) scale(1)"><line x1="0" y1="-7.4" x2="0" y2="7.4" stroke="#000" stroke-width="0.9"/><ellipse cx="-2.05" cy="0" rx="1.95" ry="5.2" fill="#000"/><ellipse cx="2.05" cy="0" rx="1.95" ry="5.2" fill="#000"/><line x1="0" y1="-4.2" x2="0" y2="4.2" stroke="#fff" stroke-width="0.35" opacity="0.8"/></g>
<text x="313.3" y="324.5" font-size="4.8" stroke="#000" stroke-width="0.08">xylose</text>
<g transform="translate(311.7,338) rotate(64) scale(1)"><line x1="0" y1="-7.4" x2="0" y2="7.4" stroke="#3ea012" stroke-width="0.9"/><ellipse cx="-2.05" cy="0" rx="1.95" ry="5.2" fill="#3ea012"/><ellipse cx="2.05" cy="0" rx="1.95" ry="5.2" fill="#3ea012"/><line x1="0" y1="-4.2" x2="0" y2="4.2" stroke="#fff" stroke-width="0.35" opacity="0.8"/></g>
<text x="319.2" y="336.4" font-size="4.8" stroke="#000" stroke-width="0.08">urea</text>
<g transform="translate(315.7,347.3) rotate(72) scale(1)"><line x1="0" y1="-7.4" x2="0" y2="7.4" stroke="#ffc61a" stroke-width="0.9"/><ellipse cx="-2.05" cy="0" rx="1.95" ry="5.2" fill="#ffc61a"/><ellipse cx="2.05" cy="0" rx="1.95" ry="5.2" fill="#ffc61a"/><line x1="0" y1="-4.2" x2="0" y2="4.2" stroke="#fff" stroke-width="0.35" opacity="0.8"/></g>
<text x="325" y="346" font-size="4.8" stroke="#000" stroke-width="0.08">heme</text>
<text x="46.9" y="343.8" font-size="4.6" stroke="#000" stroke-width="0.08">CO<tspan dy="1.01" font-size="3.22">2</tspan><tspan dy="-1.01"></tspan></text>
<path d="M54,342.1L103,342.1" fill="none" stroke="#000" stroke-width="0.68" marker-end="url(#ahk)" stroke-dasharray="2.2,1.3"/>
<text x="104" y="343.8" font-size="4.6" stroke="#000" stroke-width="0.08">CO<tspan dy="1.01" font-size="3.22">2</tspan><tspan dy="-1.01"></tspan></text>
<circle cx="147" cy="343.4" r="20.4" fill="none" stroke="#4fae2f" stroke-width="0.75"/>
<path d="M111.5,339.5 C122,330 133,324 147,323" fill="none" stroke="#4fae2f" stroke-width="0.75"/>
<path d="M130.2,332.6 L133.2,328.6" fill="none" stroke="#4fae2f" stroke-width="0.7" marker-end="url(#ahg)"/>
<rect x="136.6" y="335.6" width="20.8" height="16.8" rx="1" fill="#fff" stroke="#8fce6a" stroke-width="1.4"/>
<text x="147" y="342.92" font-size="4.8" text-anchor="middle" stroke="#000" stroke-width="0.08">CBB</text><text x="147" y="348.44" font-size="4.8" text-anchor="middle" stroke="#000" stroke-width="0.08">cycle</text>
<text x="44.5" y="366.4" font-size="4.4" text-anchor="end" stroke="#000" stroke-width="0.08">NO<tspan dy="0.97" font-size="3.08">3</tspan><tspan dy="-0.97"></tspan><tspan dy="-1.54" font-size="3.08">-</tspan><tspan dy="1.54"></tspan></text>
<text x="44.5" y="371.4" font-size="4.4" text-anchor="end" stroke="#000" stroke-width="0.08">NO<tspan dy="0.97" font-size="3.08">2</tspan><tspan dy="-0.97"></tspan><tspan dy="-1.54" font-size="3.08">-</tspan><tspan dy="1.54"></tspan></text>
<path d="M45.5,367.5L51,367.5" fill="none" stroke="#000" stroke-width="0.68"/>
<ellipse cx="57.4" cy="367.4" rx="6.8" ry="6.2" fill="#000"/>
<text x="57.4" y="369.08" font-size="4.8" text-anchor="middle" fill="#fff" stroke="#fff" stroke-width="0.22">nrt</text>
<path d="M63.8,367.5L74.3,367.5" fill="none" stroke="#000" stroke-width="0.68" marker-end="url(#ahk)"/>
<text x="76" y="366.2" font-size="4.4" stroke="#000" stroke-width="0.08">NO<tspan dy="0.97" font-size="3.08">3</tspan><tspan dy="-0.97"></tspan><tspan dy="-1.54" font-size="3.08">-</tspan><tspan dy="1.54"></tspan></text>
<text x="76" y="371.2" font-size="4.4" stroke="#000" stroke-width="0.08">NO<tspan dy="0.97" font-size="3.08">2</tspan><tspan dy="-0.97"></tspan><tspan dy="-1.54" font-size="3.08">-</tspan><tspan dy="1.54"></tspan></text>
<ellipse cx="65.3" cy="384" rx="7.6" ry="3.7" fill="#ff7020"/>
<text x="65.3" y="385.26" font-size="3.6" text-anchor="middle" fill="#fff" stroke="#fff" stroke-width="0.22">NarGH</text>
<text x="78.6" y="380.6" font-size="4.4" stroke="#000" stroke-width="0.08">NO<tspan dy="0.97" font-size="3.08">3</tspan><tspan dy="-0.97"></tspan><tspan dy="-1.54" font-size="3.08">-</tspan><tspan dy="1.54"></tspan></text>
<text x="79.2" y="390.9" font-size="4.4" stroke="#000" stroke-width="0.08">NO<tspan dy="0.97" font-size="3.08">2</tspan><tspan dy="-0.97"></tspan><tspan dy="-1.54" font-size="3.08">-</tspan><tspan dy="1.54"></tspan></text>
<path d="M78,378.8 C75,379.5 72.5,382 73,384.5 C73.5,387.5 75.5,389 79,389.2" fill="none" stroke="#000" stroke-width="0.68" marker-end="url(#ahk)"/>
<ellipse cx="103.5" cy="377.3" rx="7.4" ry="4.1" fill="#4fa61a"/>
<text x="103.5" y="378.84" font-size="4.4" text-anchor="middle" fill="#fff" stroke="#fff" stroke-width="0.22">NirBD</text>
<ellipse cx="103.9" cy="401.2" rx="7.4" ry="4.1" fill="#1212ee"/>
<text x="103.9" y="402.74" font-size="4.4" text-anchor="middle" fill="#fff" stroke="#fff" stroke-width="0.22">NirA</text>
<path d="M88,386.5 C97,379 111,379 120.5,386.8" fill="none" stroke="#000" stroke-width="0.65" marker-end="url(#ahk)"/>
<path d="M88,390 C97,399.5 111,399.5 120.5,389.6" fill="none" stroke="#000" stroke-width="0.65" marker-end="url(#ahk)"/>
<text x="121.3" y="390.2" font-size="4.4" stroke="#000" stroke-width="0.08">NH<tspan dy="0.97" font-size="3.08">4</tspan><tspan dy="-0.97"></tspan><tspan dy="-1.54" font-size="3.08">+</tspan><tspan dy="1.54"></tspan></text>
<text x="50.5" y="430" font-size="4.4" stroke="#000" stroke-width="0.08">CO</text>
<path d="M56,428.6L84,423.6" fill="none" stroke="#000" stroke-width="0.5" marker-end="url(#ahk)"/>
<text x="84.6" y="425" font-size="4.4" stroke="#000" stroke-width="0.08">CO + H<tspan dy="0.97" font-size="3.08">2</tspan><tspan dy="-0.97"></tspan>O</text>
<path d="M94.5,426.5L94.5,432" fill="none" stroke="#000" stroke-width="0.55"/>
<path d="M93.4,430.6 Q101,430.6 101,437.8 Q101,445 93.4,445 Q85.8,445 85.8,437.8 Q85.8,430.6 93.4,430.6z" fill="#000"/>
<text x="93.4" y="439.17" font-size="3.9" text-anchor="middle" fill="#fff" stroke="#fff" stroke-width="0.22">CODH</text>
<path d="M98.5,433 C104,430 110,424 112,415.5" fill="none" stroke="#000" stroke-width="0.68" marker-end="url(#ahk)"/>
<text x="109" y="413.4" font-size="4.4" stroke="#000" stroke-width="0.08">CO<tspan dy="0.97" font-size="3.08">2</tspan><tspan dy="-0.97"></tspan></text>
<path d="M99,435 C102,433 104,432 107.5,429.5" fill="none" stroke="#000" stroke-width="0.55" marker-end="url(#ahk)"/>
<text x="108" y="431.4" font-size="4.4" stroke="#000" stroke-width="0.08">2H<tspan dy="-1.54" font-size="3.08">+</tspan><tspan dy="1.54"></tspan></text>
<rect x="128.4" y="442" width="10.5" height="19.3" rx="3.5" fill="#000"/>
<text transform="translate(133.65,451.6) rotate(-90)" text-anchor="middle" font-size="4.6" fill="#fff" stroke="#fff" stroke-width="0.12" dy="1.6" font-family="Liberation Serif, serif">NiFe 1h</text>
<text x="126.5" y="435.2" font-size="4.4" stroke="#000" stroke-width="0.08">H<tspan dy="0.97" font-size="3.08">2</tspan><tspan dy="-0.97"></tspan></text>
<text x="136.5" y="434.8" font-size="4.4" stroke="#000" stroke-width="0.08">2H<tspan dy="-1.54" font-size="3.08">+</tspan><tspan dy="1.54"></tspan></text>
<path d="M129.5,437 C130,442 136,442 138.5,437" fill="none" stroke="#000" stroke-width="0.55" marker-end="url(#ahk)"/>
<path d="M111,475.3L126.6,436.5" fill="none" stroke="#000" stroke-width="0.5" marker-end="url(#ahk)" stroke-dasharray="1.2,0.8"/>
<text x="107.6" y="478.2" font-size="4.4" stroke="#000" stroke-width="0.08">H<tspan dy="0.97" font-size="3.08">2</tspan><tspan dy="-0.97"></tspan></text>
<rect x="151.7" y="445.2" width="11.7" height="15.2" rx="5" fill="#000"/><text x="157.55" y="454.55" font-size="5" text-anchor="middle" fill="#fff" stroke="#fff" stroke-width="0.22" font-family="Liberation Serif, serif">I</text>
<rect x="167.5" y="445.2" width="11.7" height="15.2" rx="5" fill="#1212ee"/><text x="173.35" y="454.55" font-size="5" text-anchor="middle" fill="#fff" stroke="#fff" stroke-width="0.22" font-family="Liberation Serif, serif">II</text>
<rect x="183.2" y="445.2" width="11.8" height="15.2" rx="5" fill="#000"/><text x="189.1" y="451.75" font-size="5" text-anchor="middle" fill="#fff" stroke="#fff" stroke-width="0.22" font-family="Liberation Serif, serif">III</text><text x="189.1" y="457.35" font-size="5" text-anchor="middle" fill="#fff" stroke="#fff" stroke-width="0.22" font-family="Liberation Serif, serif">bc1</text>
<rect x="199.3" y="445.2" width="11.8" height="15.2" rx="5" fill="#ffc61a"/><text x="205.2" y="451.75" font-size="5" text-anchor="middle" font-style="italic" stroke="#000" stroke-width="0.08" font-family="Liberation Serif, serif">IV</text><text x="205.2" y="457.35" font-size="5" text-anchor="middle" font-style="italic" stroke="#000" stroke-width="0.08" font-family="Liberation Serif, serif">cyd</text>
<rect x="214.8" y="445.2" width="11.7" height="15.2" rx="5" fill="#000"/><text x="220.65" y="451.75" font-size="5" text-anchor="middle" fill="#fff" stroke="#fff" stroke-width="0.22" font-family="Liberation Serif, serif">IV</text><text x="220.65" y="457.35" font-size="5" text-anchor="middle" fill="#fff" stroke="#fff" stroke-width="0.22" font-family="Liberation Serif, serif">cox</text>
<path d="M157.5,460.4L157.5,466.5" fill="none" stroke="#000" stroke-width="0.68" marker-end="url(#ahk)"/>
<path d="M157.5,445.2L157.5,441.5" fill="none" stroke="#000" stroke-width="0.5"/>
<text x="157.5" y="440.3" font-size="4.4" text-anchor="middle" stroke="#000" stroke-width="0.08">H<tspan dy="-1.54" font-size="3.08">+</tspan><tspan dy="1.54"></tspan></text>
<path d="M189.1,460.4L189.1,466.5" fill="none" stroke="#000" stroke-width="0.68" marker-end="url(#ahk)"/>
<path d="M189.1,445.2L189.1,441.5" fill="none" stroke="#000" stroke-width="0.5"/>
<text x="189.1" y="440.3" font-size="4.4" text-anchor="middle" stroke="#000" stroke-width="0.08">H<tspan dy="-1.54" font-size="3.08">+</tspan><tspan dy="1.54"></tspan></text>
<path d="M220.6,460.4L220.6,466.5" fill="none" stroke="#000" stroke-width="0.68" marker-end="url(#ahk)"/>
<path d="M220.6,445.2L220.6,441.5" fill="none" stroke="#000" stroke-width="0.5"/>
<text x="220.6" y="440.3" font-size="4.4" text-anchor="middle" stroke="#000" stroke-width="0.08">H<tspan dy="-1.54" font-size="3.08">+</tspan><tspan dy="1.54"></tspan></text>
<text x="161.5" y="430.2" font-size="4.2" stroke="#000" stroke-width="0.08">succinate</text>
<text x="173.5" y="433.2" font-size="4.2" stroke="#000" stroke-width="0.08">fumarate</text>
<path d="M167.8,431.5 C167,440 172,446 174,446 C176,446 178,440 177.5,434.5" fill="none" stroke="#000" stroke-width="0.55" marker-end="url(#ahk)"/>
<text x="200" y="434.8" font-size="4.2" stroke="#000" stroke-width="0.08">O<tspan dy="0.92" font-size="2.94">2</tspan><tspan dy="-0.92"></tspan> + 4H<tspan dy="-1.47" font-size="2.94">+</tspan><tspan dy="1.47"></tspan></text>
<text x="226.5" y="434.6" font-size="4.2" stroke="#000" stroke-width="0.08">2H<tspan dy="0.92" font-size="2.94">2</tspan><tspan dy="-0.92"></tspan>O</text>
<path d="M205,436 C206,444 218,446 229.5,436.5" fill="none" stroke="#000" stroke-width="0.55" marker-end="url(#ahk)"/>
<path d="M209,436 C211,441 221,443 229,437" fill="none" stroke="#000" stroke-width="0.5"/>
<rect x="246.5" y="449.2" width="9.6" height="6.8" rx="2.5" fill="#000"/>
<rect x="247.8" y="455.2" width="7" height="6.6" rx="1.5" fill="#000"/>
<path d="M251.3,449.5L251.3,441.5" fill="none" stroke="#000" stroke-width="0.68" marker-end="url(#ahk)"/>
<path d="M251.3,461.8L251.3,465.5" fill="none" stroke="#000" stroke-width="0.5"/>
<text x="237.3" y="439.6" font-size="4.4" stroke="#000" stroke-width="0.08">ADP+P</text>
<text x="259.8" y="439.6" font-size="4.4" stroke="#000" stroke-width="0.08">ATP</text>
<path d="M242,441 C243,447 248,449 251,449" fill="none" stroke="#000" stroke-width="0.55"/>
<path d="M251.5,449 C256,449 261,446 263,441" fill="none" stroke="#000" stroke-width="0.55" marker-end="url(#ahk)"/>
<text x="257.4" y="452.6" font-size="4.6" stroke="#000" stroke-width="0.08">ATPase</text>
<text x="242.5" y="465.3" font-size="4.2" stroke="#000" stroke-width="0.08">H<tspan dy="-1.47" font-size="2.94">+</tspan><tspan dy="1.47"></tspan></text>
<path d="M182.3,289.3L182.3,307.3" fill="none" stroke="#000" stroke-width="0.68" marker-end="url(#ahk)"/>
<text x="174.4" y="313.8" font-size="4.8" stroke="#000" stroke-width="0.08">acetate</text>
<path d="M182.3,316.4L182.3,354" fill="none" stroke="#000" stroke-width="0.68" marker-end="url(#ahk)"/>
<text x="173.5" y="359.9" font-size="4.8" stroke="#000" stroke-width="0.08">acetyl-CoA</text>
<ellipse cx="222.6" cy="339.3" rx="21.9" ry="20.4" fill="none" stroke="#000" stroke-width="0.6"/>
<path d="M191,352.7 C190,333 199,320 216,319.2" fill="none" stroke="#000" stroke-width="0.68"/>
<path d="M215,357.5 L211.5,358" fill="none" stroke="#000" stroke-width="0.68" marker-end="url(#ahk)"/>
<rect x="212.6" y="333" width="19.1" height="12.1" rx="2" fill="#fff" stroke="#777" stroke-width="1.4"/>
<text x="222.15" y="338.07" font-size="4.6" text-anchor="middle" stroke="#000" stroke-width="0.08">TCA</text><text x="222.15" y="343.36" font-size="4.6" text-anchor="middle" stroke="#000" stroke-width="0.08">cycle</text>
<text x="198.9" y="355.6" font-size="4" stroke="#000" stroke-width="0.08">oxaloacetate</text>
<path d="M205.9,357.5L205.9,374" fill="none" stroke="#000" stroke-width="0.68" marker-end="url(#ahk)"/>
<text x="202" y="378.9" font-size="4.8" stroke="#000" stroke-width="0.08">PEP</text>
<rect x="260.7" y="328.7" width="22.3" height="17" rx="2.5" fill="#fff" stroke="#777" stroke-width="1.5"/>
<text x="271.85" y="333.27" font-size="4.5" text-anchor="middle" stroke="#000" stroke-width="0.08">glycine</text><text x="271.85" y="338.57" font-size="4.5" text-anchor="middle" stroke="#000" stroke-width="0.08">cleavage</text><text x="271.85" y="343.88" font-size="4.5" text-anchor="middle" stroke="#000" stroke-width="0.08">system</text>
<text x="227.1" y="367.8" font-size="4.8" stroke="#000" stroke-width="0.08">glucose</text>
<path d="M235.5,380 L235.5,370.6 L266.8,366.3" fill="none" stroke="#f5c400" stroke-width="0.7" marker-end="url(#ahy)"/>
<text x="268.8" y="367.8" font-size="4.8" stroke="#000" stroke-width="0.08">glucose-6P</text>
<rect x="267.1" y="371.4" width="27.7" height="18.4" rx="3" fill="#fff" stroke="#777" stroke-width="2.2"/>
<text x="280.95" y="377.21" font-size="4.6" text-anchor="middle" stroke="#000" stroke-width="0.08">pentose</text><text x="280.95" y="382.21" font-size="4.6" text-anchor="middle" stroke="#000" stroke-width="0.08">phosphate</text><text x="280.95" y="387.21" font-size="4.6" text-anchor="middle" stroke="#000" stroke-width="0.08">pathway</text>
<path d="M280.2,389.8L280.2,399.6" fill="none" stroke="#000" stroke-width="0.68" marker-end="url(#ahk)"/>
<text x="261.8" y="406.3" font-size="4.7" stroke="#000" stroke-width="0.08">glyceraldehyde 3P</text>
<text x="267" y="411.6" font-size="4.7" stroke="#000" stroke-width="0.08">+ Fructose 6p</text>
<path d="M261,405.5 L257.4,405.5 L257.4,387.5 L252,387.5" fill="none" stroke="#000" stroke-width="0.68" marker-end="url(#ahk)"/>
<rect x="219.4" y="380.1" width="31.9" height="29.8" rx="3" fill="#fff" stroke="#ffe070" stroke-width="1.4"/>
<text x="235.35" y="385.51" font-size="4.6" text-anchor="middle" stroke="#000" stroke-width="0.08">EMP</text><text x="235.35" y="390.91" font-size="4.6" text-anchor="middle" stroke="#000" stroke-width="0.08">pathway</text>
<rect x="221.5" y="393.6" width="27.2" height="13.4" rx="3" fill="#fff" stroke="#777" stroke-width="1.6"/>
<text x="235.1" y="399.41" font-size="4.6" text-anchor="middle" stroke="#000" stroke-width="0.08">core 3C</text><text x="235.1" y="404.41" font-size="4.6" text-anchor="middle" stroke="#000" stroke-width="0.08">glycolysis</text>
<path d="M235.4,410L235.4,416.8" fill="none" stroke="#000" stroke-width="0.68" marker-end="url(#ahk)"/>
<text x="225.9" y="422" font-size="4.8" stroke="#000" stroke-width="0.08">pyruvate</text>
<path d="M205.8,381 C206,400 214,413 224,418.4" fill="none" stroke="#000" stroke-width="0.68" marker-end="url(#ahk)"/>
<path d="M224,421 C200,419 183,410 180.7,363" fill="none" stroke="#1f1fe0" stroke-width="0.6" marker-end="url(#ahb)"/>
<g transform="translate(288,467.7) rotate(0) scale(1)"><line x1="0" y1="-7.4" x2="0" y2="7.4" stroke="#aaa" stroke-width="0.9"/><ellipse cx="-2.05" cy="0" rx="1.95" ry="5.2" fill="#aaa" stroke="#000" stroke-width="0.5"/><ellipse cx="2.05" cy="0" rx="1.95" ry="5.2" fill="#aaa" stroke="#000" stroke-width="0.5"/><line x1="0" y1="-4.2" x2="0" y2="4.2" stroke="#fff" stroke-width="0.35" opacity="0.8"/></g>
<text x="295.7" y="469.5" font-size="4.8" stroke="#000" stroke-width="0.08">ABC transporters</text>
<rect x="282" y="477.5" width="11.9" height="15.5" rx="5" fill="#aaa" stroke="#000" stroke-width="0.5"/>
<text x="295.7" y="484.6" font-size="4.9" stroke="#000" stroke-width="0.08">electron transport</text>
<text x="295.7" y="490" font-size="4.9" stroke="#000" stroke-width="0.08">chain complexes</text>
<circle cx="51.6" cy="458" r="7.5" fill="#ffcc00"/><circle cx="45.35" cy="467.2" r="7.5" fill="#dd0000"/><circle cx="57.85" cy="467.2" r="7.5" fill="#0000ff"/><clipPath id="cy516"><circle cx="51.6" cy="458" r="7.5"/></clipPath><clipPath id="cr516"><circle cx="45.35" cy="467.2" r="7.5"/></clipPath><g clip-path="url(#cy516)"><circle cx="45.35" cy="467.2" r="7.5" fill="#ff6a00"/><circle cx="57.85" cy="467.2" r="7.5" fill="#33aa00"/></g><g clip-path="url(#cr516)"><circle cx="57.85" cy="467.2" r="7.5" fill="#8833ee"/></g><g clip-path="url(#cy516)"><g clip-path="url(#cr516)"><circle cx="57.85" cy="467.2" r="7.5" fill="#000"/></g></g><circle cx="51.6" cy="458" r="7.5" fill="none" stroke="#000" stroke-width="0.45"/><circle cx="45.35" cy="467.2" r="7.5" fill="none" stroke="#000" stroke-width="0.45"/><circle cx="57.85" cy="467.2" r="7.5" fill="none" stroke="#000" stroke-width="0.45"/>
<text x="25.2" y="449.5" font-size="5.4" stroke="#000" stroke-width="0.08">Ca.  Hydrogenomurus</text>
<text x="0" y="480.1" font-size="5.5" stroke="#000" stroke-width="0.08">Ca. Hydrogenolapis</text>
<text x="53.4" y="480.1" font-size="5.5" stroke="#000" stroke-width="0.08">Ca. Hydrogenocavus</text>
<text x="51.7" y="487.7" font-size="4.75" text-anchor="middle" font-weight="bold" stroke="#000" stroke-width="0.22">Hydrogenotroph genomes</text>
<rect x="405" y="289.2" width="266.5" height="177.4" rx="80" fill="#ffd0ca"/><rect x="408" y="292.2" width="260.5" height="171.4" rx="77" fill="#fff"/><rect x="412.3" y="296.5" width="251.9" height="162.8" rx="72.7" fill="#ffbfb5"/><rect x="414.7" y="298.9" width="247.1" height="158" rx="70.3" fill="#FDD6D0"/>
<text x="358" y="281.2" font-size="9.5" font-weight="bold">c</text>
<text x="397.9" y="304.2" font-size="6.6" fill="#c4c4c4">Periplasm</text>
<path d="M426.5,305L437,313" fill="none" stroke="#9a9a9a" stroke-width="0.35"/>
<rect x="362.4" y="313.1" width="88.6" height="95.4" rx="6" fill="#fff" stroke="#f7cbc4" stroke-width="0.8"/>
<path d="M432,316.5 C419,331 409.5,352 408,372 C407,386 409.5,397 411.2,405" fill="none" stroke="#000" stroke-width="9.2"/><path d="M432,316.5 C419,331 409.5,352 408,372 C407,386 409.5,397 411.2,405" fill="none" stroke="#fff" stroke-width="6.6"/><path d="M432,316.5 C419,331 409.5,352 408,372 C407,386 409.5,397 411.2,405" fill="none" stroke="#000" stroke-width="6.6" stroke-dasharray="0.45,0.9"/>
<ellipse cx="421.6" cy="335.1" rx="7.2" ry="6.3" fill="#000"/>
<text x="421.6" y="336.57" font-size="4.2" text-anchor="middle" fill="#fff" stroke="#fff" stroke-width="0.22">pMMO</text>
<text x="403" y="321.3" font-size="4.6" stroke="#000" stroke-width="0.08">CH<tspan dy="1.01" font-size="3.22">4</tspan><tspan dy="-1.01"></tspan></text>
<path d="M408,322.5 C412,322 414.5,325 415.5,330" fill="none" stroke="#000" stroke-width="0.55"/>
<path d="M415,335.5 C408,336 399,335 392.5,332.8" fill="none" stroke="#000" stroke-width="0.68" marker-end="url(#ahk)"/>
<text x="377" y="334" font-size="4.4" stroke="#000" stroke-width="0.08">CH<tspan dy="0.97" font-size="3.08">3</tspan><tspan dy="-0.97"></tspan>OH</text>
<rect x="363.4" y="340.6" width="15.3" height="15.1" rx="3" fill="#1212ee"/>
<text x="371.05" y="347.22" font-size="4.5" text-anchor="middle" fill="#fff" stroke="#fff" stroke-width="0.22">MDH</text><text x="371.05" y="352.22" font-size="4.5" text-anchor="middle" fill="#fff" stroke="#fff" stroke-width="0.22">mxaFI</text>
<rect x="389.2" y="340.6" width="14.8" height="14.1" rx="3" fill="#000"/>
<text x="396.6" y="346.72" font-size="4.5" text-anchor="middle" fill="#fff" stroke="#fff" stroke-width="0.22">MDH</text><text x="396.6" y="351.72" font-size="4.5" text-anchor="middle" fill="#fff" stroke="#fff" stroke-width="0.22">xoxF</text>
<path d="M382,335 C377,343 377,355 382,362" fill="none" stroke="#1f1fe0" stroke-width="0.6" marker-end="url(#ahb)"/>
<path d="M384,335 C389,343 389,355 385,362" fill="none" stroke="#000" stroke-width="0.68" marker-end="url(#ahk)"/>
<text x="377.5" y="366.4" font-size="4.4" stroke="#000" stroke-width="0.08">CHOH</text>
<path d="M392,365L426,356.5" fill="none" stroke="#000" stroke-width="0.55" marker-end="url(#ahk)"/>
<text x="427" y="357.6" font-size="4.4" stroke="#000" stroke-width="0.08">CHOH</text>
<path d="M433,359.5L433,364.5" fill="none" stroke="#000" stroke-width="0.5"/>
<text x="433.5" y="368.87" font-size="4.2" text-anchor="middle" stroke="#000" stroke-width="0.08">H<tspan dy="0.92" font-size="2.94">4</tspan><tspan dy="-0.92"></tspan>MPT</text><text x="433.5" y="373.47" font-size="4.2" text-anchor="middle" stroke="#000" stroke-width="0.08">pathway</text>
<path d="M433,374.5L433,384" fill="none" stroke="#000" stroke-width="0.68" marker-end="url(#ahk)"/>
<text x="433" y="389" font-size="4.4" text-anchor="middle" stroke="#000" stroke-width="0.08">formate</text>
<path d="M433,390.5L433,400.5" fill="none" stroke="#000" stroke-width="0.68" marker-end="url(#ahk)"/>
<text x="433" y="405.8" font-size="4.4" text-anchor="middle" stroke="#000" stroke-width="0.08">CO<tspan dy="0.97" font-size="3.08">2</tspan><tspan dy="-0.97"></tspan></text>
<text x="420.1" y="349.4" font-size="6.6" fill="#c8c8c8">Cytoplasm</text>
<ellipse cx="408.3" cy="384.5" rx="7.4" ry="6.6" fill="#ff6a10"/>
<text x="408.3" y="385.97" font-size="4.2" text-anchor="middle" fill="#fff" stroke="#fff" stroke-width="0.22">pMMO</text>
<text x="386.2" y="379.4" font-size="4.6" text-anchor="middle" stroke="#000" stroke-width="0.08">?</text>
<text x="386.6" y="391.8" font-size="4.6" text-anchor="middle" stroke="#000" stroke-width="0.08">?</text>
<path d="M389.5,377.5 C396,377 400,380 400.2,383.5 C400,387 395,389.5 389.5,389.5" fill="none" stroke="#ff6a10" stroke-width="0.6" marker-end="url(#aho)"/>
<text x="370.4" y="404.2" font-size="6.6" fill="#c8c8c8">Periplasm</text>
<path d="M442.6,387.5L458.4,387.5" fill="none" stroke="#e02020" stroke-width="0.6" marker-end="url(#ahr)"/>
<text x="453.4" y="284.9" font-size="4.4" text-anchor="middle" stroke="#000" stroke-width="0.08">NO<tspan dy="0.97" font-size="3.08">3</tspan><tspan dy="-0.97"></tspan><tspan dy="-1.54" font-size="3.08">-</tspan><tspan dy="1.54"></tspan></text>
<text x="453.4" y="289.6" font-size="4.4" text-anchor="middle" stroke="#000" stroke-width="0.08">NO<tspan dy="0.97" font-size="3.08">2</tspan><tspan dy="-0.97"></tspan><tspan dy="-1.54" font-size="3.08">-</tspan><tspan dy="1.54"></tspan></text>
<ellipse cx="458.4" cy="298.8" rx="5.7" ry="6.1" fill="#000"/>
<text x="458.4" y="300.55" font-size="5" text-anchor="middle" fill="#fff" stroke="#fff" stroke-width="0.22">nrt</text>
<path d="M460.5,304.5L463.5,309.5" fill="none" stroke="#000" stroke-width="0.68" marker-end="url(#ahk)"/>
<text x="459.5" y="314.3" font-size="4.4" stroke="#000" stroke-width="0.08">NO<tspan dy="0.97" font-size="3.08">3</tspan><tspan dy="-0.97"></tspan><tspan dy="-1.54" font-size="3.08">-</tspan><tspan dy="1.54"></tspan></text>
<text x="459.5" y="319.7" font-size="4.4" stroke="#000" stroke-width="0.08">NO<tspan dy="0.97" font-size="3.08">2</tspan><tspan dy="-0.97"></tspan><tspan dy="-1.54" font-size="3.08">-</tspan><tspan dy="1.54"></tspan></text>
<ellipse cx="479.4" cy="311.4" rx="7.6" ry="3.7" fill="#44aa11"/>
<text x="479.4" y="312.87" font-size="4.2" text-anchor="middle" fill="#fff" stroke="#fff" stroke-width="0.22">NarGH</text>
<text x="493" y="308" font-size="4.4" stroke="#000" stroke-width="0.08">NO<tspan dy="0.97" font-size="3.08">2</tspan><tspan dy="-0.97"></tspan><tspan dy="-1.54" font-size="3.08">-</tspan><tspan dy="1.54"></tspan></text>
<text x="493" y="318.7" font-size="4.4" stroke="#000" stroke-width="0.08">NO<tspan dy="0.97" font-size="3.08">3</tspan><tspan dy="-0.97"></tspan><tspan dy="-1.54" font-size="3.08">-</tspan><tspan dy="1.54"></tspan></text>
<path d="M492.5,306.5 C488,307 486,310 487,313 C488,315.5 490,316.5 493,317" fill="none" stroke="#000" stroke-width="0.55" marker-end="url(#ahk)"/>
<ellipse cx="513.2" cy="307" rx="7.6" ry="4" fill="#44aa11"/>
<text x="513.2" y="308.68" font-size="4.8" text-anchor="middle" fill="#fff" stroke="#fff" stroke-width="0.22">NirBD</text>
<ellipse cx="513.6" cy="328.2" rx="7.6" ry="4.1" fill="#ffcc00"/>
<text x="513.6" y="329.88" font-size="4.8" text-anchor="middle" stroke="#000" stroke-width="0.08">NirA</text>
<ellipse cx="489.9" cy="327.3" rx="7.6" ry="4.1" fill="#ff6a10"/>
<text x="489.9" y="328.98" font-size="4.8" text-anchor="middle" stroke="#000" stroke-width="0.08">NirK</text>
<path d="M502,315 C510,309 520,309 529.5,315" fill="none" stroke="#000" stroke-width="0.68" marker-end="url(#ahk)"/>
<path d="M502,318.5 C510,324 520,324 529.5,318" fill="none" stroke="#000" stroke-width="0.68" marker-end="url(#ahk)"/>
<text x="530" y="318.2" font-size="4.4" stroke="#000" stroke-width="0.08">NH<tspan dy="0.97" font-size="3.08">4</tspan><tspan dy="-0.97"></tspan><tspan dy="-1.54" font-size="3.08">+</tspan><tspan dy="1.54"></tspan></text>
<path d="M496.9,320L496.9,337.5" fill="none" stroke="#000" stroke-width="0.68" marker-end="url(#ahk)"/>
<text x="496.9" y="342.4" font-size="4.4" text-anchor="middle" stroke="#000" stroke-width="0.08">NO</text>
<g transform="translate(538.9,295.2) rotate(0) scale(1)"><line x1="0" y1="-7.4" x2="0" y2="7.4" stroke="#44aa11" stroke-width="0.9"/><ellipse cx="-2.05" cy="0" rx="1.95" ry="5.2" fill="#44aa11"/><ellipse cx="2.05" cy="0" rx="1.95" ry="5.2" fill="#44aa11"/><line x1="0" y1="-4.2" x2="0" y2="4.2" stroke="#fff" stroke-width="0.35" opacity="0.8"/></g>
<text x="538.9" y="285.8" font-size="4.5" text-anchor="middle" stroke="#000" stroke-width="0.08">WO<tspan dy="0.99" font-size="3.15">4</tspan><tspan dy="-0.99"></tspan><tspan dy="-1.57" font-size="3.15">2-</tspan><tspan dy="1.57"></tspan></text>
<g transform="translate(552.4,295.2) rotate(0) scale(1)"><line x1="0" y1="-7.4" x2="0" y2="7.4" stroke="#000" stroke-width="0.9"/><ellipse cx="-2.05" cy="0" rx="1.95" ry="5.2" fill="#000"/><ellipse cx="2.05" cy="0" rx="1.95" ry="5.2" fill="#000"/><line x1="0" y1="-4.2" x2="0" y2="4.2" stroke="#fff" stroke-width="0.35" opacity="0.8"/></g>
<text x="552.4" y="285.8" font-size="4.5" text-anchor="middle" stroke="#000" stroke-width="0.08">MoO<tspan dy="0.99" font-size="3.15">4</tspan><tspan dy="-0.99"></tspan><tspan dy="-1.57" font-size="3.15">2-</tspan><tspan dy="1.57"></tspan></text>
<g transform="translate(566.4,295.2) rotate(0) scale(1)"><line x1="0" y1="-7.4" x2="0" y2="7.4" stroke="#44aa11" stroke-width="0.9"/><ellipse cx="-2.05" cy="0" rx="1.95" ry="5.2" fill="#44aa11"/><ellipse cx="2.05" cy="0" rx="1.95" ry="5.2" fill="#44aa11"/><line x1="0" y1="-4.2" x2="0" y2="4.2" stroke="#fff" stroke-width="0.35" opacity="0.8"/></g>
<text x="566.4" y="285.8" font-size="4.5" text-anchor="middle" stroke="#000" stroke-width="0.08">Fe<tspan dy="-1.57" font-size="3.15">3+</tspan><tspan dy="1.57"></tspan></text>
<g transform="translate(577.8,295.2) rotate(0) scale(1)"><line x1="0" y1="-7.4" x2="0" y2="7.4" stroke="#000" stroke-width="0.9"/><ellipse cx="-2.05" cy="0" rx="1.95" ry="5.2" fill="#000"/><ellipse cx="2.05" cy="0" rx="1.95" ry="5.2" fill="#000"/><line x1="0" y1="-4.2" x2="0" y2="4.2" stroke="#fff" stroke-width="0.35" opacity="0.8"/></g>
<text x="577.8" y="285.8" font-size="4.5" text-anchor="middle" stroke="#000" stroke-width="0.08">PO<tspan dy="0.99" font-size="3.15">4</tspan><tspan dy="-0.99"></tspan><tspan dy="-1.57" font-size="3.15">3-</tspan><tspan dy="1.57"></tspan></text>
<g transform="translate(589.7,295.2) rotate(0) scale(1)"><line x1="0" y1="-7.4" x2="0" y2="7.4" stroke="#ffcc00" stroke-width="0.9"/><ellipse cx="-2.05" cy="0" rx="1.95" ry="5.2" fill="#ffcc00"/><ellipse cx="2.05" cy="0" rx="1.95" ry="5.2" fill="#ffcc00"/><line x1="0" y1="-4.2" x2="0" y2="4.2" stroke="#fff" stroke-width="0.35" opacity="0.8"/></g>
<text x="589.7" y="285.8" font-size="4.5" text-anchor="middle" stroke="#000" stroke-width="0.08">Zn</text>
<g transform="translate(607,296) rotate(13) scale(1)"><line x1="0" y1="-7.4" x2="0" y2="7.4" stroke="#000" stroke-width="0.9"/><ellipse cx="-2.05" cy="0" rx="1.95" ry="5.2" fill="#000"/><ellipse cx="2.05" cy="0" rx="1.95" ry="5.2" fill="#000"/><line x1="0" y1="-4.2" x2="0" y2="4.2" stroke="#fff" stroke-width="0.35" opacity="0.8"/></g>
<text x="602" y="286.4" font-size="4.8" stroke="#000" stroke-width="0.08">phospholipids</text>
<g transform="translate(625.1,303.3) rotate(27) scale(1)"><line x1="0" y1="-7.4" x2="0" y2="7.4" stroke="#44aa11" stroke-width="0.9"/><ellipse cx="-2.05" cy="0" rx="1.95" ry="5.2" fill="#44aa11"/><ellipse cx="2.05" cy="0" rx="1.95" ry="5.2" fill="#44aa11"/><line x1="0" y1="-4.2" x2="0" y2="4.2" stroke="#fff" stroke-width="0.35" opacity="0.8"/></g>
<text x="625.9" y="295.6" font-size="4.8" stroke="#000" stroke-width="0.08">branched chain amino acids</text>
<g transform="translate(637.4,309.3) rotate(37) scale(1)"><line x1="0" y1="-7.4" x2="0" y2="7.4" stroke="#000" stroke-width="0.9"/><ellipse cx="-2.05" cy="0" rx="1.95" ry="5.2" fill="#000"/><ellipse cx="2.05" cy="0" rx="1.95" ry="5.2" fill="#000"/><line x1="0" y1="-4.2" x2="0" y2="4.2" stroke="#fff" stroke-width="0.35" opacity="0.8"/></g>
<text x="642.7" y="303.7" font-size="4.8" stroke="#000" stroke-width="0.08">osmoprotectant</text>
<g transform="translate(647,318) rotate(47) scale(1)"><line x1="0" y1="-7.4" x2="0" y2="7.4" stroke="#dd1111" stroke-width="0.9"/><ellipse cx="-2.05" cy="0" rx="1.95" ry="5.2" fill="#dd1111"/><ellipse cx="2.05" cy="0" rx="1.95" ry="5.2" fill="#dd1111"/><line x1="0" y1="-4.2" x2="0" y2="4.2" stroke="#fff" stroke-width="0.35" opacity="0.8"/></g>
<text x="652.3" y="313.3" font-size="4.8" stroke="#000" stroke-width="0.08">oligopeptide</text>
<g transform="translate(654.2,326.4) rotate(56) scale(1)"><line x1="0" y1="-7.4" x2="0" y2="7.4" stroke="#dd1111" stroke-width="0.9"/><ellipse cx="-2.05" cy="0" rx="1.95" ry="5.2" fill="#dd1111"/><ellipse cx="2.05" cy="0" rx="1.95" ry="5.2" fill="#dd1111"/><line x1="0" y1="-4.2" x2="0" y2="4.2" stroke="#fff" stroke-width="0.35" opacity="0.8"/></g>
<text x="660" y="322.9" font-size="4.8" stroke="#000" stroke-width="0.08">microcin C</text>
<g transform="translate(660,337) rotate(65) scale(1)"><line x1="0" y1="-7.4" x2="0" y2="7.4" stroke="#44aa11" stroke-width="0.9"/><ellipse cx="-2.05" cy="0" rx="1.95" ry="5.2" fill="#44aa11"/><ellipse cx="2.05" cy="0" rx="1.95" ry="5.2" fill="#44aa11"/><line x1="0" y1="-4.2" x2="0" y2="4.2" stroke="#fff" stroke-width="0.35" opacity="0.8"/></g>
<text x="667.2" y="335" font-size="4.8" stroke="#000" stroke-width="0.08">urea</text>
<text x="583" y="315.6" font-size="6.6" fill="#c9b6b2">Cytoplasm</text>
<path d="M523.5,352.5 C522,334 536,321 562.5,320.6" fill="none" stroke="#000" stroke-width="0.68" marker-end="url(#ahk)"/>
<path d="M567,320.6 C581,322 584,344 575,354.5 C571,358 567,358.8 563.5,358.8" fill="none" stroke="#000" stroke-width="0.68" marker-end="url(#ahk)"/>
<path d="M538.4,346 C537,331 545,322 557,320.8" fill="none" stroke="#000" stroke-width="0.68"/>
<rect x="549.4" y="306.8" width="18.3" height="12.2" rx="2" fill="#fff" stroke="#777" stroke-width="1.5"/>
<text x="558.55" y="311.87" font-size="4.6" text-anchor="middle" stroke="#000" stroke-width="0.08">TCA</text><text x="558.55" y="317.16" font-size="4.6" text-anchor="middle" stroke="#000" stroke-width="0.08">cycle</text>
<text x="571" y="324.2" font-size="4" stroke="#000" stroke-width="0.08">isocitrate</text>
<path d="M567.5,325L564,333" fill="none" stroke="#000" stroke-width="0.5"/>
<rect x="551.5" y="334" width="21.9" height="10.5" rx="2" fill="#fff" stroke="#777" stroke-width="1.4"/>
<text x="562.45" y="338.49" font-size="4.4" text-anchor="middle" stroke="#000" stroke-width="0.08">glyoxylate</text><text x="562.45" y="343.09" font-size="4.4" text-anchor="middle" stroke="#000" stroke-width="0.08">shunt</text>
<path d="M561.5,344.5L559.8,356.5" fill="none" stroke="#000" stroke-width="0.45" marker-end="url(#ahy)"/>
<text x="555" y="360.5" font-size="4" stroke="#000" stroke-width="0.08">malate</text>
<path d="M555,359 C548,358 544,355 543,351" fill="none" stroke="#000" stroke-width="0.55" marker-end="url(#ahk)"/>
<text x="531" y="350" font-size="4" stroke="#000" stroke-width="0.08">oxaloacetate</text>
<rect x="602.7" y="326" width="22.1" height="16.7" rx="2.5" fill="#fff" stroke="#777" stroke-width="1.5"/>
<text x="613.75" y="330.96" font-size="4.6" text-anchor="middle" stroke="#000" stroke-width="0.08">glycine</text><text x="613.75" y="335.96" font-size="4.6" text-anchor="middle" stroke="#000" stroke-width="0.08">cleavage</text><text x="613.75" y="340.96" font-size="4.6" text-anchor="middle" stroke="#000" stroke-width="0.08">system</text>
<text x="512.2" y="358.2" font-size="4.8" stroke="#000" stroke-width="0.08">acetyl-CoA</text>
<path d="M567,420.5 C532,414 523,396 523.5,362" fill="none" stroke="#000" stroke-width="0.68" marker-end="url(#ahk)"/>
<path d="M541,352L543.2,375" fill="none" stroke="#000" stroke-width="0.68" marker-end="url(#ahk)"/>
<text x="543.7" y="381" font-size="4.6" text-anchor="middle" stroke="#000" stroke-width="0.08">PEP</text>
<path d="M544,383 C546,400 553,414 567,419.5" fill="none" stroke="#000" stroke-width="0.68" marker-end="url(#ahk)"/>
<text x="572.9" y="362.4" font-size="4.8" stroke="#000" stroke-width="0.08">glucose</text>
<path d="M580.4,366.5 L580.4,364.5 L621.6,361" fill="none" stroke="#000" stroke-width="0.68" marker-end="url(#ahk)"/>
<path d="M580.4,364.5L580.4,376.4" fill="none" stroke="#e03030" stroke-width="0.8"/>
<text x="623" y="361.5" font-size="4.8" stroke="#000" stroke-width="0.08">glucose-6P</text>
<rect x="565.2" y="376.4" width="31.5" height="35.1" rx="3" fill="#fff" stroke="#e05a5a" stroke-width="1.3"/>
<text x="580.95" y="383.76" font-size="4.6" text-anchor="middle" stroke="#000" stroke-width="0.08">EMP</text><text x="580.95" y="389.46" font-size="4.6" text-anchor="middle" stroke="#000" stroke-width="0.08">pathway</text>
<rect x="567" y="392.2" width="26.6" height="14.7" rx="3" fill="#fff" stroke="#777" stroke-width="1.8"/>
<text x="580.3" y="398.66" font-size="4.6" text-anchor="middle" stroke="#000" stroke-width="0.08">core 3C</text><text x="580.3" y="403.66" font-size="4.6" text-anchor="middle" stroke="#000" stroke-width="0.08">glycolysis</text>
<path d="M580.4,411.5L580.4,417.3" fill="none" stroke="#000" stroke-width="0.68" marker-end="url(#ahk)"/>
<text x="569.8" y="422.2" font-size="4.8" stroke="#000" stroke-width="0.08">pyruvate</text>
<path d="M630,363 L615,374" fill="none" stroke="#000" stroke-width="0.68"/>
<path d="M633,363 L644,374" fill="none" stroke="#e03030" stroke-width="0.6"/>
<rect x="602.3" y="374.2" width="27.7" height="18.4" rx="3" fill="#fff" stroke="#777" stroke-width="2.2"/>
<text x="616.15" y="380.01" font-size="4.6" text-anchor="middle" stroke="#000" stroke-width="0.08">pentose</text><text x="616.15" y="385.01" font-size="4.6" text-anchor="middle" stroke="#000" stroke-width="0.08">phosphate</text><text x="616.15" y="390.01" font-size="4.6" text-anchor="middle" stroke="#000" stroke-width="0.08">pathway</text>
<rect x="634.3" y="374.2" width="24.7" height="17.6" rx="3" fill="#fff" stroke="#e05a5a" stroke-width="1.3"/>
<text x="646.65" y="379.61" font-size="4.6" text-anchor="middle" stroke="#000" stroke-width="0.08">Entner-</text><text x="646.65" y="384.61" font-size="4.6" text-anchor="middle" stroke="#000" stroke-width="0.08">Doudoroff</text><text x="646.65" y="389.61" font-size="4.6" text-anchor="middle" stroke="#000" stroke-width="0.08">pathway</text>
<path d="M616,392.6L616,398.6" fill="none" stroke="#000" stroke-width="0.68" marker-end="url(#ahk)"/>
<text x="605.6" y="402.6" font-size="4.7" stroke="#000" stroke-width="0.08">glyceraldehyde-3P</text>
<path d="M605,401.5L594.2,401.5" fill="none" stroke="#000" stroke-width="0.68" marker-end="url(#ahk)"/>
<path d="M650,391.8 L650,396 C650,400 648,401 645,401" fill="none" stroke="#e03030" stroke-width="0.6" marker-end="url(#ahr)"/>
<path d="M656,391.8 C656,410 640,418 592,420.6" fill="none" stroke="#e03030" stroke-width="0.6" marker-end="url(#ahr)"/>
<rect x="459.6" y="384.7" width="21.9" height="12.7" rx="2" fill="#fff" stroke="#e05a5a" stroke-width="1.3"/>
<text x="470.55" y="390.19" font-size="4.4" text-anchor="middle" stroke="#000" stroke-width="0.08">H<tspan dy="0.97" font-size="3.08">4</tspan><tspan dy="-0.97"></tspan>F</text><text x="470.55" y="394.99" font-size="4.4" text-anchor="middle" stroke="#000" stroke-width="0.08">pathway</text>
<circle cx="496.4" cy="375.5" r="14.3" fill="none" stroke="#e02020" stroke-width="0.7"/>
<path d="M481.5,386 C482,383 482,380 482.3,377" fill="none" stroke="#e02020" stroke-width="0.6" marker-end="url(#ahr)"/>
<path d="M494,361.5 C499,358 505,357 511,356.6" fill="none" stroke="#e02020" stroke-width="0.6" marker-end="url(#ahr)"/>
<path d="M499,390 L496.5,389.8" fill="none" stroke="#e02020" stroke-width="0.6" marker-end="url(#ahr)"/>
<rect x="487.1" y="370" width="19" height="12.2" rx="2" fill="#fff" stroke="#e05a5a" stroke-width="1.3"/>
<text x="496.6" y="375.07" font-size="4.6" text-anchor="middle" stroke="#000" stroke-width="0.08">serine</text><text x="496.6" y="380.36" font-size="4.6" text-anchor="middle" stroke="#000" stroke-width="0.08">cycle</text>
<g transform="translate(420.2,427.3) rotate(58) scale(1)"><line x1="0" y1="-7.4" x2="0" y2="7.4" stroke="#000" stroke-width="0.9"/><ellipse cx="-2.05" cy="0" rx="1.95" ry="5.2" fill="#000"/><ellipse cx="2.05" cy="0" rx="1.95" ry="5.2" fill="#000"/><line x1="0" y1="-4.2" x2="0" y2="4.2" stroke="#fff" stroke-width="0.35" opacity="0.8"/></g>
<text x="412" y="434.4" font-size="4.6" text-anchor="end" stroke="#000" stroke-width="0.08">SO<tspan dy="1.01" font-size="3.22">4</tspan><tspan dy="-1.01"></tspan><tspan dy="-1.61" font-size="3.22">2-</tspan><tspan dy="1.61"></tspan></text>
<text x="428" y="425.2" font-size="4.4" stroke="#000" stroke-width="0.08">SO<tspan dy="0.97" font-size="3.08">4</tspan><tspan dy="-0.97"></tspan><tspan dy="-1.54" font-size="3.08">2-</tspan><tspan dy="1.54"></tspan></text>
<ellipse cx="450.6" cy="415.8" rx="6.6" ry="3.7" fill="#44aa11"/>
<text x="450.6" y="417.2" font-size="4" text-anchor="middle" fill="#fff" stroke="#fff" stroke-width="0.22">Sat</text>
<ellipse cx="450.6" cy="432" rx="6.6" ry="3.7" fill="#8a2be2"/>
<text x="450.6" y="433.3" font-size="3.7" text-anchor="middle" fill="#fff" stroke="#fff" stroke-width="0.22">CysNC</text>
<path d="M440,421.5 C447,419 455,419 463,421.5" fill="none" stroke="#000" stroke-width="0.55" marker-end="url(#ahk)"/>
<path d="M440,425 C447,428 455,428 463,424.5" fill="none" stroke="#000" stroke-width="0.55" marker-end="url(#ahk)"/>
<text x="463.5" y="424.7" font-size="4.4" stroke="#000" stroke-width="0.08">APS</text>
<path d="M472,423L490.5,423" fill="none" stroke="#000" stroke-width="0.55" marker-end="url(#ahk)"/>
<rect x="473.5" y="415.4" width="12" height="7" rx="3.2" fill="#000"/>
<text x="479.5" y="420.23" font-size="3.8" text-anchor="middle" fill="#fff" stroke="#fff" stroke-width="0.22">CysC</text>
<text x="491.8" y="424.5" font-size="4.4" stroke="#000" stroke-width="0.08">PAPS</text>
<path d="M497,426L497,436.5" fill="none" stroke="#000" stroke-width="0.55" marker-end="url(#ahk)"/>
<rect x="496.1" y="427.8" width="12.3" height="6.1" rx="3" fill="#000"/>
<text x="502.25" y="432.18" font-size="3.8" text-anchor="middle" fill="#fff" stroke="#fff" stroke-width="0.22">CysH</text>
<text x="491" y="442.9" font-size="4.4" stroke="#000" stroke-width="0.08">SO<tspan dy="0.97" font-size="3.08">3</tspan><tspan dy="-0.97"></tspan><tspan dy="-1.54" font-size="3.08">2-</tspan><tspan dy="1.54"></tspan></text>
<text x="460.5" y="442.9" font-size="4.4" stroke="#000" stroke-width="0.08">S<tspan dy="-1.54" font-size="3.08">2-</tspan><tspan dy="1.54"></tspan></text>
<rect x="473" y="429.3" width="11" height="7" rx="3.2" fill="#ff6a10"/>
<text x="478.5" y="434.1" font-size="3.7" text-anchor="middle" fill="#fff" stroke="#fff" stroke-width="0.22">CysJI</text>
<path d="M491,439 C485,436 474,436 467,439.5" fill="none" stroke="#000" stroke-width="0.55" marker-end="url(#ahk)"/>
<path d="M467,442.5 C474,446 485,446 490.5,442" fill="none" stroke="#000" stroke-width="0.55" marker-end="url(#ahk)"/>
<ellipse cx="479" cy="449.4" rx="6.6" ry="3.7" fill="#44aa11"/>
<text x="479" y="450.8" font-size="4" text-anchor="middle" fill="#fff" stroke="#fff" stroke-width="0.22">Sir</text>
<rect x="508" y="441.8" width="11.8" height="15.4" rx="5" fill="#000"/><text x="513.9" y="451.25" font-size="5" text-anchor="middle" fill="#fff" stroke="#fff" stroke-width="0.22" font-family="Liberation Serif, serif">I</text>
<rect x="522.4" y="441.8" width="11.7" height="15.4" rx="5" fill="#000"/><text x="528.25" y="451.25" font-size="5" text-anchor="middle" fill="#fff" stroke="#fff" stroke-width="0.22" font-family="Liberation Serif, serif">II</text>
<rect x="537" y="441.8" width="11.7" height="15.4" rx="5" fill="#000"/><text x="542.85" y="451.25" font-size="5" text-anchor="middle" fill="#fff" stroke="#fff" stroke-width="0.22" font-family="Liberation Serif, serif">III</text>
<rect x="551.3" y="441.8" width="11.7" height="15.4" rx="5" fill="#000"/><text x="557.15" y="451.25" font-size="5" text-anchor="middle" fill="#fff" stroke="#fff" stroke-width="0.22" font-family="Liberation Serif, serif">III</text>
<rect x="565.7" y="441.8" width="11.9" height="15.4" rx="5" fill="#000"/><text x="571.65" y="448.45" font-size="5" text-anchor="middle" fill="#fff" stroke="#fff" stroke-width="0.22" font-family="Liberation Serif, serif">IV</text><text x="571.65" y="454.05" font-size="5" text-anchor="middle" fill="#fff" stroke="#fff" stroke-width="0.22" font-family="Liberation Serif, serif">cox</text>
<rect x="580.2" y="441.8" width="12.3" height="15.4" rx="5" fill="#1212ee"/><text x="586.35" y="448.45" font-size="5" text-anchor="middle" fill="#fff" stroke="#fff" stroke-width="0.22" font-family="Liberation Serif, serif">IV</text><text x="586.35" y="454.05" font-size="5" text-anchor="middle" fill="#fff" stroke="#fff" stroke-width="0.22" font-family="Liberation Serif, serif">cbb<tspan dy="1.1" font-size="3.5">3</tspan><tspan dy="-1.1"></tspan></text>
<rect x="594.8" y="441.8" width="12.2" height="15.4" rx="5" fill="#44aa11"/><text x="600.9" y="448.45" font-size="5" text-anchor="middle" fill="#fff" stroke="#fff" stroke-width="0.22" font-family="Liberation Serif, serif">IV</text><text x="600.9" y="454.05" font-size="5" text-anchor="middle" fill="#fff" stroke="#fff" stroke-width="0.22" font-family="Liberation Serif, serif">bd</text>
<path d="M513.9,457.2L513.9,462.5" fill="none" stroke="#000" stroke-width="0.68" marker-end="url(#ahk)"/>
<path d="M542.85,457.2L542.85,462.5" fill="none" stroke="#000" stroke-width="0.68" marker-end="url(#ahk)"/>
<path d="M557.15,457.2L557.15,462.5" fill="none" stroke="#000" stroke-width="0.68" marker-end="url(#ahk)"/>
<path d="M571.65,457.2L571.65,462.5" fill="none" stroke="#000" stroke-width="0.68" marker-end="url(#ahk)"/>
<path d="M586.35,457.2L586.35,462.5" fill="none" stroke="#000" stroke-width="0.68" marker-end="url(#ahk)"/>
<path d="M513.9,441.8L513.9,438.5" fill="none" stroke="#000" stroke-width="0.5"/>
<text x="513.9" y="437.6" font-size="4.4" text-anchor="middle" stroke="#000" stroke-width="0.08">H<tspan dy="-1.54" font-size="3.08">+</tspan><tspan dy="1.54"></tspan></text>
<path d="M542.85,441.8L542.85,438.5" fill="none" stroke="#000" stroke-width="0.5"/>
<text x="542.85" y="437.6" font-size="4.4" text-anchor="middle" stroke="#000" stroke-width="0.08">H<tspan dy="-1.54" font-size="3.08">+</tspan><tspan dy="1.54"></tspan></text>
<path d="M557.15,441.8L557.15,438.5" fill="none" stroke="#000" stroke-width="0.5"/>
<text x="557.15" y="437.6" font-size="4.4" text-anchor="middle" stroke="#000" stroke-width="0.08">H<tspan dy="-1.54" font-size="3.08">+</tspan><tspan dy="1.54"></tspan></text>
<path d="M586.35,441.8L586.35,438.5" fill="none" stroke="#000" stroke-width="0.5"/>
<text x="586.35" y="437.6" font-size="4.4" text-anchor="middle" stroke="#000" stroke-width="0.08">H<tspan dy="-1.54" font-size="3.08">+</tspan><tspan dy="1.54"></tspan></text>
<text x="516.3" y="428.4" font-size="4" stroke="#000" stroke-width="0.08">succinate</text>
<text x="527.7" y="431.4" font-size="4" stroke="#000" stroke-width="0.08">fumarate</text>
<path d="M522,429.5 C521,438 524,443 527.5,443 C531,443 533,438 533,432.5" fill="none" stroke="#000" stroke-width="0.55" marker-end="url(#ahk)"/>
<text x="568.6" y="430.6" font-size="4.2" stroke="#000" stroke-width="0.08">O<tspan dy="0.92" font-size="2.94">2</tspan><tspan dy="-0.92"></tspan> + 4H<tspan dy="-1.47" font-size="2.94">+</tspan><tspan dy="1.47"></tspan></text>
<text x="593.6" y="429.4" font-size="4.2" stroke="#000" stroke-width="0.08">2H<tspan dy="0.92" font-size="2.94">2</tspan><tspan dy="-0.92"></tspan>O</text>
<path d="M575,432 C577,440 590,442 599,431.5" fill="none" stroke="#000" stroke-width="0.55" marker-end="url(#ahk)"/>
<path d="M571,432 C571,443 592,445 600.5,432" fill="none" stroke="#000" stroke-width="0.5"/>
<path d="M579,432 C582,439 591,440 597,432" fill="none" stroke="#000" stroke-width="0.5"/>
<path d="M571.6,441.8L571.6,436" fill="none" stroke="#000" stroke-width="0.5"/>
<circle cx="627.6" cy="439.3" r="3.9" fill="#000"/><circle cx="631" cy="436.3" r="3.6" fill="#000"/>
<g transform="translate(633.2,443.6) rotate(45)"><rect x="-3" y="-3.2" width="6" height="6.4" rx="1" fill="#000"/></g>
<text x="611.6" y="447.1" font-size="4.6" stroke="#000" stroke-width="0.08">ATPase</text>
<text x="620" y="424.6" font-size="4.4" stroke="#000" stroke-width="0.08">ATP</text>
<text x="603.6" y="434.2" font-size="4.4" stroke="#000" stroke-width="0.08">ADP+P<tspan dy="0.97" font-size="3.08">i</tspan><tspan dy="-0.97"></tspan></text>
<path d="M614.4,435.5 C616,438.5 620,439.2 625,439" fill="none" stroke="#000" stroke-width="0.68"/>
<path d="M625.3,435.8L623.6,431.8" fill="none" stroke="#000" stroke-width="0.68" marker-end="url(#ahk)"/>
<path d="M630,433 C632,430 632,427 630.8,424.2" fill="none" stroke="#000" stroke-width="0.68" marker-end="url(#ahk)"/>
<text x="630.2" y="451.8" font-size="4.4" stroke="#000" stroke-width="0.08">H<tspan dy="-1.54" font-size="3.08">+</tspan><tspan dy="1.54"></tspan></text>
<g transform="translate(635.4,464.7) rotate(0) scale(1)"><line x1="0" y1="-7.4" x2="0" y2="7.4" stroke="#aaa" stroke-width="0.9"/><ellipse cx="-2.05" cy="0" rx="1.95" ry="5.2" fill="#aaa" stroke="#000" stroke-width="0.5"/><ellipse cx="2.05" cy="0" rx="1.95" ry="5.2" fill="#aaa" stroke="#000" stroke-width="0.5"/><line x1="0" y1="-4.2" x2="0" y2="4.2" stroke="#fff" stroke-width="0.35" opacity="0.8"/></g>
<text x="643.3" y="466.4" font-size="4.8" stroke="#000" stroke-width="0.08">ABC transporters</text>
<rect x="630.6" y="475.5" width="10.8" height="14.8" rx="5" fill="#aaa" stroke="#000" stroke-width="0.5"/>
<text x="643.3" y="481.5" font-size="4.9" stroke="#000" stroke-width="0.08">electron transport</text>
<text x="643.3" y="486.7" font-size="4.9" stroke="#000" stroke-width="0.08">chain complexes</text>
<circle cx="399.8" cy="463.9" r="7.4" fill="#ffcc00"/><circle cx="393.6" cy="473.5" r="7.4" fill="#dd0000"/><circle cx="406" cy="473.5" r="7.4" fill="#0000ff"/><clipPath id="cy3998"><circle cx="399.8" cy="463.9" r="7.4"/></clipPath><clipPath id="cr3998"><circle cx="393.6" cy="473.5" r="7.4"/></clipPath><g clip-path="url(#cy3998)"><circle cx="393.6" cy="473.5" r="7.4" fill="#ff6a00"/><circle cx="406" cy="473.5" r="7.4" fill="#33aa00"/></g><g clip-path="url(#cr3998)"><circle cx="406" cy="473.5" r="7.4" fill="#8833ee"/></g><g clip-path="url(#cy3998)"><g clip-path="url(#cr3998)"><circle cx="406" cy="473.5" r="7.4" fill="#000"/></g></g><circle cx="399.8" cy="463.9" r="7.4" fill="none" stroke="#000" stroke-width="0.45"/><circle cx="393.6" cy="473.5" r="7.4" fill="none" stroke="#000" stroke-width="0.45"/><circle cx="406" cy="473.5" r="7.4" fill="none" stroke="#000" stroke-width="0.45"/>
<text x="372.6" y="455.3" font-size="5.7" stroke="#000" stroke-width="0.08">Ca.  Methylocavus</text>
<text x="358.1" y="480.2" font-size="5.4" stroke="#000" stroke-width="0.08">Methylocella</text>
<text x="413.8" y="480.2" font-size="5.6" stroke="#000" stroke-width="0.08">Ca. Methyloligotropha</text>
<text x="399.25" y="487.9" font-size="4.7" text-anchor="middle" font-weight="bold" stroke="#000" stroke-width="0.22">Methanotroph genomes</text>
</svg>
</body></html>
